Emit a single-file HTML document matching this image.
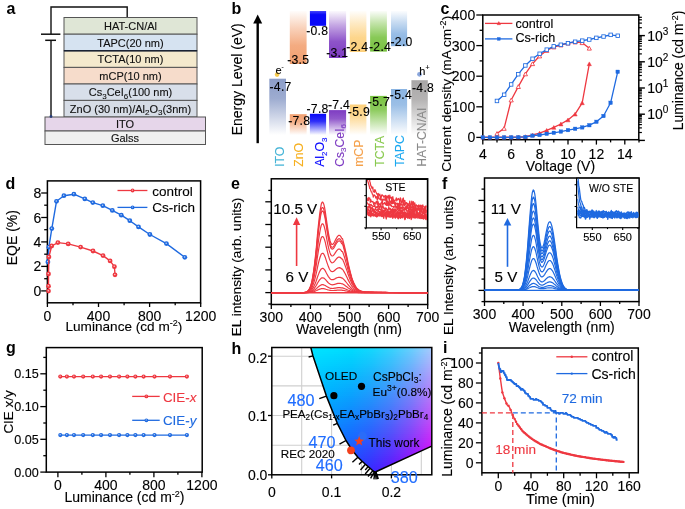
<!DOCTYPE html>
<html><head><meta charset="utf-8"><style>
html,body{margin:0;padding:0;background:#fff;}
svg{display:block;will-change:transform;}
text{font-family:"Liberation Sans", sans-serif;}
</style></head><body>
<svg width="685" height="509" viewBox="0 0 685 509">
<defs><linearGradient id="gl0" x1="0" y1="0" x2="0" y2="1"><stop offset="0" stop-color="#8c9dc8"/><stop offset="0.35" stop-color="#8c9dc8" stop-opacity="0.85"/><stop offset="1" stop-color="#8c9dc8" stop-opacity="0"/></linearGradient><linearGradient id="gu1" x1="0" y1="0" x2="0" y2="1"><stop offset="0" stop-color="#f2a070" stop-opacity="0.03"/><stop offset="0.3" stop-color="#f2a070" stop-opacity="0.45"/><stop offset="0.65" stop-color="#f2a070" stop-opacity="0.88"/><stop offset="1" stop-color="#f2a070"/></linearGradient><linearGradient id="gl1" x1="0" y1="0" x2="0" y2="1"><stop offset="0" stop-color="#f2a070"/><stop offset="0.35" stop-color="#f2a070" stop-opacity="0.85"/><stop offset="1" stop-color="#f2a070" stop-opacity="0"/></linearGradient><linearGradient id="gu2" x1="0" y1="0" x2="0" y2="1"><stop offset="0" stop-color="#0808f8" stop-opacity="0.75"/><stop offset="0.25" stop-color="#0808f8"/><stop offset="1" stop-color="#0808f8"/></linearGradient><linearGradient id="gl2" x1="0" y1="0" x2="0" y2="1"><stop offset="0" stop-color="#0808f8"/><stop offset="0.35" stop-color="#0808f8" stop-opacity="0.85"/><stop offset="1" stop-color="#0808f8" stop-opacity="0"/></linearGradient><linearGradient id="gu3" x1="0" y1="0" x2="0" y2="1"><stop offset="0" stop-color="#7e3cc2" stop-opacity="0.03"/><stop offset="0.3" stop-color="#7e3cc2" stop-opacity="0.45"/><stop offset="0.65" stop-color="#7e3cc2" stop-opacity="0.88"/><stop offset="1" stop-color="#7e3cc2"/></linearGradient><linearGradient id="gl3" x1="0" y1="0" x2="0" y2="1"><stop offset="0" stop-color="#7e3cc2"/><stop offset="0.35" stop-color="#7e3cc2" stop-opacity="0.85"/><stop offset="1" stop-color="#7e3cc2" stop-opacity="0"/></linearGradient><linearGradient id="gu4" x1="0" y1="0" x2="0" y2="1"><stop offset="0" stop-color="#fdd07c" stop-opacity="0.03"/><stop offset="0.3" stop-color="#fdd07c" stop-opacity="0.45"/><stop offset="0.65" stop-color="#fdd07c" stop-opacity="0.88"/><stop offset="1" stop-color="#fdd07c"/></linearGradient><linearGradient id="gl4" x1="0" y1="0" x2="0" y2="1"><stop offset="0" stop-color="#fdd07c"/><stop offset="0.35" stop-color="#fdd07c" stop-opacity="0.85"/><stop offset="1" stop-color="#fdd07c" stop-opacity="0"/></linearGradient><linearGradient id="gu5" x1="0" y1="0" x2="0" y2="1"><stop offset="0" stop-color="#78c240" stop-opacity="0.03"/><stop offset="0.3" stop-color="#78c240" stop-opacity="0.45"/><stop offset="0.65" stop-color="#78c240" stop-opacity="0.88"/><stop offset="1" stop-color="#78c240"/></linearGradient><linearGradient id="gl5" x1="0" y1="0" x2="0" y2="1"><stop offset="0" stop-color="#78c240"/><stop offset="0.35" stop-color="#78c240" stop-opacity="0.85"/><stop offset="1" stop-color="#78c240" stop-opacity="0"/></linearGradient><linearGradient id="gu6" x1="0" y1="0" x2="0" y2="1"><stop offset="0" stop-color="#8ab4e2" stop-opacity="0.03"/><stop offset="0.3" stop-color="#8ab4e2" stop-opacity="0.45"/><stop offset="0.65" stop-color="#8ab4e2" stop-opacity="0.88"/><stop offset="1" stop-color="#8ab4e2"/></linearGradient><linearGradient id="gl6" x1="0" y1="0" x2="0" y2="1"><stop offset="0" stop-color="#8ab4e2"/><stop offset="0.35" stop-color="#8ab4e2" stop-opacity="0.85"/><stop offset="1" stop-color="#8ab4e2" stop-opacity="0"/></linearGradient><linearGradient id="gl7" x1="0" y1="0" x2="0" y2="1"><stop offset="0" stop-color="#a8a6a6"/><stop offset="0.35" stop-color="#a8a6a6" stop-opacity="0.85"/><stop offset="1" stop-color="#a8a6a6" stop-opacity="0"/></linearGradient><linearGradient id="r0" gradientUnits="userSpaceOnUse" x1="271.8" y1="0" x2="431.8" y2="0"><stop offset="0.000" stop-color="#35eeff"/><stop offset="0.125" stop-color="#12e9ff"/><stop offset="0.250" stop-color="#00e5ff"/><stop offset="0.375" stop-color="#00e1ff"/><stop offset="0.500" stop-color="#00ddfe"/><stop offset="0.625" stop-color="#14d9fe"/><stop offset="0.750" stop-color="#37d5fd"/><stop offset="0.875" stop-color="#68d1fd"/><stop offset="1.000" stop-color="#a6cdfe"/></linearGradient><linearGradient id="r1" gradientUnits="userSpaceOnUse" x1="271.8" y1="0" x2="431.8" y2="0"><stop offset="0.000" stop-color="#35ecff"/><stop offset="0.125" stop-color="#13e8ff"/><stop offset="0.250" stop-color="#00e3ff"/><stop offset="0.375" stop-color="#00dfff"/><stop offset="0.500" stop-color="#00dbfe"/><stop offset="0.625" stop-color="#15d6fd"/><stop offset="0.750" stop-color="#38d2fd"/><stop offset="0.875" stop-color="#68cefd"/><stop offset="1.000" stop-color="#a7cafd"/></linearGradient><linearGradient id="r2" gradientUnits="userSpaceOnUse" x1="271.8" y1="0" x2="431.8" y2="0"><stop offset="0.000" stop-color="#35ebff"/><stop offset="0.125" stop-color="#13e6ff"/><stop offset="0.250" stop-color="#00e1ff"/><stop offset="0.375" stop-color="#00ddff"/><stop offset="0.500" stop-color="#00d8fe"/><stop offset="0.625" stop-color="#15d4fd"/><stop offset="0.750" stop-color="#38cffd"/><stop offset="0.875" stop-color="#69cbfd"/><stop offset="1.000" stop-color="#a8c6fd"/></linearGradient><linearGradient id="r3" gradientUnits="userSpaceOnUse" x1="271.8" y1="0" x2="431.8" y2="0"><stop offset="0.000" stop-color="#35e9ff"/><stop offset="0.125" stop-color="#13e4ff"/><stop offset="0.250" stop-color="#00dfff"/><stop offset="0.375" stop-color="#00dbff"/><stop offset="0.500" stop-color="#00d6fe"/><stop offset="0.625" stop-color="#16d1fd"/><stop offset="0.750" stop-color="#39ccfd"/><stop offset="0.875" stop-color="#6ac7fd"/><stop offset="1.000" stop-color="#a9c3fd"/></linearGradient><linearGradient id="r4" gradientUnits="userSpaceOnUse" x1="271.8" y1="0" x2="431.8" y2="0"><stop offset="0.000" stop-color="#35e8ff"/><stop offset="0.125" stop-color="#14e3ff"/><stop offset="0.250" stop-color="#00deff"/><stop offset="0.375" stop-color="#00d8ff"/><stop offset="0.500" stop-color="#01d3fe"/><stop offset="0.625" stop-color="#16cefd"/><stop offset="0.750" stop-color="#39c9fd"/><stop offset="0.875" stop-color="#6ac4fd"/><stop offset="1.000" stop-color="#a9bffd"/></linearGradient><linearGradient id="r5" gradientUnits="userSpaceOnUse" x1="271.8" y1="0" x2="431.8" y2="0"><stop offset="0.000" stop-color="#36e7ff"/><stop offset="0.125" stop-color="#14e1ff"/><stop offset="0.250" stop-color="#00dcff"/><stop offset="0.375" stop-color="#00d6ff"/><stop offset="0.500" stop-color="#01d1fe"/><stop offset="0.625" stop-color="#17ccfd"/><stop offset="0.750" stop-color="#3ac6fd"/><stop offset="0.875" stop-color="#6bc1fd"/><stop offset="1.000" stop-color="#aabcfd"/></linearGradient><linearGradient id="r6" gradientUnits="userSpaceOnUse" x1="271.8" y1="0" x2="431.8" y2="0"><stop offset="0.000" stop-color="#36e5ff"/><stop offset="0.125" stop-color="#14dfff"/><stop offset="0.250" stop-color="#00daff"/><stop offset="0.375" stop-color="#00d4ff"/><stop offset="0.500" stop-color="#02cefe"/><stop offset="0.625" stop-color="#17c9fd"/><stop offset="0.750" stop-color="#3bc3fd"/><stop offset="0.875" stop-color="#6cbefc"/><stop offset="1.000" stop-color="#abb9fc"/></linearGradient><linearGradient id="r7" gradientUnits="userSpaceOnUse" x1="271.8" y1="0" x2="431.8" y2="0"><stop offset="0.000" stop-color="#36e4ff"/><stop offset="0.125" stop-color="#14deff"/><stop offset="0.250" stop-color="#00d8ff"/><stop offset="0.375" stop-color="#00d2ff"/><stop offset="0.500" stop-color="#02ccfe"/><stop offset="0.625" stop-color="#18c6fd"/><stop offset="0.750" stop-color="#3bc0fd"/><stop offset="0.875" stop-color="#6cbbfc"/><stop offset="1.000" stop-color="#acb5fc"/></linearGradient><linearGradient id="r8" gradientUnits="userSpaceOnUse" x1="271.8" y1="0" x2="431.8" y2="0"><stop offset="0.000" stop-color="#36e2ff"/><stop offset="0.125" stop-color="#15dcff"/><stop offset="0.250" stop-color="#01d6ff"/><stop offset="0.375" stop-color="#00d0ff"/><stop offset="0.500" stop-color="#03cafe"/><stop offset="0.625" stop-color="#18c4fd"/><stop offset="0.750" stop-color="#3cbefc"/><stop offset="0.875" stop-color="#6db8fc"/><stop offset="1.000" stop-color="#acb2fc"/></linearGradient><linearGradient id="r9" gradientUnits="userSpaceOnUse" x1="271.8" y1="0" x2="431.8" y2="0"><stop offset="0.000" stop-color="#37e1ff"/><stop offset="0.125" stop-color="#15daff"/><stop offset="0.250" stop-color="#01d4ff"/><stop offset="0.375" stop-color="#00ceff"/><stop offset="0.500" stop-color="#03c7fe"/><stop offset="0.625" stop-color="#19c1fd"/><stop offset="0.750" stop-color="#3cbbfc"/><stop offset="0.875" stop-color="#6eb4fc"/><stop offset="1.000" stop-color="#adaefc"/></linearGradient><linearGradient id="r10" gradientUnits="userSpaceOnUse" x1="271.8" y1="0" x2="431.8" y2="0"><stop offset="0.000" stop-color="#37dfff"/><stop offset="0.125" stop-color="#15d9ff"/><stop offset="0.250" stop-color="#02d2ff"/><stop offset="0.375" stop-color="#00cbff"/><stop offset="0.500" stop-color="#04c5fe"/><stop offset="0.625" stop-color="#19befd"/><stop offset="0.750" stop-color="#3db8fc"/><stop offset="0.875" stop-color="#6fb1fc"/><stop offset="1.000" stop-color="#aeabfc"/></linearGradient><linearGradient id="r11" gradientUnits="userSpaceOnUse" x1="271.8" y1="0" x2="431.8" y2="0"><stop offset="0.000" stop-color="#37deff"/><stop offset="0.125" stop-color="#16d7ff"/><stop offset="0.250" stop-color="#02d0ff"/><stop offset="0.375" stop-color="#00c9ff"/><stop offset="0.500" stop-color="#04c2fe"/><stop offset="0.625" stop-color="#1abbfd"/><stop offset="0.750" stop-color="#3eb5fc"/><stop offset="0.875" stop-color="#6faefc"/><stop offset="1.000" stop-color="#afa7fc"/></linearGradient><linearGradient id="r12" gradientUnits="userSpaceOnUse" x1="271.8" y1="0" x2="431.8" y2="0"><stop offset="0.000" stop-color="#37ddff"/><stop offset="0.125" stop-color="#16d5ff"/><stop offset="0.250" stop-color="#02ceff"/><stop offset="0.375" stop-color="#00c7ff"/><stop offset="0.500" stop-color="#05c0fe"/><stop offset="0.625" stop-color="#1bb9fd"/><stop offset="0.750" stop-color="#3eb2fc"/><stop offset="0.875" stop-color="#70abfc"/><stop offset="1.000" stop-color="#afa4fb"/></linearGradient><linearGradient id="r13" gradientUnits="userSpaceOnUse" x1="271.8" y1="0" x2="431.8" y2="0"><stop offset="0.000" stop-color="#37dbff"/><stop offset="0.125" stop-color="#16d4ff"/><stop offset="0.250" stop-color="#03ccff"/><stop offset="0.375" stop-color="#00c5ff"/><stop offset="0.500" stop-color="#05bdfe"/><stop offset="0.625" stop-color="#1bb6fd"/><stop offset="0.750" stop-color="#3faffc"/><stop offset="0.875" stop-color="#71a7fb"/><stop offset="1.000" stop-color="#b0a0fb"/></linearGradient><linearGradient id="r14" gradientUnits="userSpaceOnUse" x1="271.8" y1="0" x2="431.8" y2="0"><stop offset="0.000" stop-color="#38daff"/><stop offset="0.125" stop-color="#16d2ff"/><stop offset="0.250" stop-color="#03caff"/><stop offset="0.375" stop-color="#00c2ff"/><stop offset="0.500" stop-color="#06bbfe"/><stop offset="0.625" stop-color="#1cb3fd"/><stop offset="0.750" stop-color="#40acfc"/><stop offset="0.875" stop-color="#71a4fb"/><stop offset="1.000" stop-color="#b19dfb"/></linearGradient><linearGradient id="r15" gradientUnits="userSpaceOnUse" x1="271.8" y1="0" x2="431.8" y2="0"><stop offset="0.000" stop-color="#38d8ff"/><stop offset="0.125" stop-color="#17d0ff"/><stop offset="0.250" stop-color="#03c8ff"/><stop offset="0.375" stop-color="#00c0ff"/><stop offset="0.500" stop-color="#06b8fe"/><stop offset="0.625" stop-color="#1cb0fd"/><stop offset="0.750" stop-color="#40a9fc"/><stop offset="0.875" stop-color="#72a1fb"/><stop offset="1.000" stop-color="#b299fb"/></linearGradient><linearGradient id="r16" gradientUnits="userSpaceOnUse" x1="271.8" y1="0" x2="431.8" y2="0"><stop offset="0.000" stop-color="#38d7ff"/><stop offset="0.125" stop-color="#17ceff"/><stop offset="0.250" stop-color="#04c6ff"/><stop offset="0.375" stop-color="#00beff"/><stop offset="0.500" stop-color="#07b6fe"/><stop offset="0.625" stop-color="#1daefd"/><stop offset="0.750" stop-color="#41a6fc"/><stop offset="0.875" stop-color="#739efb"/><stop offset="1.000" stop-color="#b296fb"/></linearGradient><linearGradient id="r17" gradientUnits="userSpaceOnUse" x1="271.8" y1="0" x2="431.8" y2="0"><stop offset="0.000" stop-color="#38d5ff"/><stop offset="0.125" stop-color="#17cdff"/><stop offset="0.250" stop-color="#04c4ff"/><stop offset="0.375" stop-color="#00bcff"/><stop offset="0.500" stop-color="#07b3fe"/><stop offset="0.625" stop-color="#1dabfc"/><stop offset="0.750" stop-color="#42a3fc"/><stop offset="0.875" stop-color="#739afb"/><stop offset="1.000" stop-color="#b392fb"/></linearGradient><linearGradient id="r18" gradientUnits="userSpaceOnUse" x1="271.8" y1="0" x2="431.8" y2="0"><stop offset="0.000" stop-color="#39d4ff"/><stop offset="0.125" stop-color="#18cbff"/><stop offset="0.250" stop-color="#04c2ff"/><stop offset="0.375" stop-color="#00b9ff"/><stop offset="0.500" stop-color="#08b1fe"/><stop offset="0.625" stop-color="#1ea8fc"/><stop offset="0.750" stop-color="#42a0fc"/><stop offset="0.875" stop-color="#7497fb"/><stop offset="1.000" stop-color="#b48ffa"/></linearGradient><linearGradient id="r19" gradientUnits="userSpaceOnUse" x1="271.8" y1="0" x2="431.8" y2="0"><stop offset="0.000" stop-color="#39d2ff"/><stop offset="0.125" stop-color="#18c9ff"/><stop offset="0.250" stop-color="#05c0ff"/><stop offset="0.375" stop-color="#00b7ff"/><stop offset="0.500" stop-color="#08aefe"/><stop offset="0.625" stop-color="#1fa5fc"/><stop offset="0.750" stop-color="#439dfc"/><stop offset="0.875" stop-color="#7594fb"/><stop offset="1.000" stop-color="#b58bfa"/></linearGradient><linearGradient id="r20" gradientUnits="userSpaceOnUse" x1="271.8" y1="0" x2="431.8" y2="0"><stop offset="0.000" stop-color="#39d1ff"/><stop offset="0.125" stop-color="#18c7ff"/><stop offset="0.250" stop-color="#05beff"/><stop offset="0.375" stop-color="#00b5ff"/><stop offset="0.500" stop-color="#09acfe"/><stop offset="0.625" stop-color="#1fa3fc"/><stop offset="0.750" stop-color="#439afb"/><stop offset="0.875" stop-color="#7691fb"/><stop offset="1.000" stop-color="#b688fa"/></linearGradient><linearGradient id="r21" gradientUnits="userSpaceOnUse" x1="271.8" y1="0" x2="431.8" y2="0"><stop offset="0.000" stop-color="#39cfff"/><stop offset="0.125" stop-color="#19c6ff"/><stop offset="0.250" stop-color="#06bcff"/><stop offset="0.375" stop-color="#00b3ff"/><stop offset="0.500" stop-color="#09a9fe"/><stop offset="0.625" stop-color="#20a0fc"/><stop offset="0.750" stop-color="#4497fb"/><stop offset="0.875" stop-color="#768dfb"/><stop offset="1.000" stop-color="#b684fa"/></linearGradient><linearGradient id="r22" gradientUnits="userSpaceOnUse" x1="271.8" y1="0" x2="431.8" y2="0"><stop offset="0.000" stop-color="#3aceff"/><stop offset="0.125" stop-color="#19c4ff"/><stop offset="0.250" stop-color="#06baff"/><stop offset="0.375" stop-color="#01b0ff"/><stop offset="0.500" stop-color="#0aa7fe"/><stop offset="0.625" stop-color="#209dfc"/><stop offset="0.750" stop-color="#4593fb"/><stop offset="0.875" stop-color="#778afb"/><stop offset="1.000" stop-color="#b781fa"/></linearGradient><linearGradient id="r23" gradientUnits="userSpaceOnUse" x1="271.8" y1="0" x2="431.8" y2="0"><stop offset="0.000" stop-color="#3accff"/><stop offset="0.125" stop-color="#19c2ff"/><stop offset="0.250" stop-color="#06b8ff"/><stop offset="0.375" stop-color="#01aeff"/><stop offset="0.500" stop-color="#0aa4fe"/><stop offset="0.625" stop-color="#219afc"/><stop offset="0.750" stop-color="#4590fb"/><stop offset="0.875" stop-color="#7887fa"/><stop offset="1.000" stop-color="#b87dfa"/></linearGradient><linearGradient id="r24" gradientUnits="userSpaceOnUse" x1="271.8" y1="0" x2="431.8" y2="0"><stop offset="0.000" stop-color="#3acaff"/><stop offset="0.125" stop-color="#1ac0ff"/><stop offset="0.250" stop-color="#07b6ff"/><stop offset="0.375" stop-color="#02acff"/><stop offset="0.500" stop-color="#0ba2fe"/><stop offset="0.625" stop-color="#2297fc"/><stop offset="0.750" stop-color="#468dfb"/><stop offset="0.875" stop-color="#7883fa"/><stop offset="1.000" stop-color="#b979fa"/></linearGradient><linearGradient id="r25" gradientUnits="userSpaceOnUse" x1="271.8" y1="0" x2="431.8" y2="0"><stop offset="0.000" stop-color="#3ac9ff"/><stop offset="0.125" stop-color="#1abeff"/><stop offset="0.250" stop-color="#07b4ff"/><stop offset="0.375" stop-color="#02a9ff"/><stop offset="0.500" stop-color="#0b9ffe"/><stop offset="0.625" stop-color="#2295fc"/><stop offset="0.750" stop-color="#478afb"/><stop offset="0.875" stop-color="#7980fa"/><stop offset="1.000" stop-color="#ba76fa"/></linearGradient><linearGradient id="r26" gradientUnits="userSpaceOnUse" x1="271.8" y1="0" x2="431.8" y2="0"><stop offset="0.000" stop-color="#3bc7ff"/><stop offset="0.125" stop-color="#1abdff"/><stop offset="0.250" stop-color="#08b2ff"/><stop offset="0.375" stop-color="#03a7ff"/><stop offset="0.500" stop-color="#0c9cfe"/><stop offset="0.625" stop-color="#2392fc"/><stop offset="0.750" stop-color="#4787fb"/><stop offset="0.875" stop-color="#7a7dfa"/><stop offset="1.000" stop-color="#ba72f9"/></linearGradient><linearGradient id="r27" gradientUnits="userSpaceOnUse" x1="271.8" y1="0" x2="431.8" y2="0"><stop offset="0.000" stop-color="#3bc6ff"/><stop offset="0.125" stop-color="#1bbbff"/><stop offset="0.250" stop-color="#08b0ff"/><stop offset="0.375" stop-color="#03a5ff"/><stop offset="0.500" stop-color="#0c9afe"/><stop offset="0.625" stop-color="#238ffc"/><stop offset="0.750" stop-color="#4884fb"/><stop offset="0.875" stop-color="#7b79fa"/><stop offset="1.000" stop-color="#bb6ff9"/></linearGradient><linearGradient id="r28" gradientUnits="userSpaceOnUse" x1="271.8" y1="0" x2="431.8" y2="0"><stop offset="0.000" stop-color="#3bc4ff"/><stop offset="0.125" stop-color="#1bb9ff"/><stop offset="0.250" stop-color="#08aeff"/><stop offset="0.375" stop-color="#04a2ff"/><stop offset="0.500" stop-color="#0d97fe"/><stop offset="0.625" stop-color="#248cfc"/><stop offset="0.750" stop-color="#4981fb"/><stop offset="0.875" stop-color="#7b76fa"/><stop offset="1.000" stop-color="#bc6bf9"/></linearGradient><linearGradient id="r29" gradientUnits="userSpaceOnUse" x1="271.8" y1="0" x2="431.8" y2="0"><stop offset="0.000" stop-color="#3cc3ff"/><stop offset="0.125" stop-color="#1bb7ff"/><stop offset="0.250" stop-color="#09abff"/><stop offset="0.375" stop-color="#04a0ff"/><stop offset="0.500" stop-color="#0d95fe"/><stop offset="0.625" stop-color="#2589fc"/><stop offset="0.750" stop-color="#497efb"/><stop offset="0.875" stop-color="#7c73fa"/><stop offset="1.000" stop-color="#bd67f9"/></linearGradient><linearGradient id="r30" gradientUnits="userSpaceOnUse" x1="271.8" y1="0" x2="431.8" y2="0"><stop offset="0.000" stop-color="#3cc1ff"/><stop offset="0.125" stop-color="#1cb5ff"/><stop offset="0.250" stop-color="#09a9ff"/><stop offset="0.375" stop-color="#059eff"/><stop offset="0.500" stop-color="#0e92fe"/><stop offset="0.625" stop-color="#2586fc"/><stop offset="0.750" stop-color="#4a7bfb"/><stop offset="0.875" stop-color="#7d6ffa"/><stop offset="1.000" stop-color="#be64f9"/></linearGradient><linearGradient id="r31" gradientUnits="userSpaceOnUse" x1="271.8" y1="0" x2="431.8" y2="0"><stop offset="0.000" stop-color="#3cbfff"/><stop offset="0.125" stop-color="#1cb3ff"/><stop offset="0.250" stop-color="#0aa7ff"/><stop offset="0.375" stop-color="#059bff"/><stop offset="0.500" stop-color="#0f8ffe"/><stop offset="0.625" stop-color="#2683fc"/><stop offset="0.750" stop-color="#4b78fb"/><stop offset="0.875" stop-color="#7e6cfa"/><stop offset="1.000" stop-color="#be60f9"/></linearGradient><linearGradient id="r32" gradientUnits="userSpaceOnUse" x1="271.8" y1="0" x2="431.8" y2="0"><stop offset="0.000" stop-color="#3cbeff"/><stop offset="0.125" stop-color="#1cb1ff"/><stop offset="0.250" stop-color="#0aa5ff"/><stop offset="0.375" stop-color="#0699ff"/><stop offset="0.500" stop-color="#0f8dfe"/><stop offset="0.625" stop-color="#2681fc"/><stop offset="0.750" stop-color="#4c75fb"/><stop offset="0.875" stop-color="#7e68fa"/><stop offset="1.000" stop-color="#bf5cf9"/></linearGradient><linearGradient id="r33" gradientUnits="userSpaceOnUse" x1="271.8" y1="0" x2="431.8" y2="0"><stop offset="0.000" stop-color="#3dbcff"/><stop offset="0.125" stop-color="#1db0ff"/><stop offset="0.250" stop-color="#0ba3ff"/><stop offset="0.375" stop-color="#0697ff"/><stop offset="0.500" stop-color="#108afe"/><stop offset="0.625" stop-color="#277efd"/><stop offset="0.750" stop-color="#4c71fb"/><stop offset="0.875" stop-color="#7f65fa"/><stop offset="1.000" stop-color="#c059f9"/></linearGradient><linearGradient id="r34" gradientUnits="userSpaceOnUse" x1="271.8" y1="0" x2="431.8" y2="0"><stop offset="0.000" stop-color="#3dbbff"/><stop offset="0.125" stop-color="#1daeff"/><stop offset="0.250" stop-color="#0ba1ff"/><stop offset="0.375" stop-color="#0794ff"/><stop offset="0.500" stop-color="#1087fe"/><stop offset="0.625" stop-color="#287bfd"/><stop offset="0.750" stop-color="#4d6efb"/><stop offset="0.875" stop-color="#8062fa"/><stop offset="1.000" stop-color="#c155f9"/></linearGradient><linearGradient id="r35" gradientUnits="userSpaceOnUse" x1="271.8" y1="0" x2="431.8" y2="0"><stop offset="0.000" stop-color="#3db9ff"/><stop offset="0.125" stop-color="#1dacff"/><stop offset="0.250" stop-color="#0b9fff"/><stop offset="0.375" stop-color="#0792ff"/><stop offset="0.500" stop-color="#1185fe"/><stop offset="0.625" stop-color="#2878fd"/><stop offset="0.750" stop-color="#4e6bfb"/><stop offset="0.875" stop-color="#815efa"/><stop offset="1.000" stop-color="#c252f9"/></linearGradient><linearGradient id="r36" gradientUnits="userSpaceOnUse" x1="271.8" y1="0" x2="431.8" y2="0"><stop offset="0.000" stop-color="#3eb7ff"/><stop offset="0.125" stop-color="#1eaaff"/><stop offset="0.250" stop-color="#0c9dff"/><stop offset="0.375" stop-color="#088fff"/><stop offset="0.500" stop-color="#1182fe"/><stop offset="0.625" stop-color="#2975fd"/><stop offset="0.750" stop-color="#4e68fb"/><stop offset="0.875" stop-color="#815bfa"/><stop offset="1.000" stop-color="#c34ef9"/></linearGradient><linearGradient id="r37" gradientUnits="userSpaceOnUse" x1="271.8" y1="0" x2="431.8" y2="0"><stop offset="0.000" stop-color="#3eb6ff"/><stop offset="0.125" stop-color="#1ea8ff"/><stop offset="0.250" stop-color="#0c9aff"/><stop offset="0.375" stop-color="#088dff"/><stop offset="0.500" stop-color="#1280ff"/><stop offset="0.625" stop-color="#2a72fd"/><stop offset="0.750" stop-color="#4f65fb"/><stop offset="0.875" stop-color="#8257fa"/><stop offset="1.000" stop-color="#c34af8"/></linearGradient><linearGradient id="r38" gradientUnits="userSpaceOnUse" x1="271.8" y1="0" x2="431.8" y2="0"><stop offset="0.000" stop-color="#3eb4ff"/><stop offset="0.125" stop-color="#1fa6ff"/><stop offset="0.250" stop-color="#0d98ff"/><stop offset="0.375" stop-color="#098bff"/><stop offset="0.500" stop-color="#137dff"/><stop offset="0.625" stop-color="#2a6ffd"/><stop offset="0.750" stop-color="#5062fb"/><stop offset="0.875" stop-color="#8354fa"/><stop offset="1.000" stop-color="#c447f8"/></linearGradient><linearGradient id="r39" gradientUnits="userSpaceOnUse" x1="271.8" y1="0" x2="431.8" y2="0"><stop offset="0.000" stop-color="#3fb2ff"/><stop offset="0.125" stop-color="#1fa4ff"/><stop offset="0.250" stop-color="#0d96ff"/><stop offset="0.375" stop-color="#0988ff"/><stop offset="0.500" stop-color="#137aff"/><stop offset="0.625" stop-color="#2b6cfd"/><stop offset="0.750" stop-color="#505efb"/><stop offset="0.875" stop-color="#8451fa"/><stop offset="1.000" stop-color="#c543f8"/></linearGradient><linearGradient id="r40" gradientUnits="userSpaceOnUse" x1="271.8" y1="0" x2="431.8" y2="0"><stop offset="0.000" stop-color="#3fb1ff"/><stop offset="0.125" stop-color="#1fa2ff"/><stop offset="0.250" stop-color="#0e94ff"/><stop offset="0.375" stop-color="#0a86ff"/><stop offset="0.500" stop-color="#1477ff"/><stop offset="0.625" stop-color="#2b69fd"/><stop offset="0.750" stop-color="#515bfb"/><stop offset="0.875" stop-color="#854dfa"/><stop offset="1.000" stop-color="#c63ff8"/></linearGradient><linearGradient id="r41" gradientUnits="userSpaceOnUse" x1="271.8" y1="0" x2="431.8" y2="0"><stop offset="0.000" stop-color="#3fafff"/><stop offset="0.125" stop-color="#20a0ff"/><stop offset="0.250" stop-color="#0e92ff"/><stop offset="0.375" stop-color="#0a83ff"/><stop offset="0.500" stop-color="#1475ff"/><stop offset="0.625" stop-color="#2c66fd"/><stop offset="0.750" stop-color="#5258fb"/><stop offset="0.875" stop-color="#854afa"/><stop offset="1.000" stop-color="#c73bf8"/></linearGradient><linearGradient id="r42" gradientUnits="userSpaceOnUse" x1="271.8" y1="0" x2="431.8" y2="0"><stop offset="0.000" stop-color="#3fadff"/><stop offset="0.125" stop-color="#209eff"/><stop offset="0.250" stop-color="#0f90ff"/><stop offset="0.375" stop-color="#0b81ff"/><stop offset="0.500" stop-color="#1572ff"/><stop offset="0.625" stop-color="#2d63fd"/><stop offset="0.750" stop-color="#5355fb"/><stop offset="0.875" stop-color="#8646fa"/><stop offset="1.000" stop-color="#c838f8"/></linearGradient><linearGradient id="r43" gradientUnits="userSpaceOnUse" x1="271.8" y1="0" x2="431.8" y2="0"><stop offset="0.000" stop-color="#40acff"/><stop offset="0.125" stop-color="#209cff"/><stop offset="0.250" stop-color="#0f8dff"/><stop offset="0.375" stop-color="#0b7eff"/><stop offset="0.500" stop-color="#156fff"/><stop offset="0.625" stop-color="#2d60fd"/><stop offset="0.750" stop-color="#5352fb"/><stop offset="0.875" stop-color="#8743fa"/><stop offset="1.000" stop-color="#c834f8"/></linearGradient><linearGradient id="r44" gradientUnits="userSpaceOnUse" x1="271.8" y1="0" x2="431.8" y2="0"><stop offset="0.000" stop-color="#40aaff"/><stop offset="0.125" stop-color="#219aff"/><stop offset="0.250" stop-color="#0f8bff"/><stop offset="0.375" stop-color="#0c7cff"/><stop offset="0.500" stop-color="#166dff"/><stop offset="0.625" stop-color="#2e5dfd"/><stop offset="0.750" stop-color="#544efb"/><stop offset="0.875" stop-color="#883ffa"/><stop offset="1.000" stop-color="#c930f8"/></linearGradient><linearGradient id="r45" gradientUnits="userSpaceOnUse" x1="271.8" y1="0" x2="431.8" y2="0"><stop offset="0.000" stop-color="#40a8ff"/><stop offset="0.125" stop-color="#2199ff"/><stop offset="0.250" stop-color="#1089ff"/><stop offset="0.375" stop-color="#0c79ff"/><stop offset="0.500" stop-color="#176aff"/><stop offset="0.625" stop-color="#2f5bfd"/><stop offset="0.750" stop-color="#554bfb"/><stop offset="0.875" stop-color="#893cfa"/><stop offset="1.000" stop-color="#ca2df8"/></linearGradient><linearGradient id="r46" gradientUnits="userSpaceOnUse" x1="271.8" y1="0" x2="431.8" y2="0"><stop offset="0.000" stop-color="#41a6ff"/><stop offset="0.125" stop-color="#2297ff"/><stop offset="0.250" stop-color="#1087ff"/><stop offset="0.375" stop-color="#0d77ff"/><stop offset="0.500" stop-color="#1767ff"/><stop offset="0.625" stop-color="#2f58fd"/><stop offset="0.750" stop-color="#5548fb"/><stop offset="0.875" stop-color="#8938fa"/><stop offset="1.000" stop-color="#cb29f8"/></linearGradient><linearGradient id="r47" gradientUnits="userSpaceOnUse" x1="271.8" y1="0" x2="431.8" y2="0"><stop offset="0.000" stop-color="#41a5ff"/><stop offset="0.125" stop-color="#2295ff"/><stop offset="0.250" stop-color="#1184ff"/><stop offset="0.375" stop-color="#0d74ff"/><stop offset="0.500" stop-color="#1864ff"/><stop offset="0.625" stop-color="#3055fd"/><stop offset="0.750" stop-color="#5645fb"/><stop offset="0.875" stop-color="#8a35fa"/><stop offset="1.000" stop-color="#cc25f8"/></linearGradient><linearGradient id="r48" gradientUnits="userSpaceOnUse" x1="271.8" y1="0" x2="431.8" y2="0"><stop offset="0.000" stop-color="#41a3ff"/><stop offset="0.125" stop-color="#2293ff"/><stop offset="0.250" stop-color="#1182ff"/><stop offset="0.375" stop-color="#0e72ff"/><stop offset="0.500" stop-color="#1862ff"/><stop offset="0.625" stop-color="#3152fd"/><stop offset="0.750" stop-color="#5741fb"/><stop offset="0.875" stop-color="#8b31fa"/><stop offset="1.000" stop-color="#cd21f8"/></linearGradient><linearGradient id="r49" gradientUnits="userSpaceOnUse" x1="271.8" y1="0" x2="431.8" y2="0"><stop offset="0.000" stop-color="#42a1ff"/><stop offset="0.125" stop-color="#2391ff"/><stop offset="0.250" stop-color="#1280ff"/><stop offset="0.375" stop-color="#0e6fff"/><stop offset="0.500" stop-color="#195fff"/><stop offset="0.625" stop-color="#314ffe"/><stop offset="0.750" stop-color="#583efb"/><stop offset="0.875" stop-color="#8c2efa"/><stop offset="1.000" stop-color="#ce1ef8"/></linearGradient><linearGradient id="r50" gradientUnits="userSpaceOnUse" x1="271.8" y1="0" x2="431.8" y2="0"><stop offset="0.000" stop-color="#429fff"/><stop offset="0.125" stop-color="#238fff"/><stop offset="0.250" stop-color="#127eff"/><stop offset="0.375" stop-color="#0f6dff"/><stop offset="0.500" stop-color="#1a5cff"/><stop offset="0.625" stop-color="#324cfe"/><stop offset="0.750" stop-color="#583bfc"/><stop offset="0.875" stop-color="#8d2afa"/><stop offset="1.000" stop-color="#cf1af8"/></linearGradient><linearGradient id="r51" gradientUnits="userSpaceOnUse" x1="271.8" y1="0" x2="431.8" y2="0"><stop offset="0.000" stop-color="#439eff"/><stop offset="0.125" stop-color="#248dff"/><stop offset="0.250" stop-color="#137bff"/><stop offset="0.375" stop-color="#106aff"/><stop offset="0.500" stop-color="#1a59ff"/><stop offset="0.625" stop-color="#3348fe"/><stop offset="0.750" stop-color="#5938fc"/><stop offset="0.875" stop-color="#8d27fa"/><stop offset="1.000" stop-color="#cf16f8"/></linearGradient><linearGradient id="r52" gradientUnits="userSpaceOnUse" x1="271.8" y1="0" x2="431.8" y2="0"><stop offset="0.000" stop-color="#439cff"/><stop offset="0.125" stop-color="#248bff"/><stop offset="0.250" stop-color="#1379ff"/><stop offset="0.375" stop-color="#1068ff"/><stop offset="0.500" stop-color="#1b57ff"/><stop offset="0.625" stop-color="#3345fe"/><stop offset="0.750" stop-color="#5a34fc"/><stop offset="0.875" stop-color="#8e23fa"/><stop offset="1.000" stop-color="#d012f8"/></linearGradient><linearGradient id="r53" gradientUnits="userSpaceOnUse" x1="271.8" y1="0" x2="431.8" y2="0"><stop offset="0.000" stop-color="#439aff"/><stop offset="0.125" stop-color="#2589ff"/><stop offset="0.250" stop-color="#1477ff"/><stop offset="0.375" stop-color="#1165ff"/><stop offset="0.500" stop-color="#1c54ff"/><stop offset="0.625" stop-color="#3442fe"/><stop offset="0.750" stop-color="#5b31fc"/><stop offset="0.875" stop-color="#8f20fa"/><stop offset="1.000" stop-color="#d10ef8"/></linearGradient><linearGradient id="r54" gradientUnits="userSpaceOnUse" x1="271.8" y1="0" x2="431.8" y2="0"><stop offset="0.000" stop-color="#4498ff"/><stop offset="0.125" stop-color="#2586ff"/><stop offset="0.250" stop-color="#1475ff"/><stop offset="0.375" stop-color="#1163ff"/><stop offset="0.500" stop-color="#1c51ff"/><stop offset="0.625" stop-color="#353ffe"/><stop offset="0.750" stop-color="#5b2efc"/><stop offset="0.875" stop-color="#901cfa"/><stop offset="1.000" stop-color="#d20bf8"/></linearGradient><linearGradient id="r55" gradientUnits="userSpaceOnUse" x1="271.8" y1="0" x2="431.8" y2="0"><stop offset="0.000" stop-color="#4497ff"/><stop offset="0.125" stop-color="#2584ff"/><stop offset="0.250" stop-color="#1572ff"/><stop offset="0.375" stop-color="#1260ff"/><stop offset="0.500" stop-color="#1d4eff"/><stop offset="0.625" stop-color="#363cfe"/><stop offset="0.750" stop-color="#5c2afc"/><stop offset="0.875" stop-color="#9119fa"/><stop offset="1.000" stop-color="#d307f8"/></linearGradient><linearGradient id="r56" gradientUnits="userSpaceOnUse" x1="271.8" y1="0" x2="431.8" y2="0"><stop offset="0.000" stop-color="#4495ff"/><stop offset="0.125" stop-color="#2682ff"/><stop offset="0.250" stop-color="#1570ff"/><stop offset="0.375" stop-color="#125eff"/><stop offset="0.500" stop-color="#1d4bff"/><stop offset="0.625" stop-color="#3639fe"/><stop offset="0.750" stop-color="#5d27fc"/><stop offset="0.875" stop-color="#9115fa"/><stop offset="1.000" stop-color="#d403f8"/></linearGradient><linearGradient id="r57" gradientUnits="userSpaceOnUse" x1="271.8" y1="0" x2="431.8" y2="0"><stop offset="0.000" stop-color="#4593ff"/><stop offset="0.125" stop-color="#2680ff"/><stop offset="0.250" stop-color="#166eff"/><stop offset="0.375" stop-color="#135bff"/><stop offset="0.500" stop-color="#1e49ff"/><stop offset="0.625" stop-color="#3736fe"/><stop offset="0.750" stop-color="#5e24fc"/><stop offset="0.875" stop-color="#9211fa"/><stop offset="1.000" stop-color="#d500f8"/></linearGradient><linearGradient id="r58" gradientUnits="userSpaceOnUse" x1="271.8" y1="0" x2="431.8" y2="0"><stop offset="0.000" stop-color="#4591ff"/><stop offset="0.125" stop-color="#277eff"/><stop offset="0.250" stop-color="#166bff"/><stop offset="0.375" stop-color="#1359ff"/><stop offset="0.500" stop-color="#1f46ff"/><stop offset="0.625" stop-color="#3833ff"/><stop offset="0.750" stop-color="#5e20fc"/><stop offset="0.875" stop-color="#930efa"/><stop offset="1.000" stop-color="#d600f8"/></linearGradient><linearGradient id="r59" gradientUnits="userSpaceOnUse" x1="271.8" y1="0" x2="431.8" y2="0"><stop offset="0.000" stop-color="#458fff"/><stop offset="0.125" stop-color="#277cff"/><stop offset="0.250" stop-color="#1769ff"/><stop offset="0.375" stop-color="#1456ff"/><stop offset="0.500" stop-color="#1f43ff"/><stop offset="0.625" stop-color="#3830ff"/><stop offset="0.750" stop-color="#5f1dfc"/><stop offset="0.875" stop-color="#940afa"/><stop offset="1.000" stop-color="#d700f8"/></linearGradient><linearGradient id="r60" gradientUnits="userSpaceOnUse" x1="271.8" y1="0" x2="431.8" y2="0"><stop offset="0.000" stop-color="#468eff"/><stop offset="0.125" stop-color="#287aff"/><stop offset="0.250" stop-color="#1767ff"/><stop offset="0.375" stop-color="#1553ff"/><stop offset="0.500" stop-color="#2040ff"/><stop offset="0.625" stop-color="#392dff"/><stop offset="0.750" stop-color="#601afc"/><stop offset="0.875" stop-color="#9507fa"/><stop offset="1.000" stop-color="#d700f8"/></linearGradient><linearGradient id="r61" gradientUnits="userSpaceOnUse" x1="271.8" y1="0" x2="431.8" y2="0"><stop offset="0.000" stop-color="#468cff"/><stop offset="0.125" stop-color="#2878ff"/><stop offset="0.250" stop-color="#1864ff"/><stop offset="0.375" stop-color="#1551ff"/><stop offset="0.500" stop-color="#213dff"/><stop offset="0.625" stop-color="#3a2aff"/><stop offset="0.750" stop-color="#6116fc"/><stop offset="0.875" stop-color="#9603fa"/><stop offset="1.000" stop-color="#d800f8"/></linearGradient><linearGradient id="r62" gradientUnits="userSpaceOnUse" x1="271.8" y1="0" x2="431.8" y2="0"><stop offset="0.000" stop-color="#478aff"/><stop offset="0.125" stop-color="#2876ff"/><stop offset="0.250" stop-color="#1862ff"/><stop offset="0.375" stop-color="#164eff"/><stop offset="0.500" stop-color="#213aff"/><stop offset="0.625" stop-color="#3a27ff"/><stop offset="0.750" stop-color="#6213fd"/><stop offset="0.875" stop-color="#9600fa"/><stop offset="1.000" stop-color="#d900f8"/></linearGradient><linearGradient id="r63" gradientUnits="userSpaceOnUse" x1="271.8" y1="0" x2="431.8" y2="0"><stop offset="0.000" stop-color="#4788ff"/><stop offset="0.125" stop-color="#2974ff"/><stop offset="0.250" stop-color="#1960ff"/><stop offset="0.375" stop-color="#164cff"/><stop offset="0.500" stop-color="#2238ff"/><stop offset="0.625" stop-color="#3b24ff"/><stop offset="0.750" stop-color="#6210fd"/><stop offset="0.875" stop-color="#9700fa"/><stop offset="1.000" stop-color="#da00f8"/></linearGradient><linearGradient id="r64" gradientUnits="userSpaceOnUse" x1="271.8" y1="0" x2="431.8" y2="0"><stop offset="0.000" stop-color="#4786ff"/><stop offset="0.125" stop-color="#2972ff"/><stop offset="0.250" stop-color="#195dff"/><stop offset="0.375" stop-color="#1749ff"/><stop offset="0.500" stop-color="#2335ff"/><stop offset="0.625" stop-color="#3c20ff"/><stop offset="0.750" stop-color="#630cfd"/><stop offset="0.875" stop-color="#9800fa"/><stop offset="1.000" stop-color="#db00f8"/></linearGradient></defs>
<rect width="685" height="509" fill="#fff"/>
<text x="6.5" y="14" font-size="16" text-anchor="start" fill="#000" font-weight="bold" >a</text>
<text x="231.5" y="14" font-size="16" text-anchor="start" fill="#000" font-weight="bold" >b</text>
<text x="440.5" y="14" font-size="16" text-anchor="start" fill="#000" font-weight="bold" >c</text>
<text x="5.5" y="189" font-size="16" text-anchor="start" fill="#000" font-weight="bold" >d</text>
<text x="231" y="189" font-size="16" text-anchor="start" fill="#000" font-weight="bold" >e</text>
<text x="442" y="189" font-size="16" text-anchor="start" fill="#000" font-weight="bold" >f</text>
<text x="6" y="353" font-size="16" text-anchor="start" fill="#000" font-weight="bold" >g</text>
<text x="231.5" y="353.5" font-size="16" text-anchor="start" fill="#000" font-weight="bold" >h</text>
<text x="443" y="353" font-size="16" text-anchor="start" fill="#000" font-weight="bold" >i</text>
<path d="M51,117 V40.3 M51,34.2 V7 H127.2 V17.5" fill="none" stroke="#111" stroke-width="1.4"/>
<line x1="41" y1="34.2" x2="60.4" y2="34.2" stroke="#111" stroke-width="1.5" />
<line x1="45.2" y1="40.3" x2="56" y2="40.3" stroke="#111" stroke-width="1.5" />
<rect x="64" y="17.5" width="133" height="16.7" fill="#dfe6d6" stroke="#555" stroke-width="1" />
<text x="130.5" y="29.9" font-size="11" text-anchor="middle" fill="#111" font-weight="normal" stroke="#111" stroke-width="0.12" >HAT-CN/Al</text>
<rect x="64" y="34.2" width="133" height="16.6" fill="#d6e3f1" stroke="#555" stroke-width="1" />
<text x="130.5" y="46.5" font-size="11" text-anchor="middle" fill="#111" font-weight="normal" stroke="#111" stroke-width="0.12" >TAPC(20 nm)</text>
<rect x="64" y="50.8" width="133" height="16.6" fill="#f4e9cd" stroke="#555" stroke-width="1" />
<text x="130.5" y="63.1" font-size="11" text-anchor="middle" fill="#111" font-weight="normal" stroke="#111" stroke-width="0.12" >TCTA(10 nm)</text>
<rect x="64" y="67.4" width="133" height="16.6" fill="#f6dccb" stroke="#555" stroke-width="1" />
<text x="130.5" y="79.7" font-size="11" text-anchor="middle" fill="#111" font-weight="normal" stroke="#111" stroke-width="0.12" >mCP(10 nm)</text>
<rect x="64" y="84" width="133" height="16.4" fill="#d8dfea" stroke="#555" stroke-width="1" />
<text x="130.5" y="96.2" font-size="11" text-anchor="middle" fill="#111" font-weight="normal" stroke="#111" stroke-width="0.12" >Cs<tspan dy="2.5" font-size="8">3</tspan><tspan dy="-2.5">CeI</tspan><tspan dy="2.5" font-size="8">6</tspan><tspan dy="-2.5">(100 nm)</tspan></text>
<rect x="64" y="100.4" width="133" height="16.6" fill="#d6dce6" stroke="#555" stroke-width="1" />
<text x="130.5" y="112.7" font-size="11" text-anchor="middle" fill="#111" font-weight="normal" stroke="#111" stroke-width="0.12" >ZnO (30 nm)/Al<tspan dy="2.5" font-size="8">2</tspan><tspan dy="-2.5">O</tspan><tspan dy="2.5" font-size="8">3</tspan><tspan dy="-2.5">(3nm)</tspan></text>
<line x1="64" y1="50.8" x2="197" y2="50.8" stroke="#1a2233" stroke-width="1.6" />
<rect x="45" y="117" width="160.5" height="14" fill="#e6d6ea" stroke="#555" stroke-width="1" />
<text x="125" y="128.2" font-size="11" text-anchor="middle" fill="#111" font-weight="normal" stroke="#111" stroke-width="0.12" >ITO</text>
<rect x="45" y="131" width="160.5" height="13.5" fill="#f0f0f0" stroke="#555" stroke-width="1" />
<text x="125" y="141.7" font-size="11" text-anchor="middle" fill="#111" font-weight="normal" stroke="#111" stroke-width="0.12" >Galss</text>
<circle cx="51" cy="116.5" r="1.4" fill="#2a3f7a"/>
<path d="M257.7,143.2 V22" stroke="#000" stroke-width="2.4"/>
<path d="M253.2,23.5 L262.2,23.5 L257.7,14.5 Z" fill="#000"/>
<text x="0" y="0" font-size="14" text-anchor="start" fill="#000" font-weight="normal" stroke="#000" stroke-width="0.12" transform="translate(241.6,135.3) rotate(-90)" >Energy Level (eV)</text>
<rect x="269.3" y="78.7" width="16.7" height="56.3" fill="url(#gl0)" stroke="none" stroke-width="1" />
<rect x="289.8" y="11" width="16.8" height="53" fill="url(#gu1)" stroke="none" stroke-width="1" />
<rect x="289.8" y="114.2" width="16.8" height="20.8" fill="url(#gl1)" stroke="none" stroke-width="1" />
<rect x="309.9" y="11" width="16.2" height="14.8" fill="url(#gu2)" stroke="none" stroke-width="1" />
<rect x="309.9" y="113.8" width="16.2" height="21.2" fill="url(#gl2)" stroke="none" stroke-width="1" />
<rect x="329" y="11" width="17.1" height="47" fill="url(#gu3)" stroke="none" stroke-width="1" />
<rect x="329" y="110.1" width="17.1" height="24.9" fill="url(#gl3)" stroke="none" stroke-width="1" />
<rect x="349.8" y="11" width="16.6" height="41" fill="url(#gu4)" stroke="none" stroke-width="1" />
<rect x="349.8" y="104.5" width="16.6" height="30.5" fill="url(#gl4)" stroke="none" stroke-width="1" />
<rect x="370.1" y="11" width="16.8" height="40.6" fill="url(#gu5)" stroke="none" stroke-width="1" />
<rect x="370.1" y="95.9" width="16.8" height="39.1" fill="url(#gl5)" stroke="none" stroke-width="1" />
<rect x="391" y="11" width="16.1" height="35.2" fill="url(#gu6)" stroke="none" stroke-width="1" />
<rect x="391" y="89" width="16.1" height="46" fill="url(#gl6)" stroke="none" stroke-width="1" />
<rect x="411.4" y="80.2" width="16.4" height="54.8" fill="url(#gl7)" stroke="none" stroke-width="1" />
<text x="287.2" y="64" font-size="12.2" text-anchor="start" fill="#000" font-weight="normal" stroke="#000" stroke-width="0.12" letter-spacing="0.3">-3.5</text>
<text x="306.2" y="35.2" font-size="12.2" text-anchor="start" fill="#000" font-weight="normal" stroke="#000" stroke-width="0.12" letter-spacing="0.3">-0.8</text>
<text x="326.2" y="57.4" font-size="12.2" text-anchor="start" fill="#000" font-weight="normal" stroke="#000" stroke-width="0.12" letter-spacing="0.3">-3.1</text>
<text x="346.2" y="51" font-size="12.2" text-anchor="start" fill="#000" font-weight="normal" stroke="#000" stroke-width="0.12" letter-spacing="0.3">-2.4</text>
<text x="369" y="51" font-size="12.2" text-anchor="start" fill="#000" font-weight="normal" stroke="#000" stroke-width="0.12" letter-spacing="0.3">-2.4</text>
<text x="390.5" y="45.5" font-size="12.2" text-anchor="start" fill="#000" font-weight="normal" stroke="#000" stroke-width="0.12" letter-spacing="0.3">-2.0</text>
<text x="269.5" y="91.3" font-size="12.2" text-anchor="start" fill="#000" font-weight="normal" stroke="#000" stroke-width="0.12" letter-spacing="0.3">-4.7</text>
<text x="288.2" y="125" font-size="12.2" text-anchor="start" fill="#000" font-weight="normal" stroke="#000" stroke-width="0.12" letter-spacing="0.3">-7.8</text>
<text x="306.5" y="113.3" font-size="12.2" text-anchor="start" fill="#000" font-weight="normal" stroke="#000" stroke-width="0.12" letter-spacing="0.3">-7.8</text>
<text x="328" y="108.6" font-size="12.2" text-anchor="start" fill="#000" font-weight="normal" stroke="#000" stroke-width="0.12" letter-spacing="0.3">-7.4</text>
<text x="347.8" y="115.7" font-size="12.2" text-anchor="start" fill="#000" font-weight="normal" stroke="#000" stroke-width="0.12" letter-spacing="0.3">-5.9</text>
<text x="367.8" y="105.8" font-size="12.2" text-anchor="start" fill="#000" font-weight="normal" stroke="#000" stroke-width="0.12" letter-spacing="0.3">-5.7</text>
<text x="389.8" y="99.3" font-size="12.2" text-anchor="start" fill="#000" font-weight="normal" stroke="#000" stroke-width="0.12" letter-spacing="0.3">-5.4</text>
<text x="412" y="92.2" font-size="12.2" text-anchor="start" fill="#000" font-weight="normal" stroke="#000" stroke-width="0.12" letter-spacing="0.3">-4.8</text>
<circle cx="277.1" cy="74.6" r="2.3" fill="#f8cc50"/>
<text x="275.4" y="74.1" font-size="11" text-anchor="start" fill="#000" font-weight="normal" stroke="#000" stroke-width="0.12" >e<tspan dy="-5" font-size="6.5">-</tspan></text>
<circle cx="419.5" cy="74.3" r="2.4" fill="#8aa6dc"/>
<text x="419.3" y="74.8" font-size="11" text-anchor="start" fill="#000" font-weight="normal" stroke="#000" stroke-width="0.12" >h<tspan dy="-5" font-size="7">+</tspan></text>
<text x="0" y="0" font-size="12.2" text-anchor="start" fill="#45b4d6" font-weight="normal" stroke="#45b4d6" stroke-width="0.12" transform="translate(283.9,166.8) rotate(-90)" >ITO</text>
<text x="0" y="0" font-size="12.2" text-anchor="start" fill="#f6b020" font-weight="normal" stroke="#f6b020" stroke-width="0.12" transform="translate(303.2,166.8) rotate(-90)" >ZnO</text>
<text x="0" y="0" font-size="12.2" text-anchor="start" fill="#0a0aff" font-weight="normal" stroke="#0a0aff" stroke-width="0.12" transform="translate(324.3,166.8) rotate(-90)" >Al<tspan dy="2.5" font-size="8">2</tspan><tspan dy="-2.5">O</tspan><tspan dy="2.5" font-size="8">3</tspan></text>
<text x="0" y="0" font-size="12.2" text-anchor="start" fill="#7e3cc2" font-weight="normal" stroke="#7e3cc2" stroke-width="0.12" transform="translate(343.7,166.8) rotate(-90)" >Cs<tspan dy="2.5" font-size="8">3</tspan><tspan dy="-2.5">CeI</tspan><tspan dy="2.5" font-size="8">6</tspan></text>
<text x="0" y="0" font-size="12.2" text-anchor="start" fill="#f5a04a" font-weight="normal" stroke="#f5a04a" stroke-width="0.12" transform="translate(363.2,166.8) rotate(-90)" >mCP</text>
<text x="0" y="0" font-size="12.2" text-anchor="start" fill="#88c94e" font-weight="normal" stroke="#88c94e" stroke-width="0.12" transform="translate(383.8,166.8) rotate(-90)" >TCTA</text>
<text x="0" y="0" font-size="12.2" text-anchor="start" fill="#1ba8f0" font-weight="normal" stroke="#1ba8f0" stroke-width="0.12" transform="translate(404.3,166.8) rotate(-90)" >TAPC</text>
<text x="0" y="0" font-size="12.2" text-anchor="start" fill="#8a8a8a" font-weight="normal" stroke="#8a8a8a" stroke-width="0.12" transform="translate(425.7,166.8) rotate(-90)" >HAT-CN/Al</text>
<rect x="482.8" y="15" width="156" height="124.7" fill="none" stroke="#000" stroke-width="1.5" />
<line x1="476.3" y1="137.4" x2="482.8" y2="137.4" stroke="#000" stroke-width="1.3" />
<text x="475.2" y="142.4" font-size="14" text-anchor="end" fill="#000" font-weight="normal" stroke="#000" stroke-width="0.12" >0</text>
<line x1="479.6" y1="122.1" x2="482.8" y2="122.1" stroke="#000" stroke-width="1.3" />
<line x1="476.3" y1="106.8" x2="482.8" y2="106.8" stroke="#000" stroke-width="1.3" />
<text x="475.2" y="111.8" font-size="14" text-anchor="end" fill="#000" font-weight="normal" stroke="#000" stroke-width="0.12" >100</text>
<line x1="479.6" y1="91.5" x2="482.8" y2="91.5" stroke="#000" stroke-width="1.3" />
<line x1="476.3" y1="76.2" x2="482.8" y2="76.2" stroke="#000" stroke-width="1.3" />
<text x="475.2" y="81.2" font-size="14" text-anchor="end" fill="#000" font-weight="normal" stroke="#000" stroke-width="0.12" >200</text>
<line x1="479.6" y1="60.9" x2="482.8" y2="60.9" stroke="#000" stroke-width="1.3" />
<line x1="476.3" y1="45.6" x2="482.8" y2="45.6" stroke="#000" stroke-width="1.3" />
<text x="475.2" y="50.6" font-size="14" text-anchor="end" fill="#000" font-weight="normal" stroke="#000" stroke-width="0.12" >300</text>
<line x1="479.6" y1="30.3" x2="482.8" y2="30.3" stroke="#000" stroke-width="1.3" />
<line x1="476.3" y1="15" x2="482.8" y2="15" stroke="#000" stroke-width="1.3" />
<text x="475.2" y="20" font-size="14" text-anchor="end" fill="#000" font-weight="normal" stroke="#000" stroke-width="0.12" >400</text>
<line x1="482.8" y1="139.7" x2="482.8" y2="144.6" stroke="#000" stroke-width="1.3" />
<text x="482.8" y="158.7" font-size="14" text-anchor="middle" fill="#000" font-weight="normal" stroke="#000" stroke-width="0.12" >4</text>
<line x1="497" y1="139.7" x2="497" y2="142.4" stroke="#000" stroke-width="1.3" />
<line x1="511.2" y1="139.7" x2="511.2" y2="144.6" stroke="#000" stroke-width="1.3" />
<text x="511.2" y="158.7" font-size="14" text-anchor="middle" fill="#000" font-weight="normal" stroke="#000" stroke-width="0.12" >6</text>
<line x1="525.4" y1="139.7" x2="525.4" y2="142.4" stroke="#000" stroke-width="1.3" />
<line x1="539.6" y1="139.7" x2="539.6" y2="144.6" stroke="#000" stroke-width="1.3" />
<text x="539.6" y="158.7" font-size="14" text-anchor="middle" fill="#000" font-weight="normal" stroke="#000" stroke-width="0.12" >8</text>
<line x1="553.8" y1="139.7" x2="553.8" y2="142.4" stroke="#000" stroke-width="1.3" />
<line x1="568" y1="139.7" x2="568" y2="144.6" stroke="#000" stroke-width="1.3" />
<text x="568" y="158.7" font-size="14" text-anchor="middle" fill="#000" font-weight="normal" stroke="#000" stroke-width="0.12" >10</text>
<line x1="582.2" y1="139.7" x2="582.2" y2="142.4" stroke="#000" stroke-width="1.3" />
<line x1="596.4" y1="139.7" x2="596.4" y2="144.6" stroke="#000" stroke-width="1.3" />
<text x="596.4" y="158.7" font-size="14" text-anchor="middle" fill="#000" font-weight="normal" stroke="#000" stroke-width="0.12" >12</text>
<line x1="610.6" y1="139.7" x2="610.6" y2="142.4" stroke="#000" stroke-width="1.3" />
<line x1="624.8" y1="139.7" x2="624.8" y2="144.6" stroke="#000" stroke-width="1.3" />
<text x="624.8" y="158.7" font-size="14" text-anchor="middle" fill="#000" font-weight="normal" stroke="#000" stroke-width="0.12" >14</text>
<line x1="639" y1="139.7" x2="639" y2="142.4" stroke="#000" stroke-width="1.3" />
<text x="560.5" y="170.6" font-size="14" text-anchor="middle" fill="#000" font-weight="normal" stroke="#000" stroke-width="0.12" >Voltage (V)</text>
<text x="0" y="0" font-size="13.7" text-anchor="start" fill="#000" font-weight="normal" stroke="#000" stroke-width="0.12" transform="translate(451.2,171.8) rotate(-90)" >Current density (mA cm<tspan dy="-5.5" font-size="9.5">-2</tspan><tspan dy="5.5">)</tspan></text>
<line x1="638.8" y1="140.4" x2="644.9" y2="140.4" stroke="#000" stroke-width="1.4" />
<line x1="638.8" y1="132.5" x2="641.9" y2="132.5" stroke="#000" stroke-width="1.2" />
<line x1="638.8" y1="127.9" x2="641.9" y2="127.9" stroke="#000" stroke-width="1.2" />
<line x1="638.8" y1="124.6" x2="641.9" y2="124.6" stroke="#000" stroke-width="1.2" />
<line x1="638.8" y1="122.1" x2="641.9" y2="122.1" stroke="#000" stroke-width="1.2" />
<line x1="638.8" y1="120" x2="641.9" y2="120" stroke="#000" stroke-width="1.2" />
<line x1="638.8" y1="118.3" x2="641.9" y2="118.3" stroke="#000" stroke-width="1.2" />
<line x1="638.8" y1="116.7" x2="641.9" y2="116.7" stroke="#000" stroke-width="1.2" />
<line x1="638.8" y1="115.4" x2="641.9" y2="115.4" stroke="#000" stroke-width="1.2" />
<line x1="638.8" y1="114.2" x2="644.9" y2="114.2" stroke="#000" stroke-width="1.4" />
<line x1="638.8" y1="106.3" x2="641.9" y2="106.3" stroke="#000" stroke-width="1.2" />
<line x1="638.8" y1="101.7" x2="641.9" y2="101.7" stroke="#000" stroke-width="1.2" />
<line x1="638.8" y1="98.4" x2="641.9" y2="98.4" stroke="#000" stroke-width="1.2" />
<line x1="638.8" y1="95.9" x2="641.9" y2="95.9" stroke="#000" stroke-width="1.2" />
<line x1="638.8" y1="93.8" x2="641.9" y2="93.8" stroke="#000" stroke-width="1.2" />
<line x1="638.8" y1="92.1" x2="641.9" y2="92.1" stroke="#000" stroke-width="1.2" />
<line x1="638.8" y1="90.5" x2="641.9" y2="90.5" stroke="#000" stroke-width="1.2" />
<line x1="638.8" y1="89.2" x2="641.9" y2="89.2" stroke="#000" stroke-width="1.2" />
<line x1="638.8" y1="88" x2="644.9" y2="88" stroke="#000" stroke-width="1.4" />
<line x1="638.8" y1="80.1" x2="641.9" y2="80.1" stroke="#000" stroke-width="1.2" />
<line x1="638.8" y1="75.5" x2="641.9" y2="75.5" stroke="#000" stroke-width="1.2" />
<line x1="638.8" y1="72.2" x2="641.9" y2="72.2" stroke="#000" stroke-width="1.2" />
<line x1="638.8" y1="69.7" x2="641.9" y2="69.7" stroke="#000" stroke-width="1.2" />
<line x1="638.8" y1="67.6" x2="641.9" y2="67.6" stroke="#000" stroke-width="1.2" />
<line x1="638.8" y1="65.9" x2="641.9" y2="65.9" stroke="#000" stroke-width="1.2" />
<line x1="638.8" y1="64.3" x2="641.9" y2="64.3" stroke="#000" stroke-width="1.2" />
<line x1="638.8" y1="63" x2="641.9" y2="63" stroke="#000" stroke-width="1.2" />
<line x1="638.8" y1="61.8" x2="644.9" y2="61.8" stroke="#000" stroke-width="1.4" />
<line x1="638.8" y1="53.9" x2="641.9" y2="53.9" stroke="#000" stroke-width="1.2" />
<line x1="638.8" y1="49.3" x2="641.9" y2="49.3" stroke="#000" stroke-width="1.2" />
<line x1="638.8" y1="46" x2="641.9" y2="46" stroke="#000" stroke-width="1.2" />
<line x1="638.8" y1="43.5" x2="641.9" y2="43.5" stroke="#000" stroke-width="1.2" />
<line x1="638.8" y1="41.4" x2="641.9" y2="41.4" stroke="#000" stroke-width="1.2" />
<line x1="638.8" y1="39.7" x2="641.9" y2="39.7" stroke="#000" stroke-width="1.2" />
<line x1="638.8" y1="38.1" x2="641.9" y2="38.1" stroke="#000" stroke-width="1.2" />
<line x1="638.8" y1="36.8" x2="641.9" y2="36.8" stroke="#000" stroke-width="1.2" />
<line x1="638.8" y1="35.6" x2="644.9" y2="35.6" stroke="#000" stroke-width="1.4" />
<line x1="638.8" y1="27.7" x2="641.9" y2="27.7" stroke="#000" stroke-width="1.2" />
<line x1="638.8" y1="23.1" x2="641.9" y2="23.1" stroke="#000" stroke-width="1.2" />
<line x1="638.8" y1="19.8" x2="641.9" y2="19.8" stroke="#000" stroke-width="1.2" />
<line x1="638.8" y1="17.3" x2="641.9" y2="17.3" stroke="#000" stroke-width="1.2" />
<text x="647.2" y="119.2" font-size="14" text-anchor="start" fill="#000" font-weight="normal" stroke="#000" stroke-width="0.12" >10<tspan dy="-6" font-size="10">0</tspan></text>
<text x="647.2" y="93" font-size="14" text-anchor="start" fill="#000" font-weight="normal" stroke="#000" stroke-width="0.12" >10<tspan dy="-6" font-size="10">1</tspan></text>
<text x="647.2" y="66.8" font-size="14" text-anchor="start" fill="#000" font-weight="normal" stroke="#000" stroke-width="0.12" >10<tspan dy="-6" font-size="10">2</tspan></text>
<text x="647.2" y="40.6" font-size="14" text-anchor="start" fill="#000" font-weight="normal" stroke="#000" stroke-width="0.12" >10<tspan dy="-6" font-size="10">3</tspan></text>
<text x="0" y="0" font-size="13.9" text-anchor="start" fill="#000" font-weight="normal" stroke="#000" stroke-width="0.12" transform="translate(682.6,130.2) rotate(-90)" >Luminance (cd m<tspan dy="-5" font-size="9.5">-2</tspan><tspan dy="5">)</tspan></text>
<polyline points="497,133.5 504.1,128.4 511.2,100 518.3,86.6 525.4,73.9 532.5,63.7 539.6,56 546.7,50.5 553.8,47 560.9,45 568,43.1 575.1,42 582.2,42.7 589.3,48.2" fill="none" stroke="#ee3841" stroke-width="1.3" stroke-linejoin="round" />
<path d="M494.9,135.4 L499.1,135.4 L497,131.6 Z" fill="#fff" stroke="#ee3841" stroke-width="0.85"/>
<path d="M502,130.3 L506.2,130.3 L504.1,126.5 Z" fill="#fff" stroke="#ee3841" stroke-width="0.85"/>
<path d="M509.1,101.9 L513.3,101.9 L511.2,98.1 Z" fill="#fff" stroke="#ee3841" stroke-width="0.85"/>
<path d="M516.2,88.5 L520.4,88.5 L518.3,84.7 Z" fill="#fff" stroke="#ee3841" stroke-width="0.85"/>
<path d="M523.3,75.8 L527.5,75.8 L525.4,72 Z" fill="#fff" stroke="#ee3841" stroke-width="0.85"/>
<path d="M530.4,65.6 L534.6,65.6 L532.5,61.8 Z" fill="#fff" stroke="#ee3841" stroke-width="0.85"/>
<path d="M537.5,57.9 L541.7,57.9 L539.6,54.1 Z" fill="#fff" stroke="#ee3841" stroke-width="0.85"/>
<path d="M544.6,52.4 L548.8,52.4 L546.7,48.6 Z" fill="#fff" stroke="#ee3841" stroke-width="0.85"/>
<path d="M551.7,48.9 L555.9,48.9 L553.8,45.1 Z" fill="#fff" stroke="#ee3841" stroke-width="0.85"/>
<path d="M558.8,46.9 L563,46.9 L560.9,43.1 Z" fill="#fff" stroke="#ee3841" stroke-width="0.85"/>
<path d="M565.9,45 L570.1,45 L568,41.2 Z" fill="#fff" stroke="#ee3841" stroke-width="0.85"/>
<path d="M573,43.9 L577.2,43.9 L575.1,40.1 Z" fill="#fff" stroke="#ee3841" stroke-width="0.85"/>
<path d="M580.1,44.6 L584.3,44.6 L582.2,40.8 Z" fill="#fff" stroke="#ee3841" stroke-width="0.85"/>
<path d="M587.2,50.1 L591.4,50.1 L589.3,46.3 Z" fill="#fff" stroke="#ee3841" stroke-width="0.85"/>
<polyline points="497,100.9 504.1,94.7 511.2,84.4 518.3,74.2 525.4,65.4 532.5,58.8 539.6,53.7 546.7,49.6 553.8,46.4 560.9,44.7 568,43.2 575.1,41.7 582.2,40.6 589.3,39.5 596.4,37.9 603.5,36.5 610.6,34.9 617.7,35.8" fill="none" stroke="#1f6ae0" stroke-width="1.3" stroke-linejoin="round" />
<rect x="495.2" y="99.2" width="3.5" height="3.5" fill="#fff" stroke="#1f6ae0" stroke-width="0.85"/>
<rect x="502.4" y="93" width="3.5" height="3.5" fill="#fff" stroke="#1f6ae0" stroke-width="0.85"/>
<rect x="509.4" y="82.7" width="3.5" height="3.5" fill="#fff" stroke="#1f6ae0" stroke-width="0.85"/>
<rect x="516.5" y="72.5" width="3.5" height="3.5" fill="#fff" stroke="#1f6ae0" stroke-width="0.85"/>
<rect x="523.6" y="63.7" width="3.5" height="3.5" fill="#fff" stroke="#1f6ae0" stroke-width="0.85"/>
<rect x="530.8" y="57" width="3.5" height="3.5" fill="#fff" stroke="#1f6ae0" stroke-width="0.85"/>
<rect x="537.9" y="52" width="3.5" height="3.5" fill="#fff" stroke="#1f6ae0" stroke-width="0.85"/>
<rect x="545" y="47.9" width="3.5" height="3.5" fill="#fff" stroke="#1f6ae0" stroke-width="0.85"/>
<rect x="552" y="44.6" width="3.5" height="3.5" fill="#fff" stroke="#1f6ae0" stroke-width="0.85"/>
<rect x="559.1" y="43" width="3.5" height="3.5" fill="#fff" stroke="#1f6ae0" stroke-width="0.85"/>
<rect x="566.2" y="41.5" width="3.5" height="3.5" fill="#fff" stroke="#1f6ae0" stroke-width="0.85"/>
<rect x="573.4" y="40" width="3.5" height="3.5" fill="#fff" stroke="#1f6ae0" stroke-width="0.85"/>
<rect x="580.5" y="38.9" width="3.5" height="3.5" fill="#fff" stroke="#1f6ae0" stroke-width="0.85"/>
<rect x="587.5" y="37.8" width="3.5" height="3.5" fill="#fff" stroke="#1f6ae0" stroke-width="0.85"/>
<rect x="594.6" y="36.1" width="3.5" height="3.5" fill="#fff" stroke="#1f6ae0" stroke-width="0.85"/>
<rect x="601.8" y="34.8" width="3.5" height="3.5" fill="#fff" stroke="#1f6ae0" stroke-width="0.85"/>
<rect x="608.9" y="33.1" width="3.5" height="3.5" fill="#fff" stroke="#1f6ae0" stroke-width="0.85"/>
<rect x="616" y="34" width="3.5" height="3.5" fill="#fff" stroke="#1f6ae0" stroke-width="0.85"/>
<polyline points="482.8,137.2 489.9,137.2 497,137.2 504.1,137.1 511.2,137.1 518.3,137 525.4,136.6 532.5,135 539.6,133.1 546.7,130.3 553.8,127.4 560.9,124 568,119.9 575.1,114.1 582.2,102.8 589.3,63.8" fill="none" stroke="#ee3841" stroke-width="1.3" stroke-linejoin="round" />
<path d="M480.7,139.1 L484.9,139.1 L482.8,135.3 Z" fill="#ee3841" stroke="#ee3841" stroke-width="0.5"/>
<path d="M487.8,139.1 L492,139.1 L489.9,135.3 Z" fill="#ee3841" stroke="#ee3841" stroke-width="0.5"/>
<path d="M494.9,139.1 L499.1,139.1 L497,135.3 Z" fill="#ee3841" stroke="#ee3841" stroke-width="0.5"/>
<path d="M502,139 L506.2,139 L504.1,135.2 Z" fill="#ee3841" stroke="#ee3841" stroke-width="0.5"/>
<path d="M509.1,139 L513.3,139 L511.2,135.2 Z" fill="#ee3841" stroke="#ee3841" stroke-width="0.5"/>
<path d="M516.2,138.9 L520.4,138.9 L518.3,135.1 Z" fill="#ee3841" stroke="#ee3841" stroke-width="0.5"/>
<path d="M523.3,138.5 L527.5,138.5 L525.4,134.7 Z" fill="#ee3841" stroke="#ee3841" stroke-width="0.5"/>
<path d="M530.4,136.9 L534.6,136.9 L532.5,133.1 Z" fill="#ee3841" stroke="#ee3841" stroke-width="0.5"/>
<path d="M537.5,135 L541.7,135 L539.6,131.2 Z" fill="#ee3841" stroke="#ee3841" stroke-width="0.5"/>
<path d="M544.6,132.2 L548.8,132.2 L546.7,128.4 Z" fill="#ee3841" stroke="#ee3841" stroke-width="0.5"/>
<path d="M551.7,129.3 L555.9,129.3 L553.8,125.5 Z" fill="#ee3841" stroke="#ee3841" stroke-width="0.5"/>
<path d="M558.8,125.9 L563,125.9 L560.9,122.1 Z" fill="#ee3841" stroke="#ee3841" stroke-width="0.5"/>
<path d="M565.9,121.8 L570.1,121.8 L568,118 Z" fill="#ee3841" stroke="#ee3841" stroke-width="0.5"/>
<path d="M573,116 L577.2,116 L575.1,112.2 Z" fill="#ee3841" stroke="#ee3841" stroke-width="0.5"/>
<path d="M580.1,104.7 L584.3,104.7 L582.2,100.9 Z" fill="#ee3841" stroke="#ee3841" stroke-width="0.5"/>
<path d="M587.2,65.7 L591.4,65.7 L589.3,61.9 Z" fill="#ee3841" stroke="#ee3841" stroke-width="0.5"/>
<polyline points="482.8,137.4 489.9,137.4 497,137.4 504.1,137.4 511.2,137.3 518.3,137.2 525.4,137 532.5,135.7 539.6,135 546.7,133.8 553.8,132.8 560.9,131.6 568,130.1 575.1,128.8 582.2,127.4 589.3,125.2 596.4,121.8 603.5,116 610.6,102.8 617.7,71.8" fill="none" stroke="#1f6ae0" stroke-width="1.3" stroke-linejoin="round" />
<rect x="481" y="135.6" width="3.6" height="3.6" fill="#1f6ae0" stroke="#1f6ae0" stroke-width="0.3"/>
<rect x="488.1" y="135.6" width="3.6" height="3.6" fill="#1f6ae0" stroke="#1f6ae0" stroke-width="0.3"/>
<rect x="495.2" y="135.6" width="3.6" height="3.6" fill="#1f6ae0" stroke="#1f6ae0" stroke-width="0.3"/>
<rect x="502.3" y="135.6" width="3.6" height="3.6" fill="#1f6ae0" stroke="#1f6ae0" stroke-width="0.3"/>
<rect x="509.4" y="135.5" width="3.6" height="3.6" fill="#1f6ae0" stroke="#1f6ae0" stroke-width="0.3"/>
<rect x="516.5" y="135.4" width="3.6" height="3.6" fill="#1f6ae0" stroke="#1f6ae0" stroke-width="0.3"/>
<rect x="523.6" y="135.2" width="3.6" height="3.6" fill="#1f6ae0" stroke="#1f6ae0" stroke-width="0.3"/>
<rect x="530.7" y="133.9" width="3.6" height="3.6" fill="#1f6ae0" stroke="#1f6ae0" stroke-width="0.3"/>
<rect x="537.8" y="133.2" width="3.6" height="3.6" fill="#1f6ae0" stroke="#1f6ae0" stroke-width="0.3"/>
<rect x="544.9" y="132" width="3.6" height="3.6" fill="#1f6ae0" stroke="#1f6ae0" stroke-width="0.3"/>
<rect x="552" y="131" width="3.6" height="3.6" fill="#1f6ae0" stroke="#1f6ae0" stroke-width="0.3"/>
<rect x="559.1" y="129.8" width="3.6" height="3.6" fill="#1f6ae0" stroke="#1f6ae0" stroke-width="0.3"/>
<rect x="566.2" y="128.3" width="3.6" height="3.6" fill="#1f6ae0" stroke="#1f6ae0" stroke-width="0.3"/>
<rect x="573.3" y="127" width="3.6" height="3.6" fill="#1f6ae0" stroke="#1f6ae0" stroke-width="0.3"/>
<rect x="580.4" y="125.6" width="3.6" height="3.6" fill="#1f6ae0" stroke="#1f6ae0" stroke-width="0.3"/>
<rect x="587.5" y="123.4" width="3.6" height="3.6" fill="#1f6ae0" stroke="#1f6ae0" stroke-width="0.3"/>
<rect x="594.6" y="120" width="3.6" height="3.6" fill="#1f6ae0" stroke="#1f6ae0" stroke-width="0.3"/>
<rect x="601.7" y="114.2" width="3.6" height="3.6" fill="#1f6ae0" stroke="#1f6ae0" stroke-width="0.3"/>
<rect x="608.8" y="101" width="3.6" height="3.6" fill="#1f6ae0" stroke="#1f6ae0" stroke-width="0.3"/>
<rect x="615.9" y="70" width="3.6" height="3.6" fill="#1f6ae0" stroke="#1f6ae0" stroke-width="0.3"/>
<line x1="485" y1="23.4" x2="512.4" y2="23.4" stroke="#ee3841" stroke-width="1.3" />
<path d="M497,24.7 L500.6,24.7 L498.8,21.5 Z" fill="#ee3841" stroke="#ee3841" stroke-width="0.4"/>
<line x1="485" y1="38.9" x2="512.4" y2="38.9" stroke="#1f6ae0" stroke-width="1.3" />
<rect x="497.3" y="37.4" width="3" height="3" fill="#1f6ae0" stroke="#1f6ae0" stroke-width="0.3"/>
<text x="515.4" y="27.6" font-size="12.6" text-anchor="start" fill="#000" font-weight="normal" stroke="#000" stroke-width="0.12" >control</text>
<text x="515.4" y="42.4" font-size="12.6" text-anchor="start" fill="#000" font-weight="normal" stroke="#000" stroke-width="0.12" >Cs-rich</text>
<rect x="47.4" y="180.9" width="153.2" height="121.9" fill="none" stroke="#000" stroke-width="1.5" />
<line x1="41.2" y1="290.9" x2="47.4" y2="290.9" stroke="#000" stroke-width="1.3" />
<text x="41.2" y="295.9" font-size="14" text-anchor="end" fill="#000" font-weight="normal" stroke="#000" stroke-width="0.12" >0</text>
<line x1="44.2" y1="278.7" x2="47.4" y2="278.7" stroke="#000" stroke-width="1.3" />
<line x1="41.2" y1="266.4" x2="47.4" y2="266.4" stroke="#000" stroke-width="1.3" />
<text x="41.2" y="271.4" font-size="14" text-anchor="end" fill="#000" font-weight="normal" stroke="#000" stroke-width="0.12" >2</text>
<line x1="44.2" y1="254.2" x2="47.4" y2="254.2" stroke="#000" stroke-width="1.3" />
<line x1="41.2" y1="241.9" x2="47.4" y2="241.9" stroke="#000" stroke-width="1.3" />
<text x="41.2" y="246.9" font-size="14" text-anchor="end" fill="#000" font-weight="normal" stroke="#000" stroke-width="0.12" >4</text>
<line x1="44.2" y1="229.7" x2="47.4" y2="229.7" stroke="#000" stroke-width="1.3" />
<line x1="41.2" y1="217.5" x2="47.4" y2="217.5" stroke="#000" stroke-width="1.3" />
<text x="41.2" y="222.5" font-size="14" text-anchor="end" fill="#000" font-weight="normal" stroke="#000" stroke-width="0.12" >6</text>
<line x1="44.2" y1="205.2" x2="47.4" y2="205.2" stroke="#000" stroke-width="1.3" />
<line x1="41.2" y1="193" x2="47.4" y2="193" stroke="#000" stroke-width="1.3" />
<text x="41.2" y="198" font-size="14" text-anchor="end" fill="#000" font-weight="normal" stroke="#000" stroke-width="0.12" >8</text>
<line x1="47.4" y1="302.8" x2="47.4" y2="307" stroke="#000" stroke-width="1.3" />
<text x="47.4" y="321" font-size="14" text-anchor="middle" fill="#000" font-weight="normal" stroke="#000" stroke-width="0.12" >0</text>
<line x1="73" y1="302.8" x2="73" y2="305.3" stroke="#000" stroke-width="1.3" />
<line x1="98.5" y1="302.8" x2="98.5" y2="307" stroke="#000" stroke-width="1.3" />
<text x="98.5" y="321" font-size="14" text-anchor="middle" fill="#000" font-weight="normal" stroke="#000" stroke-width="0.12" >400</text>
<line x1="124.1" y1="302.8" x2="124.1" y2="305.3" stroke="#000" stroke-width="1.3" />
<line x1="149.6" y1="302.8" x2="149.6" y2="307" stroke="#000" stroke-width="1.3" />
<text x="149.6" y="321" font-size="14" text-anchor="middle" fill="#000" font-weight="normal" stroke="#000" stroke-width="0.12" >800</text>
<line x1="175.2" y1="302.8" x2="175.2" y2="305.3" stroke="#000" stroke-width="1.3" />
<line x1="200.7" y1="302.8" x2="200.7" y2="307" stroke="#000" stroke-width="1.3" />
<text x="200.7" y="321" font-size="14" text-anchor="middle" fill="#000" font-weight="normal" stroke="#000" stroke-width="0.12" >1200</text>
<text x="123.9" y="331.4" font-size="13.6" text-anchor="middle" fill="#000" font-weight="normal" stroke="#000" stroke-width="0.12" >Luminance (cd m<tspan dy="-5" font-size="9">-2</tspan><tspan dy="5">)</tspan></text>
<text x="0" y="0" font-size="14" text-anchor="middle" fill="#000" font-weight="normal" stroke="#000" stroke-width="0.12" transform="translate(17.3,237.7) rotate(-90)" >EQE (%)</text>
<polyline points="47.9,262 48.9,247.2 51.8,228.6 56.5,201.3 63.9,195.7 73.9,194.2 84.8,198.9 92.8,202.6 102.8,205.7 112.3,210.4 121.3,215.2 129.8,220.7 138.5,226.9 149.9,234.5 166.4,243.6 184.8,257.3" fill="none" stroke="#1f6ae0" stroke-width="1.4" stroke-linejoin="round" />
<circle cx="47.9" cy="262" r="2.4" fill="#1f6ae0"/><circle cx="47.7" cy="261.6" r="0.77" fill="#fff" fill-opacity="0.7"/>
<circle cx="48.9" cy="247.2" r="2.4" fill="#1f6ae0"/><circle cx="48.7" cy="246.8" r="0.77" fill="#fff" fill-opacity="0.7"/>
<circle cx="51.8" cy="228.6" r="2.4" fill="#1f6ae0"/><circle cx="51.6" cy="228.2" r="0.77" fill="#fff" fill-opacity="0.7"/>
<circle cx="56.5" cy="201.3" r="2.4" fill="#1f6ae0"/><circle cx="56.3" cy="200.9" r="0.77" fill="#fff" fill-opacity="0.7"/>
<circle cx="63.9" cy="195.7" r="2.4" fill="#1f6ae0"/><circle cx="63.7" cy="195.3" r="0.77" fill="#fff" fill-opacity="0.7"/>
<circle cx="73.9" cy="194.2" r="2.4" fill="#1f6ae0"/><circle cx="73.7" cy="193.8" r="0.77" fill="#fff" fill-opacity="0.7"/>
<circle cx="84.8" cy="198.9" r="2.4" fill="#1f6ae0"/><circle cx="84.6" cy="198.5" r="0.77" fill="#fff" fill-opacity="0.7"/>
<circle cx="92.8" cy="202.6" r="2.4" fill="#1f6ae0"/><circle cx="92.6" cy="202.2" r="0.77" fill="#fff" fill-opacity="0.7"/>
<circle cx="102.8" cy="205.7" r="2.4" fill="#1f6ae0"/><circle cx="102.6" cy="205.3" r="0.77" fill="#fff" fill-opacity="0.7"/>
<circle cx="112.3" cy="210.4" r="2.4" fill="#1f6ae0"/><circle cx="112.1" cy="210" r="0.77" fill="#fff" fill-opacity="0.7"/>
<circle cx="121.3" cy="215.2" r="2.4" fill="#1f6ae0"/><circle cx="121.1" cy="214.8" r="0.77" fill="#fff" fill-opacity="0.7"/>
<circle cx="129.8" cy="220.7" r="2.4" fill="#1f6ae0"/><circle cx="129.6" cy="220.3" r="0.77" fill="#fff" fill-opacity="0.7"/>
<circle cx="138.5" cy="226.9" r="2.4" fill="#1f6ae0"/><circle cx="138.3" cy="226.5" r="0.77" fill="#fff" fill-opacity="0.7"/>
<circle cx="149.9" cy="234.5" r="2.4" fill="#1f6ae0"/><circle cx="149.7" cy="234.1" r="0.77" fill="#fff" fill-opacity="0.7"/>
<circle cx="166.4" cy="243.6" r="2.4" fill="#1f6ae0"/><circle cx="166.2" cy="243.2" r="0.77" fill="#fff" fill-opacity="0.7"/>
<circle cx="184.8" cy="257.3" r="2.4" fill="#1f6ae0"/><circle cx="184.6" cy="256.9" r="0.77" fill="#fff" fill-opacity="0.7"/>
<polyline points="48.5,291.1 48.5,286.2 48.5,273.9 48.9,256.9 51.7,246 57.9,242.6 68.2,243.9 80.6,247.1 93,251 103,255.6 110.1,260.9 114.4,266.7 115,274.8" fill="none" stroke="#ee3841" stroke-width="1.4" stroke-linejoin="round" />
<circle cx="48.5" cy="291.1" r="2.4" fill="#ee3841"/><circle cx="48.3" cy="290.7" r="0.77" fill="#fff" fill-opacity="0.7"/>
<circle cx="48.5" cy="286.2" r="2.4" fill="#ee3841"/><circle cx="48.3" cy="285.8" r="0.77" fill="#fff" fill-opacity="0.7"/>
<circle cx="48.5" cy="273.9" r="2.4" fill="#ee3841"/><circle cx="48.3" cy="273.5" r="0.77" fill="#fff" fill-opacity="0.7"/>
<circle cx="48.9" cy="256.9" r="2.4" fill="#ee3841"/><circle cx="48.7" cy="256.5" r="0.77" fill="#fff" fill-opacity="0.7"/>
<circle cx="51.7" cy="246" r="2.4" fill="#ee3841"/><circle cx="51.5" cy="245.6" r="0.77" fill="#fff" fill-opacity="0.7"/>
<circle cx="57.9" cy="242.6" r="2.4" fill="#ee3841"/><circle cx="57.7" cy="242.2" r="0.77" fill="#fff" fill-opacity="0.7"/>
<circle cx="68.2" cy="243.9" r="2.4" fill="#ee3841"/><circle cx="68" cy="243.5" r="0.77" fill="#fff" fill-opacity="0.7"/>
<circle cx="80.6" cy="247.1" r="2.4" fill="#ee3841"/><circle cx="80.4" cy="246.7" r="0.77" fill="#fff" fill-opacity="0.7"/>
<circle cx="93" cy="251" r="2.4" fill="#ee3841"/><circle cx="92.8" cy="250.6" r="0.77" fill="#fff" fill-opacity="0.7"/>
<circle cx="103" cy="255.6" r="2.4" fill="#ee3841"/><circle cx="102.8" cy="255.2" r="0.77" fill="#fff" fill-opacity="0.7"/>
<circle cx="110.1" cy="260.9" r="2.4" fill="#ee3841"/><circle cx="109.9" cy="260.5" r="0.77" fill="#fff" fill-opacity="0.7"/>
<circle cx="114.4" cy="266.7" r="2.4" fill="#ee3841"/><circle cx="114.2" cy="266.3" r="0.77" fill="#fff" fill-opacity="0.7"/>
<circle cx="115" cy="274.8" r="2.4" fill="#ee3841"/><circle cx="114.8" cy="274.4" r="0.77" fill="#fff" fill-opacity="0.7"/>
<line x1="117.5" y1="190.5" x2="147.4" y2="190.5" stroke="#ee3841" stroke-width="1.3" />
<circle cx="132.6" cy="190.5" r="1.9" fill="#ee3841"/><circle cx="132.4" cy="190.1" r="0.61" fill="#fff" fill-opacity="0.7"/>
<line x1="117.5" y1="207.4" x2="147.4" y2="207.4" stroke="#1f6ae0" stroke-width="1.3" />
<circle cx="132.6" cy="207.4" r="1.9" fill="#1f6ae0"/><circle cx="132.4" cy="207" r="0.61" fill="#fff" fill-opacity="0.7"/>
<text x="152.3" y="195.6" font-size="13.5" text-anchor="start" fill="#000" font-weight="normal" stroke="#000" stroke-width="0.12" >control</text>
<text x="152.3" y="212.2" font-size="13.5" text-anchor="start" fill="#000" font-weight="normal" stroke="#000" stroke-width="0.12" >Cs-rich</text>
<rect x="271.3" y="178.8" width="156.4" height="125.7" fill="none" stroke="#000" stroke-width="1.5" />
<line x1="268.3" y1="304" x2="271.3" y2="304" stroke="#000" stroke-width="1.3" />
<line x1="265.3" y1="292.6" x2="271.3" y2="292.6" stroke="#000" stroke-width="1.3" />
<line x1="268.3" y1="281.3" x2="271.3" y2="281.3" stroke="#000" stroke-width="1.3" />
<line x1="265.3" y1="269.9" x2="271.3" y2="269.9" stroke="#000" stroke-width="1.3" />
<line x1="268.3" y1="258.6" x2="271.3" y2="258.6" stroke="#000" stroke-width="1.3" />
<line x1="265.3" y1="247.2" x2="271.3" y2="247.2" stroke="#000" stroke-width="1.3" />
<line x1="268.3" y1="235.8" x2="271.3" y2="235.8" stroke="#000" stroke-width="1.3" />
<line x1="265.3" y1="224.5" x2="271.3" y2="224.5" stroke="#000" stroke-width="1.3" />
<line x1="268.3" y1="213.1" x2="271.3" y2="213.1" stroke="#000" stroke-width="1.3" />
<line x1="265.3" y1="201.8" x2="271.3" y2="201.8" stroke="#000" stroke-width="1.3" />
<line x1="268.3" y1="190.4" x2="271.3" y2="190.4" stroke="#000" stroke-width="1.3" />
<line x1="271.3" y1="304.5" x2="271.3" y2="309" stroke="#000" stroke-width="1.3" />
<text x="271.3" y="321.7" font-size="14" text-anchor="middle" fill="#000" font-weight="normal" stroke="#000" stroke-width="0.12" >300</text>
<line x1="290.9" y1="304.5" x2="290.9" y2="307" stroke="#000" stroke-width="1.3" />
<line x1="310.4" y1="304.5" x2="310.4" y2="309" stroke="#000" stroke-width="1.3" />
<text x="310.4" y="321.7" font-size="14" text-anchor="middle" fill="#000" font-weight="normal" stroke="#000" stroke-width="0.12" >400</text>
<line x1="330" y1="304.5" x2="330" y2="307" stroke="#000" stroke-width="1.3" />
<line x1="349.5" y1="304.5" x2="349.5" y2="309" stroke="#000" stroke-width="1.3" />
<text x="349.5" y="321.7" font-size="14" text-anchor="middle" fill="#000" font-weight="normal" stroke="#000" stroke-width="0.12" >500</text>
<line x1="369.1" y1="304.5" x2="369.1" y2="307" stroke="#000" stroke-width="1.3" />
<line x1="388.6" y1="304.5" x2="388.6" y2="309" stroke="#000" stroke-width="1.3" />
<text x="388.6" y="321.7" font-size="14" text-anchor="middle" fill="#000" font-weight="normal" stroke="#000" stroke-width="0.12" >600</text>
<line x1="408.1" y1="304.5" x2="408.1" y2="307" stroke="#000" stroke-width="1.3" />
<line x1="427.7" y1="304.5" x2="427.7" y2="309" stroke="#000" stroke-width="1.3" />
<text x="427.7" y="321.7" font-size="14" text-anchor="middle" fill="#000" font-weight="normal" stroke="#000" stroke-width="0.12" >700</text>
<text x="349" y="333.8" font-size="14" text-anchor="middle" fill="#000" font-weight="normal" stroke="#000" stroke-width="0.12" >Wavelength (nm)</text>
<text x="0" y="0" font-size="13.6" text-anchor="start" fill="#000" font-weight="normal" stroke="#000" stroke-width="0.12" transform="translate(241.4,336.2) rotate(-90)" >EL intensity (arb. units)</text>
<polyline points="271.3,292.7 272.1,292.7 272.9,292.7 273.6,292.7 274.4,292.7 275.2,292.7 276,292.7 276.8,292.7 277.6,292.7 278.3,292.7 279.1,292.7 279.9,292.7 280.7,292.7 281.5,292.7 282.2,292.7 283,292.7 283.8,292.7 284.6,292.7 285.4,292.7 286.2,292.7 286.9,292.7 287.7,292.7 288.5,292.7 289.3,292.7 290.1,292.7 290.9,292.7 291.6,292.7 292.4,292.7 293.2,292.7 294,292.7 294.8,292.7 295.5,292.7 296.3,292.7 297.1,292.7 297.9,292.7 298.7,292.7 299.5,292.7 300.2,292.7 301,292.7 301.8,292.7 302.6,292.6 303.4,292.6 304.1,292.5 304.9,292.4 305.7,292.2 306.5,291.9 307.3,291.5 308.1,290.8 308.8,289.9 309.6,288.5 310.4,286.6 311.2,284.1 312,280.9 312.7,276.9 313.5,271.9 314.3,266 315.1,259.2 315.9,251.7 316.7,243.7 317.4,235.4 318.2,227.3 319,219.7 319.8,213.1 320.6,207.8 321.3,204.1 322.1,202.2 322.9,202.2 323.7,203.9 324.5,207.2 325.3,211.6 326,216.8 326.8,222.3 327.6,227.8 328.4,232.8 329.2,237.1 330,240.5 330.7,242.8 331.5,244.1 332.3,244.5 333.1,244.1 333.9,243.1 334.6,241.7 335.4,240.1 336.2,238.6 337,237.2 337.8,236.1 338.6,235.4 339.3,235.3 340.1,235.7 340.9,236.7 341.7,238.3 342.5,238.6 343.2,241.3 344,244.3 344.8,247.6 345.6,251.1 346.4,254.7 347.2,258.4 347.9,262.1 348.7,265.6 349.5,269 350.3,272.2 351.1,275.1 351.8,277.7 352.6,280 353.4,282.1 354.2,283.9 355,285.4 355.8,286.7 356.5,287.8 357.3,288.7 358.1,289.5 358.9,290 359.7,290.5 360.4,290.9 361.2,291.2 362,291.4 362.8,291.6 363.6,291.7 364.4,291.8 365.1,291.9 365.9,292 366.7,292 367.5,292.1 368.3,292.1 369.1,292.1 369.8,292.1 370.6,292.2 371.4,292.2 372.2,292.2 373,292.2 373.7,292.2 374.5,292.3 375.3,292.3 376.1,292.3 376.9,292.3 377.7,292.3 378.4,292.3 379.2,292.3 380,292.3 380.8,292.4 381.6,292.4 382.3,292.4 383.1,292.4 383.9,292.4 384.7,292.4 385.5,292.4 386.3,292.4 387,292.4 387.8,292.4 388.6,292.5 389.4,292.5 390.2,292.5 390.9,292.5 391.7,292.5 392.5,292.5 393.3,292.5 394.1,292.5 394.9,292.5 395.6,292.5 396.4,292.5 397.2,292.5 398,292.5 398.8,292.5 399.5,292.5 400.3,292.6 401.1,292.6 401.9,292.6 402.7,292.6 403.5,292.6 404.2,292.6 405,292.6 405.8,292.6 406.6,292.6 407.4,292.6 408.1,292.6 408.9,292.6 409.7,292.6 410.5,292.6 411.3,292.6 412.1,292.6 412.8,292.6 413.6,292.6 414.4,292.6 415.2,292.6 416,292.6 416.8,292.6 417.5,292.6 418.3,292.6 419.1,292.6 419.9,292.6 420.7,292.6 421.4,292.6 422.2,292.6 423,292.6 423.8,292.6 424.6,292.6 425.4,292.6 426.1,292.7 426.9,292.7 427.7,292.7" fill="none" stroke="#ee3841" stroke-width="1.2" stroke-linejoin="round" />
<polyline points="271.3,292.7 272.1,292.7 272.9,292.7 273.6,292.7 274.4,292.7 275.2,292.7 276,292.7 276.8,292.7 277.6,292.7 278.3,292.7 279.1,292.7 279.9,292.7 280.7,292.7 281.5,292.7 282.2,292.7 283,292.7 283.8,292.7 284.6,292.7 285.4,292.7 286.2,292.7 286.9,292.7 287.7,292.7 288.5,292.7 289.3,292.7 290.1,292.7 290.9,292.7 291.6,292.7 292.4,292.7 293.2,292.7 294,292.7 294.8,292.7 295.5,292.7 296.3,292.7 297.1,292.7 297.9,292.7 298.7,292.7 299.5,292.7 300.2,292.7 301,292.7 301.8,292.7 302.6,292.6 303.4,292.6 304.1,292.5 304.9,292.4 305.7,292.3 306.5,292 307.3,291.6 308.1,290.9 308.8,290 309.6,288.7 310.4,287 311.2,284.6 312,281.6 312.7,277.8 313.5,273.1 314.3,267.6 315.1,261.2 315.9,254.1 316.7,246.6 317.4,238.8 318.2,231.1 319,224 319.8,217.8 320.6,212.8 321.3,209.3 322.1,207.5 322.9,207.5 323.7,209.1 324.5,212.2 325.3,216.3 326,221.2 326.8,226.5 327.6,231.6 328.4,236.3 329.2,240.4 330,243.5 330.7,245.7 331.5,247 332.3,247.3 333.1,247 333.9,246 334.6,244.7 335.4,243.2 336.2,241.7 337,240.4 337.8,239.4 338.6,238.8 339.3,238.7 340.1,239.1 340.9,240 341.7,241.5 342.5,241.8 343.2,244.3 344,247.1 344.8,250.2 345.6,253.5 346.4,257 347.2,260.4 347.9,263.9 348.7,267.2 349.5,270.4 350.3,273.4 351.1,276.1 351.8,278.6 352.6,280.8 353.4,282.7 354.2,284.4 355,285.9 355.8,287.1 356.5,288.1 357.3,289 358.1,289.6 358.9,290.2 359.7,290.6 360.4,291 361.2,291.3 362,291.5 362.8,291.6 363.6,291.8 364.4,291.9 365.1,291.9 365.9,292 366.7,292.1 367.5,292.1 368.3,292.1 369.1,292.2 369.8,292.2 370.6,292.2 371.4,292.2 372.2,292.2 373,292.2 373.7,292.3 374.5,292.3 375.3,292.3 376.1,292.3 376.9,292.3 377.7,292.3 378.4,292.3 379.2,292.4 380,292.4 380.8,292.4 381.6,292.4 382.3,292.4 383.1,292.4 383.9,292.4 384.7,292.4 385.5,292.4 386.3,292.4 387,292.5 387.8,292.5 388.6,292.5 389.4,292.5 390.2,292.5 390.9,292.5 391.7,292.5 392.5,292.5 393.3,292.5 394.1,292.5 394.9,292.5 395.6,292.5 396.4,292.5 397.2,292.5 398,292.5 398.8,292.6 399.5,292.6 400.3,292.6 401.1,292.6 401.9,292.6 402.7,292.6 403.5,292.6 404.2,292.6 405,292.6 405.8,292.6 406.6,292.6 407.4,292.6 408.1,292.6 408.9,292.6 409.7,292.6 410.5,292.6 411.3,292.6 412.1,292.6 412.8,292.6 413.6,292.6 414.4,292.6 415.2,292.6 416,292.6 416.8,292.6 417.5,292.6 418.3,292.6 419.1,292.6 419.9,292.6 420.7,292.6 421.4,292.6 422.2,292.6 423,292.6 423.8,292.6 424.6,292.7 425.4,292.7 426.1,292.7 426.9,292.7 427.7,292.7" fill="none" stroke="#ee3841" stroke-width="1.2" stroke-linejoin="round" />
<polyline points="271.3,292.7 272.1,292.7 272.9,292.7 273.6,292.7 274.4,292.7 275.2,292.7 276,292.7 276.8,292.7 277.6,292.7 278.3,292.7 279.1,292.7 279.9,292.7 280.7,292.7 281.5,292.7 282.2,292.7 283,292.7 283.8,292.7 284.6,292.7 285.4,292.7 286.2,292.7 286.9,292.7 287.7,292.7 288.5,292.7 289.3,292.7 290.1,292.7 290.9,292.7 291.6,292.7 292.4,292.7 293.2,292.7 294,292.7 294.8,292.7 295.5,292.7 296.3,292.7 297.1,292.7 297.9,292.7 298.7,292.7 299.5,292.7 300.2,292.7 301,292.7 301.8,292.7 302.6,292.7 303.4,292.6 304.1,292.6 304.9,292.4 305.7,292.3 306.5,292 307.3,291.6 308.1,291 308.8,290.1 309.6,288.9 310.4,287.2 311.2,285 312,282.1 312.7,278.4 313.5,273.9 314.3,268.6 315.1,262.5 315.9,255.7 316.7,248.5 317.4,241 318.2,233.7 319,226.8 319.8,220.8 320.6,216 321.3,212.7 322.1,211 322.9,211 323.7,212.5 324.5,215.5 325.3,219.5 326,224.2 326.8,229.2 327.6,234.1 328.4,238.6 329.2,242.5 330,245.5 330.7,247.7 331.5,248.8 332.3,249.2 333.1,248.8 333.9,247.9 334.6,246.7 335.4,245.2 336.2,243.8 337,242.5 337.8,241.6 338.6,241 339.3,240.9 340.1,241.3 340.9,242.2 341.7,243.6 342.5,243.9 343.2,246.2 344,249 344.8,251.9 345.6,255.1 346.4,258.4 347.2,261.8 347.9,265.1 348.7,268.3 349.5,271.3 350.3,274.2 351.1,276.8 351.8,279.1 352.6,281.3 353.4,283.1 354.2,284.8 355,286.1 355.8,287.3 356.5,288.3 357.3,289.1 358.1,289.8 358.9,290.3 359.7,290.7 360.4,291.1 361.2,291.3 362,291.5 362.8,291.7 363.6,291.8 364.4,291.9 365.1,292 365.9,292 366.7,292.1 367.5,292.1 368.3,292.1 369.1,292.2 369.8,292.2 370.6,292.2 371.4,292.2 372.2,292.3 373,292.3 373.7,292.3 374.5,292.3 375.3,292.3 376.1,292.3 376.9,292.3 377.7,292.3 378.4,292.4 379.2,292.4 380,292.4 380.8,292.4 381.6,292.4 382.3,292.4 383.1,292.4 383.9,292.4 384.7,292.4 385.5,292.4 386.3,292.5 387,292.5 387.8,292.5 388.6,292.5 389.4,292.5 390.2,292.5 390.9,292.5 391.7,292.5 392.5,292.5 393.3,292.5 394.1,292.5 394.9,292.5 395.6,292.5 396.4,292.5 397.2,292.5 398,292.6 398.8,292.6 399.5,292.6 400.3,292.6 401.1,292.6 401.9,292.6 402.7,292.6 403.5,292.6 404.2,292.6 405,292.6 405.8,292.6 406.6,292.6 407.4,292.6 408.1,292.6 408.9,292.6 409.7,292.6 410.5,292.6 411.3,292.6 412.1,292.6 412.8,292.6 413.6,292.6 414.4,292.6 415.2,292.6 416,292.6 416.8,292.6 417.5,292.6 418.3,292.6 419.1,292.6 419.9,292.6 420.7,292.6 421.4,292.6 422.2,292.6 423,292.6 423.8,292.7 424.6,292.7 425.4,292.7 426.1,292.7 426.9,292.7 427.7,292.7" fill="none" stroke="#ee3841" stroke-width="1.2" stroke-linejoin="round" />
<polyline points="271.3,292.7 272.1,292.7 272.9,292.7 273.6,292.7 274.4,292.7 275.2,292.7 276,292.7 276.8,292.7 277.6,292.7 278.3,292.7 279.1,292.7 279.9,292.7 280.7,292.7 281.5,292.7 282.2,292.7 283,292.7 283.8,292.7 284.6,292.7 285.4,292.7 286.2,292.7 286.9,292.7 287.7,292.7 288.5,292.7 289.3,292.7 290.1,292.7 290.9,292.7 291.6,292.7 292.4,292.7 293.2,292.7 294,292.7 294.8,292.7 295.5,292.7 296.3,292.7 297.1,292.7 297.9,292.7 298.7,292.7 299.5,292.7 300.2,292.7 301,292.7 301.8,292.7 302.6,292.7 303.4,292.6 304.1,292.6 304.9,292.5 305.7,292.3 306.5,292.1 307.3,291.8 308.1,291.3 308.8,290.5 309.6,289.5 310.4,288.1 311.2,286.2 312,283.7 312.7,280.6 313.5,276.8 314.3,272.4 315.1,267.2 315.9,261.5 316.7,255.4 317.4,249.1 318.2,242.9 319,237.1 319.8,232.1 320.6,228 321.3,225.2 322.1,223.8 322.9,223.8 323.7,225.1 324.5,227.5 325.3,230.9 326,234.9 326.8,239.1 327.6,243.3 328.4,247.1 329.2,250.4 330,252.9 330.7,254.7 331.5,255.7 332.3,256 333.1,255.7 333.9,254.9 334.6,253.9 335.4,252.7 336.2,251.4 337,250.4 337.8,249.6 338.6,249.1 339.3,249 340.1,249.3 340.9,250.1 341.7,251.3 342.5,251.5 343.2,253.5 344,255.8 344.8,258.3 345.6,261 346.4,263.8 347.2,266.6 347.9,269.4 348.7,272.1 349.5,274.6 350.3,277.1 351.1,279.3 351.8,281.3 352.6,283.1 353.4,284.6 354.2,286 355,287.2 355.8,288.2 356.5,289 357.3,289.7 358.1,290.2 358.9,290.7 359.7,291 360.4,291.3 361.2,291.5 362,291.7 362.8,291.8 363.6,291.9 364.4,292 365.1,292.1 365.9,292.1 366.7,292.2 367.5,292.2 368.3,292.2 369.1,292.3 369.8,292.3 370.6,292.3 371.4,292.3 372.2,292.3 373,292.3 373.7,292.3 374.5,292.4 375.3,292.4 376.1,292.4 376.9,292.4 377.7,292.4 378.4,292.4 379.2,292.4 380,292.4 380.8,292.4 381.6,292.4 382.3,292.5 383.1,292.5 383.9,292.5 384.7,292.5 385.5,292.5 386.3,292.5 387,292.5 387.8,292.5 388.6,292.5 389.4,292.5 390.2,292.5 390.9,292.5 391.7,292.5 392.5,292.5 393.3,292.5 394.1,292.6 394.9,292.6 395.6,292.6 396.4,292.6 397.2,292.6 398,292.6 398.8,292.6 399.5,292.6 400.3,292.6 401.1,292.6 401.9,292.6 402.7,292.6 403.5,292.6 404.2,292.6 405,292.6 405.8,292.6 406.6,292.6 407.4,292.6 408.1,292.6 408.9,292.6 409.7,292.6 410.5,292.6 411.3,292.6 412.1,292.6 412.8,292.6 413.6,292.6 414.4,292.6 415.2,292.6 416,292.6 416.8,292.6 417.5,292.6 418.3,292.6 419.1,292.6 419.9,292.7 420.7,292.7 421.4,292.7 422.2,292.7 423,292.7 423.8,292.7 424.6,292.7 425.4,292.7 426.1,292.7 426.9,292.7 427.7,292.7" fill="none" stroke="#ee3841" stroke-width="1.2" stroke-linejoin="round" />
<polyline points="271.3,292.7 272.1,292.7 272.9,292.7 273.6,292.7 274.4,292.7 275.2,292.7 276,292.7 276.8,292.7 277.6,292.7 278.3,292.7 279.1,292.7 279.9,292.7 280.7,292.7 281.5,292.7 282.2,292.7 283,292.7 283.8,292.7 284.6,292.7 285.4,292.7 286.2,292.7 286.9,292.7 287.7,292.7 288.5,292.7 289.3,292.7 290.1,292.7 290.9,292.7 291.6,292.7 292.4,292.7 293.2,292.7 294,292.7 294.8,292.7 295.5,292.7 296.3,292.7 297.1,292.7 297.9,292.7 298.7,292.7 299.5,292.7 300.2,292.7 301,292.7 301.8,292.7 302.6,292.7 303.4,292.6 304.1,292.6 304.9,292.5 305.7,292.4 306.5,292.2 307.3,291.9 308.1,291.5 308.8,290.9 309.6,290.1 310.4,288.9 311.2,287.4 312,285.4 312.7,282.9 313.5,279.8 314.3,276.1 315.1,271.9 315.9,267.3 316.7,262.3 317.4,257.2 318.2,252.1 319,247.4 319.8,243.3 320.6,240 321.3,237.7 322.1,236.6 322.9,236.5 323.7,237.6 324.5,239.6 325.3,242.4 326,245.6 326.8,249 327.6,252.4 328.4,255.5 329.2,258.2 330,260.3 330.7,261.7 331.5,262.6 332.3,262.8 333.1,262.5 333.9,261.9 334.6,261.1 335.4,260.1 336.2,259.1 337,258.2 337.8,257.5 338.6,257.1 339.3,257.1 340.1,257.3 340.9,258 341.7,258.9 342.5,259.1 343.2,260.8 344,262.6 344.8,264.7 345.6,266.9 346.4,269.1 347.2,271.4 347.9,273.7 348.7,275.9 349.5,278 350.3,279.9 351.1,281.8 351.8,283.4 352.6,284.8 353.4,286.1 354.2,287.2 355,288.2 355.8,289 356.5,289.7 357.3,290.2 358.1,290.7 358.9,291 359.7,291.3 360.4,291.6 361.2,291.8 362,291.9 362.8,292 363.6,292.1 364.4,292.1 365.1,292.2 365.9,292.2 366.7,292.3 367.5,292.3 368.3,292.3 369.1,292.3 369.8,292.4 370.6,292.4 371.4,292.4 372.2,292.4 373,292.4 373.7,292.4 374.5,292.4 375.3,292.4 376.1,292.4 376.9,292.4 377.7,292.5 378.4,292.5 379.2,292.5 380,292.5 380.8,292.5 381.6,292.5 382.3,292.5 383.1,292.5 383.9,292.5 384.7,292.5 385.5,292.5 386.3,292.5 387,292.5 387.8,292.5 388.6,292.5 389.4,292.6 390.2,292.6 390.9,292.6 391.7,292.6 392.5,292.6 393.3,292.6 394.1,292.6 394.9,292.6 395.6,292.6 396.4,292.6 397.2,292.6 398,292.6 398.8,292.6 399.5,292.6 400.3,292.6 401.1,292.6 401.9,292.6 402.7,292.6 403.5,292.6 404.2,292.6 405,292.6 405.8,292.6 406.6,292.6 407.4,292.6 408.1,292.6 408.9,292.6 409.7,292.6 410.5,292.6 411.3,292.6 412.1,292.6 412.8,292.6 413.6,292.6 414.4,292.6 415.2,292.7 416,292.7 416.8,292.7 417.5,292.7 418.3,292.7 419.1,292.7 419.9,292.7 420.7,292.7 421.4,292.7 422.2,292.7 423,292.7 423.8,292.7 424.6,292.7 425.4,292.7 426.1,292.7 426.9,292.7 427.7,292.7" fill="none" stroke="#ee3841" stroke-width="1.2" stroke-linejoin="round" />
<polyline points="271.3,292.7 272.1,292.7 272.9,292.7 273.6,292.7 274.4,292.7 275.2,292.7 276,292.7 276.8,292.7 277.6,292.7 278.3,292.7 279.1,292.7 279.9,292.7 280.7,292.7 281.5,292.7 282.2,292.7 283,292.7 283.8,292.7 284.6,292.7 285.4,292.7 286.2,292.7 286.9,292.7 287.7,292.7 288.5,292.7 289.3,292.7 290.1,292.7 290.9,292.7 291.6,292.7 292.4,292.7 293.2,292.7 294,292.7 294.8,292.7 295.5,292.7 296.3,292.7 297.1,292.7 297.9,292.7 298.7,292.7 299.5,292.7 300.2,292.7 301,292.7 301.8,292.7 302.6,292.7 303.4,292.7 304.1,292.6 304.9,292.6 305.7,292.5 306.5,292.4 307.3,292.2 308.1,291.9 308.8,291.5 309.6,290.9 310.4,290.1 311.2,289 312,287.6 312.7,285.8 313.5,283.6 314.3,281.1 315.1,278.1 315.9,274.9 316.7,271.4 317.4,267.8 318.2,264.2 319,260.9 319.8,258 320.6,255.7 321.3,254.1 322.1,253.3 322.9,253.3 323.7,254 324.5,255.5 325.3,257.4 326,259.6 326.8,262.1 327.6,264.4 328.4,266.6 329.2,268.5 330,270 330.7,271 331.5,271.5 332.3,271.7 333.1,271.5 333.9,271.1 334.6,270.5 335.4,269.8 336.2,269.1 337,268.5 337.8,268 338.6,267.8 339.3,267.7 340.1,267.9 340.9,268.3 341.7,269 342.5,269.2 343.2,270.3 344,271.6 344.8,273 345.6,274.6 346.4,276.2 347.2,277.8 347.9,279.4 348.7,280.9 349.5,282.4 350.3,283.8 351.1,285 351.8,286.2 352.6,287.2 353.4,288.1 354.2,288.9 355,289.5 355.8,290.1 356.5,290.6 357.3,291 358.1,291.3 358.9,291.5 359.7,291.7 360.4,291.9 361.2,292 362,292.1 362.8,292.2 363.6,292.3 364.4,292.3 365.1,292.3 365.9,292.4 366.7,292.4 367.5,292.4 368.3,292.4 369.1,292.4 369.8,292.5 370.6,292.5 371.4,292.5 372.2,292.5 373,292.5 373.7,292.5 374.5,292.5 375.3,292.5 376.1,292.5 376.9,292.5 377.7,292.5 378.4,292.5 379.2,292.5 380,292.5 380.8,292.6 381.6,292.6 382.3,292.6 383.1,292.6 383.9,292.6 384.7,292.6 385.5,292.6 386.3,292.6 387,292.6 387.8,292.6 388.6,292.6 389.4,292.6 390.2,292.6 390.9,292.6 391.7,292.6 392.5,292.6 393.3,292.6 394.1,292.6 394.9,292.6 395.6,292.6 396.4,292.6 397.2,292.6 398,292.6 398.8,292.6 399.5,292.6 400.3,292.6 401.1,292.6 401.9,292.6 402.7,292.6 403.5,292.6 404.2,292.6 405,292.6 405.8,292.6 406.6,292.7 407.4,292.7 408.1,292.7 408.9,292.7 409.7,292.7 410.5,292.7 411.3,292.7 412.1,292.7 412.8,292.7 413.6,292.7 414.4,292.7 415.2,292.7 416,292.7 416.8,292.7 417.5,292.7 418.3,292.7 419.1,292.7 419.9,292.7 420.7,292.7 421.4,292.7 422.2,292.7 423,292.7 423.8,292.7 424.6,292.7 425.4,292.7 426.1,292.7 426.9,292.7 427.7,292.7" fill="none" stroke="#ee3841" stroke-width="1.2" stroke-linejoin="round" />
<polyline points="271.3,292.7 272.1,292.7 272.9,292.7 273.6,292.7 274.4,292.7 275.2,292.7 276,292.7 276.8,292.7 277.6,292.7 278.3,292.7 279.1,292.7 279.9,292.7 280.7,292.7 281.5,292.7 282.2,292.7 283,292.7 283.8,292.7 284.6,292.7 285.4,292.7 286.2,292.7 286.9,292.7 287.7,292.7 288.5,292.7 289.3,292.7 290.1,292.7 290.9,292.7 291.6,292.7 292.4,292.7 293.2,292.7 294,292.7 294.8,292.7 295.5,292.7 296.3,292.7 297.1,292.7 297.9,292.7 298.7,292.7 299.5,292.7 300.2,292.7 301,292.7 301.8,292.7 302.6,292.7 303.4,292.7 304.1,292.7 304.9,292.6 305.7,292.6 306.5,292.5 307.3,292.4 308.1,292.2 308.8,291.9 309.6,291.6 310.4,291.1 311.2,290.4 312,289.5 312.7,288.4 313.5,287.1 314.3,285.5 315.1,283.7 315.9,281.7 316.7,279.5 317.4,277.3 318.2,275.1 319,273.1 319.8,271.3 320.6,269.9 321.3,268.9 322.1,268.4 322.9,268.4 323.7,268.8 324.5,269.7 325.3,270.9 326,272.3 326.8,273.8 327.6,275.2 328.4,276.6 329.2,277.7 330,278.7 330.7,279.3 331.5,279.6 332.3,279.7 333.1,279.6 333.9,279.4 334.6,279 335.4,278.6 336.2,278.1 337,277.8 337.8,277.5 338.6,277.3 339.3,277.3 340.1,277.4 340.9,277.6 341.7,278.1 342.5,278.2 343.2,278.9 344,279.7 344.8,280.6 345.6,281.5 346.4,282.5 347.2,283.5 347.9,284.5 348.7,285.4 349.5,286.3 350.3,287.2 351.1,288 351.8,288.7 352.6,289.3 353.4,289.9 354.2,290.3 355,290.7 355.8,291.1 356.5,291.4 357.3,291.6 358.1,291.8 358.9,292 359.7,292.1 360.4,292.2 361.2,292.3 362,292.3 362.8,292.4 363.6,292.4 364.4,292.5 365.1,292.5 365.9,292.5 366.7,292.5 367.5,292.5 368.3,292.5 369.1,292.5 369.8,292.5 370.6,292.6 371.4,292.6 372.2,292.6 373,292.6 373.7,292.6 374.5,292.6 375.3,292.6 376.1,292.6 376.9,292.6 377.7,292.6 378.4,292.6 379.2,292.6 380,292.6 380.8,292.6 381.6,292.6 382.3,292.6 383.1,292.6 383.9,292.6 384.7,292.6 385.5,292.6 386.3,292.6 387,292.6 387.8,292.6 388.6,292.6 389.4,292.6 390.2,292.6 390.9,292.6 391.7,292.6 392.5,292.6 393.3,292.6 394.1,292.6 394.9,292.6 395.6,292.7 396.4,292.7 397.2,292.7 398,292.7 398.8,292.7 399.5,292.7 400.3,292.7 401.1,292.7 401.9,292.7 402.7,292.7 403.5,292.7 404.2,292.7 405,292.7 405.8,292.7 406.6,292.7 407.4,292.7 408.1,292.7 408.9,292.7 409.7,292.7 410.5,292.7 411.3,292.7 412.1,292.7 412.8,292.7 413.6,292.7 414.4,292.7 415.2,292.7 416,292.7 416.8,292.7 417.5,292.7 418.3,292.7 419.1,292.7 419.9,292.7 420.7,292.7 421.4,292.7 422.2,292.7 423,292.7 423.8,292.7 424.6,292.7 425.4,292.7 426.1,292.7 426.9,292.7 427.7,292.7" fill="none" stroke="#ee3841" stroke-width="1.2" stroke-linejoin="round" />
<polyline points="271.3,292.7 272.1,292.7 272.9,292.7 273.6,292.7 274.4,292.7 275.2,292.7 276,292.7 276.8,292.7 277.6,292.7 278.3,292.7 279.1,292.7 279.9,292.7 280.7,292.7 281.5,292.7 282.2,292.7 283,292.7 283.8,292.7 284.6,292.7 285.4,292.7 286.2,292.7 286.9,292.7 287.7,292.7 288.5,292.7 289.3,292.7 290.1,292.7 290.9,292.7 291.6,292.7 292.4,292.7 293.2,292.7 294,292.7 294.8,292.7 295.5,292.7 296.3,292.7 297.1,292.7 297.9,292.7 298.7,292.7 299.5,292.7 300.2,292.7 301,292.7 301.8,292.7 302.6,292.7 303.4,292.7 304.1,292.7 304.9,292.7 305.7,292.6 306.5,292.6 307.3,292.5 308.1,292.4 308.8,292.2 309.6,292 310.4,291.7 311.2,291.3 312,290.8 312.7,290.1 313.5,289.3 314.3,288.3 315.1,287.2 315.9,286 316.7,284.6 317.4,283.3 318.2,282 319,280.7 319.8,279.6 320.6,278.8 321.3,278.1 322.1,277.8 322.9,277.8 323.7,278.1 324.5,278.6 325.3,279.4 326,280.2 326.8,281.1 327.6,282 328.4,282.9 329.2,283.6 330,284.1 330.7,284.5 331.5,284.7 332.3,284.8 333.1,284.7 333.9,284.6 334.6,284.3 335.4,284.1 336.2,283.8 337,283.6 337.8,283.4 338.6,283.3 339.3,283.3 340.1,283.3 340.9,283.5 341.7,283.8 342.5,283.8 343.2,284.2 344,284.7 344.8,285.3 345.6,285.9 346.4,286.5 347.2,287.1 347.9,287.7 348.7,288.3 349.5,288.8 350.3,289.3 351.1,289.8 351.8,290.2 352.6,290.6 353.4,291 354.2,291.3 355,291.5 355.8,291.7 356.5,291.9 357.3,292 358.1,292.2 358.9,292.3 359.7,292.3 360.4,292.4 361.2,292.4 362,292.5 362.8,292.5 363.6,292.5 364.4,292.6 365.1,292.6 365.9,292.6 366.7,292.6 367.5,292.6 368.3,292.6 369.1,292.6 369.8,292.6 370.6,292.6 371.4,292.6 372.2,292.6 373,292.6 373.7,292.6 374.5,292.6 375.3,292.6 376.1,292.6 376.9,292.6 377.7,292.6 378.4,292.6 379.2,292.6 380,292.6 380.8,292.6 381.6,292.6 382.3,292.6 383.1,292.6 383.9,292.7 384.7,292.7 385.5,292.7 386.3,292.7 387,292.7 387.8,292.7 388.6,292.7 389.4,292.7 390.2,292.7 390.9,292.7 391.7,292.7 392.5,292.7 393.3,292.7 394.1,292.7 394.9,292.7 395.6,292.7 396.4,292.7 397.2,292.7 398,292.7 398.8,292.7 399.5,292.7 400.3,292.7 401.1,292.7 401.9,292.7 402.7,292.7 403.5,292.7 404.2,292.7 405,292.7 405.8,292.7 406.6,292.7 407.4,292.7 408.1,292.7 408.9,292.7 409.7,292.7 410.5,292.7 411.3,292.7 412.1,292.7 412.8,292.7 413.6,292.7 414.4,292.7 415.2,292.7 416,292.7 416.8,292.7 417.5,292.7 418.3,292.7 419.1,292.7 419.9,292.7 420.7,292.7 421.4,292.7 422.2,292.7 423,292.7 423.8,292.7 424.6,292.7 425.4,292.7 426.1,292.7 426.9,292.7 427.7,292.7" fill="none" stroke="#ee3841" stroke-width="1.2" stroke-linejoin="round" />
<polyline points="271.3,292.7 272.1,292.7 272.9,292.7 273.6,292.7 274.4,292.7 275.2,292.7 276,292.7 276.8,292.7 277.6,292.7 278.3,292.7 279.1,292.7 279.9,292.7 280.7,292.7 281.5,292.7 282.2,292.7 283,292.7 283.8,292.7 284.6,292.7 285.4,292.7 286.2,292.7 286.9,292.7 287.7,292.7 288.5,292.7 289.3,292.7 290.1,292.7 290.9,292.7 291.6,292.7 292.4,292.7 293.2,292.7 294,292.7 294.8,292.7 295.5,292.7 296.3,292.7 297.1,292.7 297.9,292.7 298.7,292.7 299.5,292.7 300.2,292.7 301,292.7 301.8,292.7 302.6,292.7 303.4,292.7 304.1,292.7 304.9,292.7 305.7,292.7 306.5,292.6 307.3,292.6 308.1,292.5 308.8,292.4 309.6,292.3 310.4,292.2 311.2,291.9 312,291.7 312.7,291.3 313.5,290.9 314.3,290.3 315.1,289.7 315.9,289.1 316.7,288.4 317.4,287.6 318.2,286.9 319,286.3 319.8,285.7 320.6,285.2 321.3,284.9 322.1,284.7 322.9,284.7 323.7,284.9 324.5,285.2 325.3,285.5 326,286 326.8,286.5 327.6,287 328.4,287.4 329.2,287.8 330,288.1 330.7,288.3 331.5,288.4 332.3,288.5 333.1,288.4 333.9,288.3 334.6,288.2 335.4,288.1 336.2,287.9 337,287.8 337.8,287.7 338.6,287.6 339.3,287.6 340.1,287.7 340.9,287.8 341.7,287.9 342.5,287.9 343.2,288.2 344,288.4 344.8,288.7 345.6,289 346.4,289.4 347.2,289.7 347.9,290 348.7,290.3 349.5,290.6 350.3,290.9 351.1,291.1 351.8,291.4 352.6,291.6 353.4,291.8 354.2,291.9 355,292.1 355.8,292.2 356.5,292.3 357.3,292.3 358.1,292.4 358.9,292.5 359.7,292.5 360.4,292.5 361.2,292.6 362,292.6 362.8,292.6 363.6,292.6 364.4,292.6 365.1,292.6 365.9,292.6 366.7,292.6 367.5,292.6 368.3,292.6 369.1,292.6 369.8,292.7 370.6,292.7 371.4,292.7 372.2,292.7 373,292.7 373.7,292.7 374.5,292.7 375.3,292.7 376.1,292.7 376.9,292.7 377.7,292.7 378.4,292.7 379.2,292.7 380,292.7 380.8,292.7 381.6,292.7 382.3,292.7 383.1,292.7 383.9,292.7 384.7,292.7 385.5,292.7 386.3,292.7 387,292.7 387.8,292.7 388.6,292.7 389.4,292.7 390.2,292.7 390.9,292.7 391.7,292.7 392.5,292.7 393.3,292.7 394.1,292.7 394.9,292.7 395.6,292.7 396.4,292.7 397.2,292.7 398,292.7 398.8,292.7 399.5,292.7 400.3,292.7 401.1,292.7 401.9,292.7 402.7,292.7 403.5,292.7 404.2,292.7 405,292.7 405.8,292.7 406.6,292.7 407.4,292.7 408.1,292.7 408.9,292.7 409.7,292.7 410.5,292.7 411.3,292.7 412.1,292.7 412.8,292.7 413.6,292.7 414.4,292.7 415.2,292.7 416,292.7 416.8,292.7 417.5,292.7 418.3,292.7 419.1,292.7 419.9,292.7 420.7,292.7 421.4,292.7 422.2,292.7 423,292.7 423.8,292.7 424.6,292.7 425.4,292.7 426.1,292.7 426.9,292.7 427.7,292.7" fill="none" stroke="#ee3841" stroke-width="1.2" stroke-linejoin="round" />
<polyline points="271.3,292.7 272.1,292.7 272.9,292.7 273.6,292.7 274.4,292.7 275.2,292.7 276,292.7 276.8,292.7 277.6,292.7 278.3,292.7 279.1,292.7 279.9,292.7 280.7,292.7 281.5,292.7 282.2,292.7 283,292.7 283.8,292.7 284.6,292.7 285.4,292.7 286.2,292.7 286.9,292.7 287.7,292.7 288.5,292.7 289.3,292.7 290.1,292.7 290.9,292.7 291.6,292.7 292.4,292.7 293.2,292.7 294,292.7 294.8,292.7 295.5,292.7 296.3,292.7 297.1,292.7 297.9,292.7 298.7,292.7 299.5,292.7 300.2,292.7 301,292.7 301.8,292.7 302.6,292.7 303.4,292.7 304.1,292.7 304.9,292.7 305.7,292.7 306.5,292.7 307.3,292.6 308.1,292.6 308.8,292.6 309.6,292.5 310.4,292.4 311.2,292.3 312,292.2 312.7,292 313.5,291.8 314.3,291.5 315.1,291.2 315.9,290.8 316.7,290.5 317.4,290.1 318.2,289.7 319,289.4 319.8,289.1 320.6,288.9 321.3,288.7 322.1,288.6 322.9,288.6 323.7,288.7 324.5,288.8 325.3,289 326,289.3 326.8,289.5 327.6,289.8 328.4,290 329.2,290.2 330,290.3 330.7,290.4 331.5,290.5 332.3,290.5 333.1,290.5 333.9,290.5 334.6,290.4 335.4,290.3 336.2,290.3 337,290.2 337.8,290.1 338.6,290.1 339.3,290.1 340.1,290.1 340.9,290.2 341.7,290.2 342.5,290.3 343.2,290.4 344,290.5 344.8,290.7 345.6,290.8 346.4,291 347.2,291.2 347.9,291.3 348.7,291.5 349.5,291.6 350.3,291.8 351.1,291.9 351.8,292 352.6,292.1 353.4,292.2 354.2,292.3 355,292.4 355.8,292.4 356.5,292.5 357.3,292.5 358.1,292.6 358.9,292.6 359.7,292.6 360.4,292.6 361.2,292.6 362,292.6 362.8,292.6 363.6,292.7 364.4,292.7 365.1,292.7 365.9,292.7 366.7,292.7 367.5,292.7 368.3,292.7 369.1,292.7 369.8,292.7 370.6,292.7 371.4,292.7 372.2,292.7 373,292.7 373.7,292.7 374.5,292.7 375.3,292.7 376.1,292.7 376.9,292.7 377.7,292.7 378.4,292.7 379.2,292.7 380,292.7 380.8,292.7 381.6,292.7 382.3,292.7 383.1,292.7 383.9,292.7 384.7,292.7 385.5,292.7 386.3,292.7 387,292.7 387.8,292.7 388.6,292.7 389.4,292.7 390.2,292.7 390.9,292.7 391.7,292.7 392.5,292.7 393.3,292.7 394.1,292.7 394.9,292.7 395.6,292.7 396.4,292.7 397.2,292.7 398,292.7 398.8,292.7 399.5,292.7 400.3,292.7 401.1,292.7 401.9,292.7 402.7,292.7 403.5,292.7 404.2,292.7 405,292.7 405.8,292.7 406.6,292.7 407.4,292.7 408.1,292.7 408.9,292.7 409.7,292.7 410.5,292.7 411.3,292.7 412.1,292.7 412.8,292.7 413.6,292.7 414.4,292.7 415.2,292.7 416,292.7 416.8,292.7 417.5,292.7 418.3,292.7 419.1,292.7 419.9,292.7 420.7,292.7 421.4,292.7 422.2,292.7 423,292.7 423.8,292.7 424.6,292.7 425.4,292.7 426.1,292.7 426.9,292.7 427.7,292.7" fill="none" stroke="#ee3841" stroke-width="1.2" stroke-linejoin="round" />
<line x1="271.3" y1="292.8" x2="427.7" y2="292.8" stroke="#ee3841" stroke-width="1.4" />
<line x1="296.6" y1="224.5" x2="296.6" y2="266" stroke="#ee3841" stroke-width="1.6" />
<path d="M292.9,225 L300.3,225 L296.6,217.3 Z" fill="#ee3841"/>
<text x="273.3" y="214.3" font-size="15.2" text-anchor="start" fill="#000" font-weight="normal" stroke="#000" stroke-width="0.12" >10.5 V</text>
<text x="285.6" y="282.3" font-size="15.2" text-anchor="start" fill="#000" font-weight="normal" stroke="#000" stroke-width="0.12" >6 V</text>
<rect x="366.3" y="179.4" width="61.1" height="48.5" fill="#fff" stroke="#000" stroke-width="1.2" />
<line x1="364.3" y1="184.6" x2="366.3" y2="184.6" stroke="#000" stroke-width="1.1" />
<line x1="364.3" y1="195.6" x2="366.3" y2="195.6" stroke="#000" stroke-width="1.1" />
<line x1="364.3" y1="206.3" x2="366.3" y2="206.3" stroke="#000" stroke-width="1.1" />
<line x1="364.3" y1="217.3" x2="366.3" y2="217.3" stroke="#000" stroke-width="1.1" />
<line x1="364.3" y1="227.9" x2="366.3" y2="227.9" stroke="#000" stroke-width="1.1" />
<line x1="365.7" y1="227.9" x2="365.7" y2="229.3" stroke="#000" stroke-width="1.1" />
<line x1="381.1" y1="227.9" x2="381.1" y2="230.3" stroke="#000" stroke-width="1.1" />
<line x1="396.6" y1="227.9" x2="396.6" y2="229.3" stroke="#000" stroke-width="1.1" />
<line x1="412" y1="227.9" x2="412" y2="230.3" stroke="#000" stroke-width="1.1" />
<line x1="427.5" y1="227.9" x2="427.5" y2="229.3" stroke="#000" stroke-width="1.1" />
<text x="381.3" y="240.3" font-size="11" text-anchor="middle" fill="#000" font-weight="normal" stroke="#000" stroke-width="0.12" >550</text>
<text x="412.2" y="240.3" font-size="11" text-anchor="middle" fill="#000" font-weight="normal" stroke="#000" stroke-width="0.12" >650</text>
<text x="395.4" y="190.5" font-size="10.5" text-anchor="middle" fill="#000" font-weight="normal" stroke="#000" stroke-width="0.12" >STE</text>
<clipPath id="cpe"><rect x="367" y="180" width="59.8" height="47.3"/></clipPath>
<g clip-path="url(#cpe)">
<polyline points="366.8,151.4 367.3,159.7 367.8,164.5 368.3,169.3 368.8,172.5 369.3,176.9 369.8,181.6 370.3,182.9 370.8,185.8 371.3,186.3 371.8,187.9 372.3,188.7 372.8,187 373.3,191.5 373.8,191.7 374.3,192.3 374.8,189.7 375.3,190.1 375.8,191.7 376.3,192.7 376.8,194.1 377.3,193.9 377.8,194.9 378.3,193.5 378.8,195.1 379.3,195.4 379.8,194.1 380.3,197.7 380.8,196.2 381.3,197.3 381.8,194.8 382.3,194.8 382.8,195.5 383.3,196 383.8,197.2 384.3,196.8 384.8,196 385.3,195.4 385.8,196.1 386.3,198.8 386.8,196 387.3,197.7 387.8,198.1 388.3,195.4 388.8,197.8 389.3,199.7 389.8,195.1 390.3,197.7 390.8,198.1 391.3,197.2 391.8,199.3 392.3,198.6 392.8,196.7 393.3,200.1 393.8,200 394.3,200.6 394.8,201.4 395.3,200 395.8,199.8 396.3,197.9 396.8,200.8 397.3,199.1 397.8,199.5 398.3,198.5 398.8,199 399.3,199.8 399.8,202.6 400.3,197.9 400.8,198.9 401.3,201.5 401.8,203.3 402.3,202.2 402.8,198.8 403.3,198 403.8,202.3 404.3,200.9 404.8,200.4 405.3,203.6 405.8,203.9 406.3,202.7 406.8,202.9 407.3,203.4 407.8,205.2 408.3,203.9 408.8,203.9 409.3,204.1 409.8,201.1 410.3,205.4 410.8,205.1 411.3,204.6 411.8,201.1 412.3,203.2 412.8,205.4 413.3,201.7 413.8,204.2 414.3,206.1 414.8,202.9 415.3,207.2 415.8,205.8 416.3,204.9 416.8,205.8 417.3,206.4 417.8,205.7 418.3,207.4 418.8,204.9 419.3,205.4 419.8,207.6 420.3,206.3 420.8,205.1 421.3,207.9 421.8,208.8 422.3,206.1 422.8,204.9 423.3,206.9 423.8,207 424.3,206.9 424.8,209.5 425.3,206.1 425.8,209.5 426.3,206 426.8,206.9" fill="none" stroke="#ee3841" stroke-width="1.25" stroke-linejoin="round" />
<polyline points="366.8,175.2 367.3,178.9 367.8,181.2 368.3,182.8 368.8,184.5 369.3,186.3 369.8,188.5 370.3,188.8 370.8,190.6 371.3,192 371.8,192.2 372.3,194.1 372.8,194.5 373.3,197.1 373.8,195.4 374.3,194.9 374.8,195.4 375.3,196.3 375.8,198 376.3,196.6 376.8,197.9 377.3,200.2 377.8,194.3 378.3,196.6 378.8,198.7 379.3,199.1 379.8,199.1 380.3,198.3 380.8,200 381.3,199.7 381.8,198.7 382.3,203 382.8,200.2 383.3,199.1 383.8,199.9 384.3,199.9 384.8,200.2 385.3,196.7 385.8,199.9 386.3,202.1 386.8,199.2 387.3,200.9 387.8,202.4 388.3,202.4 388.8,203.4 389.3,199.1 389.8,201.1 390.3,201.2 390.8,202.7 391.3,203.4 391.8,198.3 392.3,203.7 392.8,200.3 393.3,203.3 393.8,200.4 394.3,202.9 394.8,204.4 395.3,202.6 395.8,203.2 396.3,204.2 396.8,203.4 397.3,203.2 397.8,205.5 398.3,205 398.8,203.3 399.3,207.6 399.8,202.3 400.3,205.3 400.8,203.8 401.3,204.4 401.8,205.3 402.3,204.8 402.8,205.5 403.3,202.6 403.8,202.7 404.3,205.8 404.8,203.7 405.3,203.7 405.8,203.2 406.3,207.1 406.8,206.5 407.3,207.7 407.8,204.4 408.3,205.9 408.8,204.4 409.3,207.1 409.8,208.4 410.3,205.1 410.8,208.6 411.3,207.9 411.8,206.4 412.3,204 412.8,208.8 413.3,206.9 413.8,206.3 414.3,207.8 414.8,207.9 415.3,209.5 415.8,206.2 416.3,209.3 416.8,209.9 417.3,209.9 417.8,207.8 418.3,207.1 418.8,209.7 419.3,208.5 419.8,208.7 420.3,210.6 420.8,208.4 421.3,205.7 421.8,208.4 422.3,206.5 422.8,210.3 423.3,209.7 423.8,208.6 424.3,209.5 424.8,210.8 425.3,209.9 425.8,211.7 426.3,209.9 426.8,211.5" fill="none" stroke="#ee3841" stroke-width="1.25" stroke-linejoin="round" />
<polyline points="366.8,199.6 367.3,200.5 367.8,198.1 368.3,200.6 368.8,197.5 369.3,198.9 369.8,198.1 370.3,202.4 370.8,199.6 371.3,201.5 371.8,201.5 372.3,201.9 372.8,201.3 373.3,202.6 373.8,204.8 374.3,202.6 374.8,203.4 375.3,204.1 375.8,202.6 376.3,201.4 376.8,202.4 377.3,204.6 377.8,201.2 378.3,202.6 378.8,204.8 379.3,204.7 379.8,203.7 380.3,204.8 380.8,204.1 381.3,202.4 381.8,202 382.3,203.3 382.8,205.4 383.3,203.5 383.8,203.2 384.3,203.4 384.8,202.5 385.3,204.5 385.8,203.1 386.3,205.3 386.8,201.7 387.3,205.4 387.8,204.2 388.3,202.5 388.8,206.1 389.3,204.9 389.8,202.4 390.3,204.3 390.8,205.9 391.3,205 391.8,206.7 392.3,206.7 392.8,206.7 393.3,206.3 393.8,207.7 394.3,206.9 394.8,206.7 395.3,203.5 395.8,207.5 396.3,208.1 396.8,206.1 397.3,205.9 397.8,209.2 398.3,204.4 398.8,207.4 399.3,210.1 399.8,205.7 400.3,207.9 400.8,209.6 401.3,207 401.8,208 402.3,208.5 402.8,206.2 403.3,207.4 403.8,208 404.3,208.8 404.8,207.7 405.3,207.6 405.8,206.6 406.3,207.5 406.8,209.2 407.3,208.3 407.8,207.1 408.3,207.2 408.8,211.9 409.3,210 409.8,209.4 410.3,205.2 410.8,209.5 411.3,209.4 411.8,211.1 412.3,209.5 412.8,208.9 413.3,209.8 413.8,206.6 414.3,210.6 414.8,209.8 415.3,208.5 415.8,211.3 416.3,212 416.8,207.8 417.3,208.9 417.8,210.2 418.3,210.2 418.8,209.5 419.3,208.8 419.8,212.9 420.3,211.6 420.8,208.7 421.3,208.6 421.8,212.7 422.3,211.9 422.8,213 423.3,211.8 423.8,209.6 424.3,211.2 424.8,208.1 425.3,210 425.8,211 426.3,211.9 426.8,210.3" fill="none" stroke="#ee3841" stroke-width="1.25" stroke-linejoin="round" />
<polyline points="366.8,201.7 367.3,203.1 367.8,203.6 368.3,204.4 368.8,204.3 369.3,204 369.8,205.8 370.3,205.1 370.8,204.3 371.3,204.7 371.8,205.7 372.3,205.8 372.8,206.3 373.3,206.2 373.8,206.5 374.3,206.3 374.8,205 375.3,207.2 375.8,208.1 376.3,207.4 376.8,206.7 377.3,207.6 377.8,205.9 378.3,204.8 378.8,207.3 379.3,206.1 379.8,208.3 380.3,206.1 380.8,204.2 381.3,206.3 381.8,209.6 382.3,207.2 382.8,206.1 383.3,206.9 383.8,208.6 384.3,208.6 384.8,208.2 385.3,210 385.8,209 386.3,208.2 386.8,209 387.3,210.4 387.8,209.6 388.3,209.7 388.8,207.1 389.3,208.4 389.8,209.6 390.3,208.3 390.8,210.1 391.3,209.6 391.8,210 392.3,208.7 392.8,212.2 393.3,210.6 393.8,208.8 394.3,209.3 394.8,212.5 395.3,208.9 395.8,210.5 396.3,210.7 396.8,209.5 397.3,208.1 397.8,209.8 398.3,210.1 398.8,211.1 399.3,210.8 399.8,209.9 400.3,211 400.8,210.6 401.3,210.3 401.8,210.1 402.3,209.8 402.8,211.1 403.3,208.9 403.8,209.5 404.3,210.4 404.8,208.6 405.3,209.9 405.8,208 406.3,209.8 406.8,211.4 407.3,211.4 407.8,210.7 408.3,210.6 408.8,209.1 409.3,213.3 409.8,211.7 410.3,212.5 410.8,210 411.3,211 411.8,209 412.3,212.3 412.8,212.6 413.3,209.1 413.8,211.5 414.3,212.4 414.8,209.4 415.3,209.4 415.8,210.4 416.3,211 416.8,210.1 417.3,212 417.8,212.3 418.3,212.9 418.8,213 419.3,214.1 419.8,213.7 420.3,210.6 420.8,211.7 421.3,211.1 421.8,211.1 422.3,212.4 422.8,212.6 423.3,213.3 423.8,210.7 424.3,211.2 424.8,212.8 425.3,212.6 425.8,212.6 426.3,212.9 426.8,212.1" fill="none" stroke="#ee3841" stroke-width="1.25" stroke-linejoin="round" />
<polyline points="366.8,206.9 367.3,207 367.8,206.9 368.3,206.5 368.8,207.5 369.3,204.7 369.8,207 370.3,208.5 370.8,206.8 371.3,209 371.8,209.1 372.3,207.4 372.8,208.9 373.3,208.9 373.8,209.9 374.3,210.2 374.8,209.5 375.3,208.6 375.8,209.5 376.3,209.7 376.8,210.7 377.3,210.2 377.8,209.1 378.3,208.4 378.8,209.6 379.3,209.2 379.8,208.8 380.3,210.1 380.8,209.7 381.3,210.4 381.8,211 382.3,209.9 382.8,213.2 383.3,210.1 383.8,211.9 384.3,210.7 384.8,212 385.3,207.8 385.8,209.8 386.3,211.1 386.8,211.6 387.3,213.7 387.8,211.3 388.3,212.5 388.8,211.9 389.3,212.2 389.8,211.7 390.3,211 390.8,211.8 391.3,209.9 391.8,212.7 392.3,210.1 392.8,211.7 393.3,214 393.8,211.2 394.3,211.5 394.8,212.9 395.3,211.6 395.8,210.7 396.3,212 396.8,212.4 397.3,212.6 397.8,210.9 398.3,214 398.8,213.9 399.3,212 399.8,212.3 400.3,211.5 400.8,213.8 401.3,211.3 401.8,213 402.3,211.7 402.8,211.4 403.3,213.2 403.8,214 404.3,212.4 404.8,211.6 405.3,213.5 405.8,212.5 406.3,213 406.8,214.5 407.3,214 407.8,212.1 408.3,215.5 408.8,212.8 409.3,213.8 409.8,212.1 410.3,212.9 410.8,210.9 411.3,215.2 411.8,214.7 412.3,211.7 412.8,211.4 413.3,211.3 413.8,214.7 414.3,212.8 414.8,213.3 415.3,213 415.8,213.3 416.3,212.2 416.8,213.6 417.3,211.9 417.8,213.5 418.3,214 418.8,214.3 419.3,213.5 419.8,212.7 420.3,214 420.8,213.3 421.3,215.8 421.8,214.9 422.3,213.9 422.8,213.5 423.3,213.3 423.8,213 424.3,213.8 424.8,214.6 425.3,214.9 425.8,215 426.3,216.9 426.8,213.6" fill="none" stroke="#ee3841" stroke-width="1.25" stroke-linejoin="round" />
<polyline points="366.8,209.1 367.3,212.8 367.8,207.5 368.3,209.4 368.8,210.4 369.3,210.6 369.8,211.1 370.3,210.5 370.8,211.3 371.3,211.1 371.8,212 372.3,208.9 372.8,210.2 373.3,211.4 373.8,210.2 374.3,210.3 374.8,212.3 375.3,210.9 375.8,212.5 376.3,212.7 376.8,212.2 377.3,212.5 377.8,211.8 378.3,210.3 378.8,212 379.3,212.6 379.8,211.5 380.3,212 380.8,213.1 381.3,211.2 381.8,213 382.3,214.5 382.8,211.7 383.3,212.6 383.8,212.3 384.3,214.3 384.8,212.9 385.3,213.6 385.8,211.8 386.3,212.6 386.8,212.7 387.3,210.6 387.8,214.5 388.3,213.9 388.8,210.7 389.3,213.8 389.8,212.8 390.3,213.5 390.8,213.4 391.3,211.2 391.8,212.8 392.3,214.9 392.8,212.5 393.3,212 393.8,211.6 394.3,211.8 394.8,213.7 395.3,215.4 395.8,213.9 396.3,213.7 396.8,216.2 397.3,212.9 397.8,212.8 398.3,214.2 398.8,214.3 399.3,212.5 399.8,212.3 400.3,214.1 400.8,214.1 401.3,212.3 401.8,213.6 402.3,213.3 402.8,214.5 403.3,213.9 403.8,213.9 404.3,213.7 404.8,215.4 405.3,215.8 405.8,213.8 406.3,215.3 406.8,213.4 407.3,214.4 407.8,215.3 408.3,216.2 408.8,214 409.3,214.4 409.8,214.8 410.3,212.8 410.8,214.6 411.3,213.8 411.8,215.1 412.3,213.4 412.8,212.4 413.3,214.8 413.8,215.2 414.3,214.2 414.8,216 415.3,214.6 415.8,214.3 416.3,215.6 416.8,213.2 417.3,214.3 417.8,215.1 418.3,216.2 418.8,215 419.3,215.7 419.8,214.5 420.3,215.7 420.8,217.4 421.3,214.6 421.8,218.3 422.3,214.8 422.8,215.6 423.3,215.8 423.8,216.9 424.3,214.2 424.8,213.2 425.3,216.5 425.8,216.8 426.3,216.6 426.8,219" fill="none" stroke="#ee3841" stroke-width="1.25" stroke-linejoin="round" />
<polyline points="366.8,211.1 367.3,211.5 367.8,212.6 368.3,212.2 368.8,213.9 369.3,210.7 369.8,211.9 370.3,208.5 370.8,213.5 371.3,212.3 371.8,213.9 372.3,215.4 372.8,213 373.3,212.8 373.8,212.6 374.3,212.2 374.8,212.5 375.3,214 375.8,213.4 376.3,213.5 376.8,213.2 377.3,214.5 377.8,214.1 378.3,213.4 378.8,214.4 379.3,213.5 379.8,212.4 380.3,215.4 380.8,214.3 381.3,212.7 381.8,215.1 382.3,214.3 382.8,212.1 383.3,215.8 383.8,214.3 384.3,215 384.8,214.3 385.3,213.9 385.8,212.3 386.3,215.2 386.8,214.2 387.3,213.9 387.8,214.6 388.3,214.3 388.8,215.1 389.3,213.9 389.8,214.3 390.3,212 390.8,213.9 391.3,215.2 391.8,216 392.3,214.1 392.8,214.4 393.3,216.4 393.8,214.2 394.3,215.5 394.8,216.6 395.3,214.8 395.8,216.1 396.3,214 396.8,215 397.3,214.8 397.8,215 398.3,216.2 398.8,217.7 399.3,214.2 399.8,214.4 400.3,215.6 400.8,213.9 401.3,215.7 401.8,215.8 402.3,214.9 402.8,215.8 403.3,213.5 403.8,216.1 404.3,213.5 404.8,214.5 405.3,214.7 405.8,214.9 406.3,216.4 406.8,215.6 407.3,215 407.8,216.1 408.3,217.4 408.8,215.6 409.3,216 409.8,217.1 410.3,216 410.8,214.3 411.3,218.6 411.8,218.3 412.3,213.6 412.8,215.8 413.3,216.4 413.8,217 414.3,216.7 414.8,215.7 415.3,214.8 415.8,216.2 416.3,217.3 416.8,214.9 417.3,215 417.8,216.1 418.3,214 418.8,215.9 419.3,215.8 419.8,216.8 420.3,215.5 420.8,215.4 421.3,216 421.8,216.4 422.3,215.7 422.8,216.5 423.3,217.4 423.8,217.9 424.3,218.5 424.8,215.7 425.3,216.2 425.8,213.9 426.3,218.9 426.8,215.9" fill="none" stroke="#ee3841" stroke-width="1.25" stroke-linejoin="round" />
<polyline points="366.8,213.3 367.3,214.1 367.8,212.1 368.3,214.3 368.8,213.9 369.3,211.9 369.8,214.5 370.3,215.6 370.8,212.1 371.3,215.3 371.8,214.6 372.3,215 372.8,215 373.3,216 373.8,214.3 374.3,215.6 374.8,214.2 375.3,215.5 375.8,213.8 376.3,214.6 376.8,216.8 377.3,215.3 377.8,214.7 378.3,213.6 378.8,214 379.3,215.2 379.8,216 380.3,215.5 380.8,215.6 381.3,215 381.8,216.6 382.3,214.7 382.8,214.5 383.3,216.2 383.8,215.3 384.3,214.9 384.8,214.6 385.3,215 385.8,216 386.3,215.7 386.8,214 387.3,215.8 387.8,215.6 388.3,214.3 388.8,216.3 389.3,215.1 389.8,215.1 390.3,216.4 390.8,217 391.3,214.8 391.8,216.1 392.3,214.6 392.8,218.3 393.3,215.1 393.8,217.1 394.3,215 394.8,216.7 395.3,218.3 395.8,212.9 396.3,215.3 396.8,216.4 397.3,215.8 397.8,215.1 398.3,218.4 398.8,216 399.3,214.1 399.8,217 400.3,214.1 400.8,217.4 401.3,215.4 401.8,216.3 402.3,217.6 402.8,216.3 403.3,214.6 403.8,214.3 404.3,217.6 404.8,217.1 405.3,215.3 405.8,217.3 406.3,216.9 406.8,217.1 407.3,213.8 407.8,216 408.3,217.4 408.8,217.3 409.3,217.5 409.8,213.7 410.3,216.7 410.8,217.1 411.3,219.5 411.8,215.5 412.3,216.2 412.8,216.7 413.3,217.7 413.8,216.2 414.3,218 414.8,215.8 415.3,217.1 415.8,216.2 416.3,217 416.8,216.1 417.3,215 417.8,218.1 418.3,217.3 418.8,216.3 419.3,217.2 419.8,218.1 420.3,215.9 420.8,216.9 421.3,217.7 421.8,217.7 422.3,216.7 422.8,214.7 423.3,218.6 423.8,217.6 424.3,217.2 424.8,216.9 425.3,217.6 425.8,216.8 426.3,216.1 426.8,216.5" fill="none" stroke="#ee3841" stroke-width="1.25" stroke-linejoin="round" />
<polyline points="366.8,213.7 367.3,213.9 367.8,213.5 368.3,215.5 368.8,213.5 369.3,215.8 369.8,214 370.3,215.6 370.8,216.8 371.3,215.6 371.8,214.6 372.3,215.5 372.8,215.7 373.3,213.7 373.8,214.9 374.3,215.8 374.8,215.1 375.3,215.8 375.8,216.5 376.3,216.6 376.8,216.7 377.3,216.4 377.8,215.5 378.3,215.8 378.8,215.6 379.3,215.5 379.8,215.7 380.3,214.1 380.8,215.6 381.3,215.9 381.8,214.9 382.3,216 382.8,216.6 383.3,215.9 383.8,218.3 384.3,213.3 384.8,215.9 385.3,214.2 385.8,217.2 386.3,219 386.8,213.5 387.3,216.3 387.8,216.8 388.3,215.9 388.8,216.9 389.3,213.9 389.8,217.2 390.3,216.7 390.8,216.4 391.3,215.7 391.8,217.1 392.3,215.9 392.8,216.7 393.3,215.9 393.8,214 394.3,216.5 394.8,216.7 395.3,217.3 395.8,215.6 396.3,216.5 396.8,217.3 397.3,216.8 397.8,218 398.3,218.8 398.8,215.7 399.3,214.6 399.8,217.6 400.3,218.4 400.8,217.7 401.3,217.7 401.8,216.1 402.3,216 402.8,217.8 403.3,215.9 403.8,214.9 404.3,215.8 404.8,219.6 405.3,219 405.8,216.2 406.3,216.2 406.8,217.2 407.3,216.2 407.8,218.4 408.3,217 408.8,215.9 409.3,218.5 409.8,216.5 410.3,217.4 410.8,217.1 411.3,216.8 411.8,217.5 412.3,216.5 412.8,215.2 413.3,214.9 413.8,215.9 414.3,216.5 414.8,217.3 415.3,217.4 415.8,218 416.3,217.5 416.8,216.5 417.3,216.6 417.8,215.1 418.3,217.3 418.8,218 419.3,218.1 419.8,217.4 420.3,217.3 420.8,218.6 421.3,217.6 421.8,218.4 422.3,218.2 422.8,217.9 423.3,219.1 423.8,217.1 424.3,217.3 424.8,216.8 425.3,216.9 425.8,219.4 426.3,219.7 426.8,217.8" fill="none" stroke="#ee3841" stroke-width="1.25" stroke-linejoin="round" />
</g>
<rect x="484.5" y="178" width="154.5" height="123.6" fill="none" stroke="#000" stroke-width="1.5" />
<line x1="481.5" y1="301.6" x2="484.5" y2="301.6" stroke="#000" stroke-width="1.3" />
<line x1="478.5" y1="290.4" x2="484.5" y2="290.4" stroke="#000" stroke-width="1.3" />
<line x1="481.5" y1="279.1" x2="484.5" y2="279.1" stroke="#000" stroke-width="1.3" />
<line x1="478.5" y1="267.9" x2="484.5" y2="267.9" stroke="#000" stroke-width="1.3" />
<line x1="481.5" y1="256.6" x2="484.5" y2="256.6" stroke="#000" stroke-width="1.3" />
<line x1="478.5" y1="245.4" x2="484.5" y2="245.4" stroke="#000" stroke-width="1.3" />
<line x1="481.5" y1="234.1" x2="484.5" y2="234.1" stroke="#000" stroke-width="1.3" />
<line x1="478.5" y1="222.9" x2="484.5" y2="222.9" stroke="#000" stroke-width="1.3" />
<line x1="481.5" y1="211.6" x2="484.5" y2="211.6" stroke="#000" stroke-width="1.3" />
<line x1="478.5" y1="200.4" x2="484.5" y2="200.4" stroke="#000" stroke-width="1.3" />
<line x1="481.5" y1="189.1" x2="484.5" y2="189.1" stroke="#000" stroke-width="1.3" />
<line x1="484.5" y1="301.6" x2="484.5" y2="306" stroke="#000" stroke-width="1.3" />
<text x="484.5" y="319.3" font-size="14" text-anchor="middle" fill="#000" font-weight="normal" stroke="#000" stroke-width="0.12" >300</text>
<line x1="503.8" y1="301.6" x2="503.8" y2="304" stroke="#000" stroke-width="1.3" />
<line x1="523.1" y1="301.6" x2="523.1" y2="306" stroke="#000" stroke-width="1.3" />
<text x="523.1" y="319.3" font-size="14" text-anchor="middle" fill="#000" font-weight="normal" stroke="#000" stroke-width="0.12" >400</text>
<line x1="542.4" y1="301.6" x2="542.4" y2="304" stroke="#000" stroke-width="1.3" />
<line x1="561.8" y1="301.6" x2="561.8" y2="306" stroke="#000" stroke-width="1.3" />
<text x="561.8" y="319.3" font-size="14" text-anchor="middle" fill="#000" font-weight="normal" stroke="#000" stroke-width="0.12" >500</text>
<line x1="581.1" y1="301.6" x2="581.1" y2="304" stroke="#000" stroke-width="1.3" />
<line x1="600.4" y1="301.6" x2="600.4" y2="306" stroke="#000" stroke-width="1.3" />
<text x="600.4" y="319.3" font-size="14" text-anchor="middle" fill="#000" font-weight="normal" stroke="#000" stroke-width="0.12" >600</text>
<line x1="619.7" y1="301.6" x2="619.7" y2="304" stroke="#000" stroke-width="1.3" />
<line x1="639" y1="301.6" x2="639" y2="306" stroke="#000" stroke-width="1.3" />
<text x="639" y="319.3" font-size="14" text-anchor="middle" fill="#000" font-weight="normal" stroke="#000" stroke-width="0.12" >700</text>
<text x="561.7" y="332.2" font-size="14" text-anchor="middle" fill="#000" font-weight="normal" stroke="#000" stroke-width="0.12" >Wavelength (nm)</text>
<text x="0" y="0" font-size="13.6" text-anchor="start" fill="#000" font-weight="normal" stroke="#000" stroke-width="0.12" transform="translate(453.2,335) rotate(-90)" >EL Intensity (arb. units)</text>
<polyline points="484.5,290.3 485.3,290.3 486,290.3 486.8,290.3 487.6,290.3 488.4,290.3 489.1,290.3 489.9,290.3 490.7,290.3 491.5,290.3 492.2,290.3 493,290.3 493.8,290.3 494.5,290.3 495.3,290.3 496.1,290.3 496.9,290.3 497.6,290.3 498.4,290.3 499.2,290.3 499.9,290.3 500.7,290.3 501.5,290.3 502.3,290.3 503,290.3 503.8,290.3 504.6,290.3 505.4,290.3 506.1,290.3 506.9,290.3 507.7,290.3 508.4,290.3 509.2,290.3 510,290.3 510.8,290.3 511.5,290.3 512.3,290.3 513.1,290.3 513.9,290.3 514.6,290.3 515.4,290.3 516.2,290.2 516.9,290.2 517.7,290.1 518.5,289.9 519.3,289.6 520,289.1 520.8,288.4 521.6,287.2 522.4,285.5 523.1,283 523.9,279.6 524.7,275.1 525.4,269.4 526.2,262.3 527,253.9 527.8,244.4 528.5,234.2 529.3,223.7 530.1,213.6 530.9,204.5 531.6,197.2 532.4,192.2 533.2,189.9 533.9,190.5 534.7,193.7 535.5,199.2 536.3,206.5 537,214.6 537.8,223 538.6,230.9 539.3,237.6 540.1,242.8 540.9,246.3 541.7,247.9 542.4,247.7 543.2,246.1 544,243.3 544.8,239.7 545.5,235.7 546.3,231.7 547.1,228.1 547.8,225 548.6,222.9 549.4,221.8 550.2,221.9 550.9,223.1 551.7,225.5 552.5,228.9 553.3,233.1 554,237.9 554.8,243.2 555.6,248.8 556.3,254.3 557.1,259.6 557.9,264.6 558.7,269.2 559.4,273.2 560.2,276.7 561,279.7 561.8,282.2 562.5,284.2 563.3,285.8 564.1,287 564.8,288 565.6,288.7 566.4,289.2 567.2,289.5 567.9,289.8 568.7,290 569.5,290.1 570.2,290.2 571,290.2 571.8,290.2 572.6,290.3 573.3,290.3 574.1,290.3 574.9,290.3 575.7,290.3 576.4,290.3 577.2,290.3 578,290.3 578.7,290.3 579.5,290.3 580.3,290.3 581.1,290.3 581.8,290.3 582.6,290.3 583.4,290.3 584.2,290.3 584.9,290.3 585.7,290.3 586.5,290.3 587.2,290.3 588,290.3 588.8,290.3 589.6,290.3 590.3,290.3 591.1,290.3 591.9,290.3 592.6,290.3 593.4,290.3 594.2,290.3 595,290.3 595.7,290.3 596.5,290.3 597.3,290.3 598.1,290.3 598.8,290.3 599.6,290.3 600.4,290.3 601.1,290.3 601.9,290.3 602.7,290.3 603.5,290.3 604.2,290.3 605,290.3 605.8,290.3 606.6,290.3 607.3,290.3 608.1,290.3 608.9,290.3 609.6,290.3 610.4,290.3 611.2,290.3 612,290.3 612.7,290.3 613.5,290.3 614.3,290.3 615.1,290.3 615.8,290.3 616.6,290.3 617.4,290.3 618.1,290.3 618.9,290.3 619.7,290.3 620.5,290.3 621.2,290.3 622,290.3 622.8,290.3 623.5,290.3 624.3,290.3 625.1,290.3 625.9,290.3 626.6,290.3 627.4,290.3 628.2,290.3 629,290.3 629.7,290.3 630.5,290.3 631.3,290.3 632,290.3 632.8,290.3 633.6,290.3 634.4,290.3 635.1,290.3 635.9,290.3 636.7,290.3 637.5,290.3 638.2,290.3 639,290.3" fill="none" stroke="#1f6ae0" stroke-width="1.2" stroke-linejoin="round" />
<polyline points="484.5,290.3 485.3,290.3 486,290.3 486.8,290.3 487.6,290.3 488.4,290.3 489.1,290.3 489.9,290.3 490.7,290.3 491.5,290.3 492.2,290.3 493,290.3 493.8,290.3 494.5,290.3 495.3,290.3 496.1,290.3 496.9,290.3 497.6,290.3 498.4,290.3 499.2,290.3 499.9,290.3 500.7,290.3 501.5,290.3 502.3,290.3 503,290.3 503.8,290.3 504.6,290.3 505.4,290.3 506.1,290.3 506.9,290.3 507.7,290.3 508.4,290.3 509.2,290.3 510,290.3 510.8,290.3 511.5,290.3 512.3,290.3 513.1,290.3 513.9,290.3 514.6,290.3 515.4,290.3 516.2,290.2 516.9,290.2 517.7,290.1 518.5,289.9 519.3,289.7 520,289.2 520.8,288.5 521.6,287.4 522.4,285.8 523.1,283.5 523.9,280.4 524.7,276.2 525.4,270.9 526.2,264.3 527,256.5 527.8,247.7 528.5,238.1 529.3,228.4 530.1,219 530.9,210.6 531.6,203.8 532.4,199.2 533.2,197 533.9,197.5 534.7,200.5 535.5,205.7 536.3,212.4 537,220 537.8,227.8 538.6,235.1 539.3,241.4 540.1,246.2 540.9,249.4 541.7,250.9 542.4,250.7 543.2,249.2 544,246.6 544.8,243.3 545.5,239.6 546.3,235.9 547.1,232.5 547.8,229.7 548.6,227.7 549.4,226.7 550.2,226.7 550.9,227.9 551.7,230.1 552.5,233.2 553.3,237.1 554,241.6 554.8,246.6 555.6,251.7 556.3,256.8 557.1,261.8 557.9,266.4 558.7,270.7 559.4,274.4 560.2,277.7 561,280.5 561.8,282.8 562.5,284.6 563.3,286.1 564.1,287.3 564.8,288.1 565.6,288.8 566.4,289.3 567.2,289.6 567.9,289.8 568.7,290 569.5,290.1 570.2,290.2 571,290.2 571.8,290.3 572.6,290.3 573.3,290.3 574.1,290.3 574.9,290.3 575.7,290.3 576.4,290.3 577.2,290.3 578,290.3 578.7,290.3 579.5,290.3 580.3,290.3 581.1,290.3 581.8,290.3 582.6,290.3 583.4,290.3 584.2,290.3 584.9,290.3 585.7,290.3 586.5,290.3 587.2,290.3 588,290.3 588.8,290.3 589.6,290.3 590.3,290.3 591.1,290.3 591.9,290.3 592.6,290.3 593.4,290.3 594.2,290.3 595,290.3 595.7,290.3 596.5,290.3 597.3,290.3 598.1,290.3 598.8,290.3 599.6,290.3 600.4,290.3 601.1,290.3 601.9,290.3 602.7,290.3 603.5,290.3 604.2,290.3 605,290.3 605.8,290.3 606.6,290.3 607.3,290.3 608.1,290.3 608.9,290.3 609.6,290.3 610.4,290.3 611.2,290.3 612,290.3 612.7,290.3 613.5,290.3 614.3,290.3 615.1,290.3 615.8,290.3 616.6,290.3 617.4,290.3 618.1,290.3 618.9,290.3 619.7,290.3 620.5,290.3 621.2,290.3 622,290.3 622.8,290.3 623.5,290.3 624.3,290.3 625.1,290.3 625.9,290.3 626.6,290.3 627.4,290.3 628.2,290.3 629,290.3 629.7,290.3 630.5,290.3 631.3,290.3 632,290.3 632.8,290.3 633.6,290.3 634.4,290.3 635.1,290.3 635.9,290.3 636.7,290.3 637.5,290.3 638.2,290.3 639,290.3" fill="none" stroke="#1f6ae0" stroke-width="1.2" stroke-linejoin="round" />
<polyline points="484.5,290.3 485.3,290.3 486,290.3 486.8,290.3 487.6,290.3 488.4,290.3 489.1,290.3 489.9,290.3 490.7,290.3 491.5,290.3 492.2,290.3 493,290.3 493.8,290.3 494.5,290.3 495.3,290.3 496.1,290.3 496.9,290.3 497.6,290.3 498.4,290.3 499.2,290.3 499.9,290.3 500.7,290.3 501.5,290.3 502.3,290.3 503,290.3 503.8,290.3 504.6,290.3 505.4,290.3 506.1,290.3 506.9,290.3 507.7,290.3 508.4,290.3 509.2,290.3 510,290.3 510.8,290.3 511.5,290.3 512.3,290.3 513.1,290.3 513.9,290.3 514.6,290.3 515.4,290.3 516.2,290.2 516.9,290.2 517.7,290.1 518.5,290 519.3,289.7 520,289.3 520.8,288.6 521.6,287.6 522.4,286.1 523.1,284 523.9,281.1 524.7,277.2 525.4,272.2 526.2,266.1 527,258.8 527.8,250.6 528.5,241.8 529.3,232.7 530.1,224 530.9,216.1 531.6,209.8 532.4,205.5 533.2,203.5 533.9,204 534.7,206.8 535.5,211.6 536.3,217.8 537,224.9 537.8,232.1 538.6,238.9 539.3,244.8 540.1,249.3 540.9,252.2 541.7,253.6 542.4,253.5 543.2,252.1 544,249.7 544.8,246.6 545.5,243.1 546.3,239.7 547.1,236.5 547.8,233.9 548.6,232 549.4,231.1 550.2,231.1 550.9,232.2 551.7,234.3 552.5,237.2 553.3,240.8 554,245 554.8,249.6 555.6,254.4 556.3,259.1 557.1,263.7 557.9,268.1 558.7,272 559.4,275.5 560.2,278.6 561,281.2 561.8,283.3 562.5,285 563.3,286.4 564.1,287.5 564.8,288.3 565.6,288.9 566.4,289.3 567.2,289.6 567.9,289.9 568.7,290 569.5,290.1 570.2,290.2 571,290.2 571.8,290.3 572.6,290.3 573.3,290.3 574.1,290.3 574.9,290.3 575.7,290.3 576.4,290.3 577.2,290.3 578,290.3 578.7,290.3 579.5,290.3 580.3,290.3 581.1,290.3 581.8,290.3 582.6,290.3 583.4,290.3 584.2,290.3 584.9,290.3 585.7,290.3 586.5,290.3 587.2,290.3 588,290.3 588.8,290.3 589.6,290.3 590.3,290.3 591.1,290.3 591.9,290.3 592.6,290.3 593.4,290.3 594.2,290.3 595,290.3 595.7,290.3 596.5,290.3 597.3,290.3 598.1,290.3 598.8,290.3 599.6,290.3 600.4,290.3 601.1,290.3 601.9,290.3 602.7,290.3 603.5,290.3 604.2,290.3 605,290.3 605.8,290.3 606.6,290.3 607.3,290.3 608.1,290.3 608.9,290.3 609.6,290.3 610.4,290.3 611.2,290.3 612,290.3 612.7,290.3 613.5,290.3 614.3,290.3 615.1,290.3 615.8,290.3 616.6,290.3 617.4,290.3 618.1,290.3 618.9,290.3 619.7,290.3 620.5,290.3 621.2,290.3 622,290.3 622.8,290.3 623.5,290.3 624.3,290.3 625.1,290.3 625.9,290.3 626.6,290.3 627.4,290.3 628.2,290.3 629,290.3 629.7,290.3 630.5,290.3 631.3,290.3 632,290.3 632.8,290.3 633.6,290.3 634.4,290.3 635.1,290.3 635.9,290.3 636.7,290.3 637.5,290.3 638.2,290.3 639,290.3" fill="none" stroke="#1f6ae0" stroke-width="1.2" stroke-linejoin="round" />
<polyline points="484.5,290.3 485.3,290.3 486,290.3 486.8,290.3 487.6,290.3 488.4,290.3 489.1,290.3 489.9,290.3 490.7,290.3 491.5,290.3 492.2,290.3 493,290.3 493.8,290.3 494.5,290.3 495.3,290.3 496.1,290.3 496.9,290.3 497.6,290.3 498.4,290.3 499.2,290.3 499.9,290.3 500.7,290.3 501.5,290.3 502.3,290.3 503,290.3 503.8,290.3 504.6,290.3 505.4,290.3 506.1,290.3 506.9,290.3 507.7,290.3 508.4,290.3 509.2,290.3 510,290.3 510.8,290.3 511.5,290.3 512.3,290.3 513.1,290.3 513.9,290.3 514.6,290.3 515.4,290.3 516.2,290.3 516.9,290.2 517.7,290.1 518.5,290 519.3,289.8 520,289.4 520.8,288.8 521.6,287.9 522.4,286.5 523.1,284.6 523.9,281.9 524.7,278.3 525.4,273.8 526.2,268.2 527,261.6 527.8,254.1 528.5,246 529.3,237.7 530.1,229.7 530.9,222.5 531.6,216.8 532.4,212.8 533.2,211 533.9,211.4 534.7,214 535.5,218.3 536.3,224.1 537,230.5 537.8,237.2 538.6,243.4 539.3,248.7 540.1,252.8 540.9,255.5 541.7,256.8 542.4,256.7 543.2,255.4 544,253.2 544.8,250.3 545.5,247.2 546.3,244 547.1,241.1 547.8,238.7 548.6,237 549.4,236.2 550.2,236.2 550.9,237.2 551.7,239.1 552.5,241.8 553.3,245.1 554,248.9 554.8,253.1 555.6,257.5 556.3,261.8 557.1,266 557.9,270 558.7,273.6 559.4,276.8 560.2,279.6 561,281.9 561.8,283.9 562.5,285.5 563.3,286.7 564.1,287.7 564.8,288.5 565.6,289 566.4,289.4 567.2,289.7 567.9,289.9 568.7,290 569.5,290.1 570.2,290.2 571,290.2 571.8,290.3 572.6,290.3 573.3,290.3 574.1,290.3 574.9,290.3 575.7,290.3 576.4,290.3 577.2,290.3 578,290.3 578.7,290.3 579.5,290.3 580.3,290.3 581.1,290.3 581.8,290.3 582.6,290.3 583.4,290.3 584.2,290.3 584.9,290.3 585.7,290.3 586.5,290.3 587.2,290.3 588,290.3 588.8,290.3 589.6,290.3 590.3,290.3 591.1,290.3 591.9,290.3 592.6,290.3 593.4,290.3 594.2,290.3 595,290.3 595.7,290.3 596.5,290.3 597.3,290.3 598.1,290.3 598.8,290.3 599.6,290.3 600.4,290.3 601.1,290.3 601.9,290.3 602.7,290.3 603.5,290.3 604.2,290.3 605,290.3 605.8,290.3 606.6,290.3 607.3,290.3 608.1,290.3 608.9,290.3 609.6,290.3 610.4,290.3 611.2,290.3 612,290.3 612.7,290.3 613.5,290.3 614.3,290.3 615.1,290.3 615.8,290.3 616.6,290.3 617.4,290.3 618.1,290.3 618.9,290.3 619.7,290.3 620.5,290.3 621.2,290.3 622,290.3 622.8,290.3 623.5,290.3 624.3,290.3 625.1,290.3 625.9,290.3 626.6,290.3 627.4,290.3 628.2,290.3 629,290.3 629.7,290.3 630.5,290.3 631.3,290.3 632,290.3 632.8,290.3 633.6,290.3 634.4,290.3 635.1,290.3 635.9,290.3 636.7,290.3 637.5,290.3 638.2,290.3 639,290.3" fill="none" stroke="#1f6ae0" stroke-width="1.2" stroke-linejoin="round" />
<polyline points="484.5,290.3 485.3,290.3 486,290.3 486.8,290.3 487.6,290.3 488.4,290.3 489.1,290.3 489.9,290.3 490.7,290.3 491.5,290.3 492.2,290.3 493,290.3 493.8,290.3 494.5,290.3 495.3,290.3 496.1,290.3 496.9,290.3 497.6,290.3 498.4,290.3 499.2,290.3 499.9,290.3 500.7,290.3 501.5,290.3 502.3,290.3 503,290.3 503.8,290.3 504.6,290.3 505.4,290.3 506.1,290.3 506.9,290.3 507.7,290.3 508.4,290.3 509.2,290.3 510,290.3 510.8,290.3 511.5,290.3 512.3,290.3 513.1,290.3 513.9,290.3 514.6,290.3 515.4,290.3 516.2,290.3 516.9,290.2 517.7,290.1 518.5,290 519.3,289.8 520,289.5 520.8,288.9 521.6,288.1 522.4,286.8 523.1,285.1 523.9,282.6 524.7,279.4 525.4,275.2 526.2,270.1 527,264 527.8,257.2 528.5,249.8 529.3,242.2 530.1,235 530.9,228.4 531.6,223.2 532.4,219.6 533.2,217.9 533.9,218.3 534.7,220.6 535.5,224.6 536.3,229.8 537,235.7 537.8,241.8 538.6,247.5 539.3,252.3 540.1,256.1 540.9,258.5 541.7,259.7 542.4,259.6 543.2,258.4 544,256.4 544.8,253.8 545.5,250.9 546.3,248 547.1,245.4 547.8,243.2 548.6,241.7 549.4,240.9 550.2,240.9 550.9,241.8 551.7,243.5 552.5,246 553.3,249 554,252.5 554.8,256.4 555.6,260.3 556.3,264.3 557.1,268.1 557.9,271.8 558.7,275 559.4,278 560.2,280.5 561,282.7 561.8,284.5 562.5,285.9 563.3,287.1 564.1,287.9 564.8,288.6 565.6,289.1 566.4,289.5 567.2,289.8 567.9,289.9 568.7,290.1 569.5,290.1 570.2,290.2 571,290.2 571.8,290.3 572.6,290.3 573.3,290.3 574.1,290.3 574.9,290.3 575.7,290.3 576.4,290.3 577.2,290.3 578,290.3 578.7,290.3 579.5,290.3 580.3,290.3 581.1,290.3 581.8,290.3 582.6,290.3 583.4,290.3 584.2,290.3 584.9,290.3 585.7,290.3 586.5,290.3 587.2,290.3 588,290.3 588.8,290.3 589.6,290.3 590.3,290.3 591.1,290.3 591.9,290.3 592.6,290.3 593.4,290.3 594.2,290.3 595,290.3 595.7,290.3 596.5,290.3 597.3,290.3 598.1,290.3 598.8,290.3 599.6,290.3 600.4,290.3 601.1,290.3 601.9,290.3 602.7,290.3 603.5,290.3 604.2,290.3 605,290.3 605.8,290.3 606.6,290.3 607.3,290.3 608.1,290.3 608.9,290.3 609.6,290.3 610.4,290.3 611.2,290.3 612,290.3 612.7,290.3 613.5,290.3 614.3,290.3 615.1,290.3 615.8,290.3 616.6,290.3 617.4,290.3 618.1,290.3 618.9,290.3 619.7,290.3 620.5,290.3 621.2,290.3 622,290.3 622.8,290.3 623.5,290.3 624.3,290.3 625.1,290.3 625.9,290.3 626.6,290.3 627.4,290.3 628.2,290.3 629,290.3 629.7,290.3 630.5,290.3 631.3,290.3 632,290.3 632.8,290.3 633.6,290.3 634.4,290.3 635.1,290.3 635.9,290.3 636.7,290.3 637.5,290.3 638.2,290.3 639,290.3" fill="none" stroke="#1f6ae0" stroke-width="1.2" stroke-linejoin="round" />
<polyline points="484.5,290.3 485.3,290.3 486,290.3 486.8,290.3 487.6,290.3 488.4,290.3 489.1,290.3 489.9,290.3 490.7,290.3 491.5,290.3 492.2,290.3 493,290.3 493.8,290.3 494.5,290.3 495.3,290.3 496.1,290.3 496.9,290.3 497.6,290.3 498.4,290.3 499.2,290.3 499.9,290.3 500.7,290.3 501.5,290.3 502.3,290.3 503,290.3 503.8,290.3 504.6,290.3 505.4,290.3 506.1,290.3 506.9,290.3 507.7,290.3 508.4,290.3 509.2,290.3 510,290.3 510.8,290.3 511.5,290.3 512.3,290.3 513.1,290.3 513.9,290.3 514.6,290.3 515.4,290.3 516.2,290.3 516.9,290.2 517.7,290.2 518.5,290 519.3,289.8 520,289.5 520.8,289 521.6,288.3 522.4,287.1 523.1,285.5 523.9,283.3 524.7,280.3 525.4,276.5 526.2,271.8 527,266.3 527.8,260 528.5,253.2 529.3,246.3 530.1,239.6 530.9,233.6 531.6,228.8 532.4,225.5 533.2,224 533.9,224.3 534.7,226.5 535.5,230.1 536.3,234.9 537,240.3 537.8,245.9 538.6,251.1 539.3,255.5 540.1,258.9 540.9,261.2 541.7,262.3 542.4,262.2 543.2,261.1 544,259.2 544.8,256.9 545.5,254.2 546.3,251.6 547.1,249.2 547.8,247.2 548.6,245.8 549.4,245.1 550.2,245.1 550.9,245.9 551.7,247.5 552.5,249.7 553.3,252.5 554,255.7 554.8,259.2 555.6,262.8 556.3,266.5 557.1,270 557.9,273.3 558.7,276.3 559.4,279 560.2,281.3 561,283.3 561.8,285 562.5,286.3 563.3,287.3 564.1,288.1 564.8,288.8 565.6,289.2 566.4,289.6 567.2,289.8 567.9,290 568.7,290.1 569.5,290.2 570.2,290.2 571,290.2 571.8,290.3 572.6,290.3 573.3,290.3 574.1,290.3 574.9,290.3 575.7,290.3 576.4,290.3 577.2,290.3 578,290.3 578.7,290.3 579.5,290.3 580.3,290.3 581.1,290.3 581.8,290.3 582.6,290.3 583.4,290.3 584.2,290.3 584.9,290.3 585.7,290.3 586.5,290.3 587.2,290.3 588,290.3 588.8,290.3 589.6,290.3 590.3,290.3 591.1,290.3 591.9,290.3 592.6,290.3 593.4,290.3 594.2,290.3 595,290.3 595.7,290.3 596.5,290.3 597.3,290.3 598.1,290.3 598.8,290.3 599.6,290.3 600.4,290.3 601.1,290.3 601.9,290.3 602.7,290.3 603.5,290.3 604.2,290.3 605,290.3 605.8,290.3 606.6,290.3 607.3,290.3 608.1,290.3 608.9,290.3 609.6,290.3 610.4,290.3 611.2,290.3 612,290.3 612.7,290.3 613.5,290.3 614.3,290.3 615.1,290.3 615.8,290.3 616.6,290.3 617.4,290.3 618.1,290.3 618.9,290.3 619.7,290.3 620.5,290.3 621.2,290.3 622,290.3 622.8,290.3 623.5,290.3 624.3,290.3 625.1,290.3 625.9,290.3 626.6,290.3 627.4,290.3 628.2,290.3 629,290.3 629.7,290.3 630.5,290.3 631.3,290.3 632,290.3 632.8,290.3 633.6,290.3 634.4,290.3 635.1,290.3 635.9,290.3 636.7,290.3 637.5,290.3 638.2,290.3 639,290.3" fill="none" stroke="#1f6ae0" stroke-width="1.2" stroke-linejoin="round" />
<polyline points="484.5,290.3 485.3,290.3 486,290.3 486.8,290.3 487.6,290.3 488.4,290.3 489.1,290.3 489.9,290.3 490.7,290.3 491.5,290.3 492.2,290.3 493,290.3 493.8,290.3 494.5,290.3 495.3,290.3 496.1,290.3 496.9,290.3 497.6,290.3 498.4,290.3 499.2,290.3 499.9,290.3 500.7,290.3 501.5,290.3 502.3,290.3 503,290.3 503.8,290.3 504.6,290.3 505.4,290.3 506.1,290.3 506.9,290.3 507.7,290.3 508.4,290.3 509.2,290.3 510,290.3 510.8,290.3 511.5,290.3 512.3,290.3 513.1,290.3 513.9,290.3 514.6,290.3 515.4,290.3 516.2,290.3 516.9,290.2 517.7,290.2 518.5,290.1 519.3,289.9 520,289.7 520.8,289.2 521.6,288.6 522.4,287.7 523.1,286.3 523.9,284.5 524.7,282 525.4,278.8 526.2,274.9 527,270.3 527.8,265.1 528.5,259.5 529.3,253.8 530.1,248.2 530.9,243.3 531.6,239.3 532.4,236.5 533.2,235.3 533.9,235.6 534.7,237.3 535.5,240.4 536.3,244.3 537,248.8 537.8,253.4 538.6,257.7 539.3,261.4 540.1,264.3 540.9,266.2 541.7,267 542.4,267 543.2,266.1 544,264.5 544.8,262.6 545.5,260.4 546.3,258.2 547.1,256.2 547.8,254.5 548.6,253.3 549.4,252.8 550.2,252.8 550.9,253.5 551.7,254.8 552.5,256.6 553.3,258.9 554,261.6 554.8,264.5 555.6,267.5 556.3,270.5 557.1,273.5 557.9,276.2 558.7,278.7 559.4,280.9 560.2,282.9 561,284.5 561.8,285.9 562.5,287 563.3,287.8 564.1,288.5 564.8,289 565.6,289.4 566.4,289.7 567.2,289.9 567.9,290 568.7,290.1 569.5,290.2 570.2,290.2 571,290.3 571.8,290.3 572.6,290.3 573.3,290.3 574.1,290.3 574.9,290.3 575.7,290.3 576.4,290.3 577.2,290.3 578,290.3 578.7,290.3 579.5,290.3 580.3,290.3 581.1,290.3 581.8,290.3 582.6,290.3 583.4,290.3 584.2,290.3 584.9,290.3 585.7,290.3 586.5,290.3 587.2,290.3 588,290.3 588.8,290.3 589.6,290.3 590.3,290.3 591.1,290.3 591.9,290.3 592.6,290.3 593.4,290.3 594.2,290.3 595,290.3 595.7,290.3 596.5,290.3 597.3,290.3 598.1,290.3 598.8,290.3 599.6,290.3 600.4,290.3 601.1,290.3 601.9,290.3 602.7,290.3 603.5,290.3 604.2,290.3 605,290.3 605.8,290.3 606.6,290.3 607.3,290.3 608.1,290.3 608.9,290.3 609.6,290.3 610.4,290.3 611.2,290.3 612,290.3 612.7,290.3 613.5,290.3 614.3,290.3 615.1,290.3 615.8,290.3 616.6,290.3 617.4,290.3 618.1,290.3 618.9,290.3 619.7,290.3 620.5,290.3 621.2,290.3 622,290.3 622.8,290.3 623.5,290.3 624.3,290.3 625.1,290.3 625.9,290.3 626.6,290.3 627.4,290.3 628.2,290.3 629,290.3 629.7,290.3 630.5,290.3 631.3,290.3 632,290.3 632.8,290.3 633.6,290.3 634.4,290.3 635.1,290.3 635.9,290.3 636.7,290.3 637.5,290.3 638.2,290.3 639,290.3" fill="none" stroke="#1f6ae0" stroke-width="1.2" stroke-linejoin="round" />
<polyline points="484.5,290.3 485.3,290.3 486,290.3 486.8,290.3 487.6,290.3 488.4,290.3 489.1,290.3 489.9,290.3 490.7,290.3 491.5,290.3 492.2,290.3 493,290.3 493.8,290.3 494.5,290.3 495.3,290.3 496.1,290.3 496.9,290.3 497.6,290.3 498.4,290.3 499.2,290.3 499.9,290.3 500.7,290.3 501.5,290.3 502.3,290.3 503,290.3 503.8,290.3 504.6,290.3 505.4,290.3 506.1,290.3 506.9,290.3 507.7,290.3 508.4,290.3 509.2,290.3 510,290.3 510.8,290.3 511.5,290.3 512.3,290.3 513.1,290.3 513.9,290.3 514.6,290.3 515.4,290.3 516.2,290.3 516.9,290.3 517.7,290.2 518.5,290.1 519.3,290 520,289.8 520.8,289.5 521.6,289 522.4,288.2 523.1,287.1 523.9,285.7 524.7,283.7 525.4,281.2 526.2,278.1 527,274.5 527.8,270.4 528.5,265.9 529.3,261.3 530.1,256.9 530.9,253 531.6,249.8 532.4,247.7 533.2,246.7 533.9,246.9 534.7,248.3 535.5,250.7 536.3,253.8 537,257.4 537.8,261.1 538.6,264.5 539.3,267.4 540.1,269.7 540.9,271.2 541.7,271.8 542.4,271.8 543.2,271.1 544,269.9 544.8,268.3 545.5,266.6 546.3,264.8 547.1,263.2 547.8,261.9 548.6,261 549.4,260.5 550.2,260.5 550.9,261.1 551.7,262.1 552.5,263.6 553.3,265.4 554,267.5 554.8,269.8 555.6,272.2 556.3,274.6 557.1,276.9 557.9,279.1 558.7,281.1 559.4,282.9 560.2,284.4 561,285.7 561.8,286.8 562.5,287.7 563.3,288.3 564.1,288.9 564.8,289.3 565.6,289.6 566.4,289.8 567.2,290 567.9,290.1 568.7,290.2 569.5,290.2 570.2,290.2 571,290.3 571.8,290.3 572.6,290.3 573.3,290.3 574.1,290.3 574.9,290.3 575.7,290.3 576.4,290.3 577.2,290.3 578,290.3 578.7,290.3 579.5,290.3 580.3,290.3 581.1,290.3 581.8,290.3 582.6,290.3 583.4,290.3 584.2,290.3 584.9,290.3 585.7,290.3 586.5,290.3 587.2,290.3 588,290.3 588.8,290.3 589.6,290.3 590.3,290.3 591.1,290.3 591.9,290.3 592.6,290.3 593.4,290.3 594.2,290.3 595,290.3 595.7,290.3 596.5,290.3 597.3,290.3 598.1,290.3 598.8,290.3 599.6,290.3 600.4,290.3 601.1,290.3 601.9,290.3 602.7,290.3 603.5,290.3 604.2,290.3 605,290.3 605.8,290.3 606.6,290.3 607.3,290.3 608.1,290.3 608.9,290.3 609.6,290.3 610.4,290.3 611.2,290.3 612,290.3 612.7,290.3 613.5,290.3 614.3,290.3 615.1,290.3 615.8,290.3 616.6,290.3 617.4,290.3 618.1,290.3 618.9,290.3 619.7,290.3 620.5,290.3 621.2,290.3 622,290.3 622.8,290.3 623.5,290.3 624.3,290.3 625.1,290.3 625.9,290.3 626.6,290.3 627.4,290.3 628.2,290.3 629,290.3 629.7,290.3 630.5,290.3 631.3,290.3 632,290.3 632.8,290.3 633.6,290.3 634.4,290.3 635.1,290.3 635.9,290.3 636.7,290.3 637.5,290.3 638.2,290.3 639,290.3" fill="none" stroke="#1f6ae0" stroke-width="1.2" stroke-linejoin="round" />
<polyline points="484.5,290.3 485.3,290.3 486,290.3 486.8,290.3 487.6,290.3 488.4,290.3 489.1,290.3 489.9,290.3 490.7,290.3 491.5,290.3 492.2,290.3 493,290.3 493.8,290.3 494.5,290.3 495.3,290.3 496.1,290.3 496.9,290.3 497.6,290.3 498.4,290.3 499.2,290.3 499.9,290.3 500.7,290.3 501.5,290.3 502.3,290.3 503,290.3 503.8,290.3 504.6,290.3 505.4,290.3 506.1,290.3 506.9,290.3 507.7,290.3 508.4,290.3 509.2,290.3 510,290.3 510.8,290.3 511.5,290.3 512.3,290.3 513.1,290.3 513.9,290.3 514.6,290.3 515.4,290.3 516.2,290.3 516.9,290.3 517.7,290.2 518.5,290.2 519.3,290.1 520,289.9 520.8,289.7 521.6,289.3 522.4,288.8 523.1,288 523.9,286.9 524.7,285.5 525.4,283.7 526.2,281.4 527,278.8 527.8,275.8 528.5,272.5 529.3,269.2 530.1,266 530.9,263.2 531.6,260.8 532.4,259.3 533.2,258.5 533.9,258.7 534.7,259.7 535.5,261.5 536.3,263.8 537,266.4 537.8,269 538.6,271.5 539.3,273.6 540.1,275.3 540.9,276.4 541.7,276.9 542.4,276.8 543.2,276.3 544,275.4 544.8,274.3 545.5,273 546.3,271.8 547.1,270.6 547.8,269.7 548.6,269 549.4,268.6 550.2,268.6 550.9,269 551.7,269.8 552.5,270.9 553.3,272.2 554,273.7 554.8,275.4 555.6,277.2 556.3,278.9 557.1,280.6 557.9,282.2 558.7,283.6 559.4,284.9 560.2,286 561,287 561.8,287.7 562.5,288.4 563.3,288.9 564.1,289.3 564.8,289.6 565.6,289.8 566.4,289.9 567.2,290.1 567.9,290.1 568.7,290.2 569.5,290.2 570.2,290.3 571,290.3 571.8,290.3 572.6,290.3 573.3,290.3 574.1,290.3 574.9,290.3 575.7,290.3 576.4,290.3 577.2,290.3 578,290.3 578.7,290.3 579.5,290.3 580.3,290.3 581.1,290.3 581.8,290.3 582.6,290.3 583.4,290.3 584.2,290.3 584.9,290.3 585.7,290.3 586.5,290.3 587.2,290.3 588,290.3 588.8,290.3 589.6,290.3 590.3,290.3 591.1,290.3 591.9,290.3 592.6,290.3 593.4,290.3 594.2,290.3 595,290.3 595.7,290.3 596.5,290.3 597.3,290.3 598.1,290.3 598.8,290.3 599.6,290.3 600.4,290.3 601.1,290.3 601.9,290.3 602.7,290.3 603.5,290.3 604.2,290.3 605,290.3 605.8,290.3 606.6,290.3 607.3,290.3 608.1,290.3 608.9,290.3 609.6,290.3 610.4,290.3 611.2,290.3 612,290.3 612.7,290.3 613.5,290.3 614.3,290.3 615.1,290.3 615.8,290.3 616.6,290.3 617.4,290.3 618.1,290.3 618.9,290.3 619.7,290.3 620.5,290.3 621.2,290.3 622,290.3 622.8,290.3 623.5,290.3 624.3,290.3 625.1,290.3 625.9,290.3 626.6,290.3 627.4,290.3 628.2,290.3 629,290.3 629.7,290.3 630.5,290.3 631.3,290.3 632,290.3 632.8,290.3 633.6,290.3 634.4,290.3 635.1,290.3 635.9,290.3 636.7,290.3 637.5,290.3 638.2,290.3 639,290.3" fill="none" stroke="#1f6ae0" stroke-width="1.2" stroke-linejoin="round" />
<polyline points="484.5,290.3 485.3,290.3 486,290.3 486.8,290.3 487.6,290.3 488.4,290.3 489.1,290.3 489.9,290.3 490.7,290.3 491.5,290.3 492.2,290.3 493,290.3 493.8,290.3 494.5,290.3 495.3,290.3 496.1,290.3 496.9,290.3 497.6,290.3 498.4,290.3 499.2,290.3 499.9,290.3 500.7,290.3 501.5,290.3 502.3,290.3 503,290.3 503.8,290.3 504.6,290.3 505.4,290.3 506.1,290.3 506.9,290.3 507.7,290.3 508.4,290.3 509.2,290.3 510,290.3 510.8,290.3 511.5,290.3 512.3,290.3 513.1,290.3 513.9,290.3 514.6,290.3 515.4,290.3 516.2,290.3 516.9,290.3 517.7,290.3 518.5,290.2 519.3,290.2 520,290.1 520.8,289.9 521.6,289.7 522.4,289.3 523.1,288.9 523.9,288.2 524.7,287.3 525.4,286.2 526.2,284.8 527,283.1 527.8,281.2 528.5,279.2 529.3,277.1 530.1,275.1 530.9,273.3 531.6,271.9 532.4,270.9 533.2,270.4 533.9,270.5 534.7,271.2 535.5,272.3 536.3,273.7 537,275.3 537.8,277 538.6,278.5 539.3,279.9 540.1,280.9 540.9,281.6 541.7,281.9 542.4,281.9 543.2,281.5 544,281 544.8,280.3 545.5,279.5 546.3,278.7 547.1,278 547.8,277.4 548.6,277 549.4,276.7 550.2,276.8 550.9,277 551.7,277.5 552.5,278.1 553.3,279 554,279.9 554.8,281 555.6,282.1 556.3,283.2 557.1,284.2 557.9,285.2 558.7,286.1 559.4,286.9 560.2,287.6 561,288.2 561.8,288.7 562.5,289.1 563.3,289.4 564.1,289.7 564.8,289.8 565.6,290 566.4,290.1 567.2,290.1 567.9,290.2 568.7,290.2 569.5,290.3 570.2,290.3 571,290.3 571.8,290.3 572.6,290.3 573.3,290.3 574.1,290.3 574.9,290.3 575.7,290.3 576.4,290.3 577.2,290.3 578,290.3 578.7,290.3 579.5,290.3 580.3,290.3 581.1,290.3 581.8,290.3 582.6,290.3 583.4,290.3 584.2,290.3 584.9,290.3 585.7,290.3 586.5,290.3 587.2,290.3 588,290.3 588.8,290.3 589.6,290.3 590.3,290.3 591.1,290.3 591.9,290.3 592.6,290.3 593.4,290.3 594.2,290.3 595,290.3 595.7,290.3 596.5,290.3 597.3,290.3 598.1,290.3 598.8,290.3 599.6,290.3 600.4,290.3 601.1,290.3 601.9,290.3 602.7,290.3 603.5,290.3 604.2,290.3 605,290.3 605.8,290.3 606.6,290.3 607.3,290.3 608.1,290.3 608.9,290.3 609.6,290.3 610.4,290.3 611.2,290.3 612,290.3 612.7,290.3 613.5,290.3 614.3,290.3 615.1,290.3 615.8,290.3 616.6,290.3 617.4,290.3 618.1,290.3 618.9,290.3 619.7,290.3 620.5,290.3 621.2,290.3 622,290.3 622.8,290.3 623.5,290.3 624.3,290.3 625.1,290.3 625.9,290.3 626.6,290.3 627.4,290.3 628.2,290.3 629,290.3 629.7,290.3 630.5,290.3 631.3,290.3 632,290.3 632.8,290.3 633.6,290.3 634.4,290.3 635.1,290.3 635.9,290.3 636.7,290.3 637.5,290.3 638.2,290.3 639,290.3" fill="none" stroke="#1f6ae0" stroke-width="1.2" stroke-linejoin="round" />
<polyline points="484.5,290.3 485.3,290.3 486,290.3 486.8,290.3 487.6,290.3 488.4,290.3 489.1,290.3 489.9,290.3 490.7,290.3 491.5,290.3 492.2,290.3 493,290.3 493.8,290.3 494.5,290.3 495.3,290.3 496.1,290.3 496.9,290.3 497.6,290.3 498.4,290.3 499.2,290.3 499.9,290.3 500.7,290.3 501.5,290.3 502.3,290.3 503,290.3 503.8,290.3 504.6,290.3 505.4,290.3 506.1,290.3 506.9,290.3 507.7,290.3 508.4,290.3 509.2,290.3 510,290.3 510.8,290.3 511.5,290.3 512.3,290.3 513.1,290.3 513.9,290.3 514.6,290.3 515.4,290.3 516.2,290.3 516.9,290.3 517.7,290.3 518.5,290.3 519.3,290.2 520,290.2 520.8,290.1 521.6,289.9 522.4,289.7 523.1,289.4 523.9,289 524.7,288.4 525.4,287.7 526.2,286.9 527,285.8 527.8,284.7 528.5,283.4 529.3,282.1 530.1,280.9 530.9,279.8 531.6,278.9 532.4,278.3 533.2,278 533.9,278.1 534.7,278.5 535.5,279.2 536.3,280 537,281 537.8,282.1 538.6,283 539.3,283.9 540.1,284.5 540.9,284.9 541.7,285.1 542.4,285.1 543.2,284.9 544,284.5 544.8,284.1 545.5,283.6 546.3,283.1 547.1,282.7 547.8,282.3 548.6,282.1 549.4,281.9 550.2,281.9 550.9,282.1 551.7,282.4 552.5,282.8 553.3,283.3 554,283.9 554.8,284.5 555.6,285.2 556.3,285.9 557.1,286.5 557.9,287.2 558.7,287.7 559.4,288.2 560.2,288.6 561,289 561.8,289.3 562.5,289.6 563.3,289.7 564.1,289.9 564.8,290 565.6,290.1 566.4,290.2 567.2,290.2 567.9,290.2 568.7,290.3 569.5,290.3 570.2,290.3 571,290.3 571.8,290.3 572.6,290.3 573.3,290.3 574.1,290.3 574.9,290.3 575.7,290.3 576.4,290.3 577.2,290.3 578,290.3 578.7,290.3 579.5,290.3 580.3,290.3 581.1,290.3 581.8,290.3 582.6,290.3 583.4,290.3 584.2,290.3 584.9,290.3 585.7,290.3 586.5,290.3 587.2,290.3 588,290.3 588.8,290.3 589.6,290.3 590.3,290.3 591.1,290.3 591.9,290.3 592.6,290.3 593.4,290.3 594.2,290.3 595,290.3 595.7,290.3 596.5,290.3 597.3,290.3 598.1,290.3 598.8,290.3 599.6,290.3 600.4,290.3 601.1,290.3 601.9,290.3 602.7,290.3 603.5,290.3 604.2,290.3 605,290.3 605.8,290.3 606.6,290.3 607.3,290.3 608.1,290.3 608.9,290.3 609.6,290.3 610.4,290.3 611.2,290.3 612,290.3 612.7,290.3 613.5,290.3 614.3,290.3 615.1,290.3 615.8,290.3 616.6,290.3 617.4,290.3 618.1,290.3 618.9,290.3 619.7,290.3 620.5,290.3 621.2,290.3 622,290.3 622.8,290.3 623.5,290.3 624.3,290.3 625.1,290.3 625.9,290.3 626.6,290.3 627.4,290.3 628.2,290.3 629,290.3 629.7,290.3 630.5,290.3 631.3,290.3 632,290.3 632.8,290.3 633.6,290.3 634.4,290.3 635.1,290.3 635.9,290.3 636.7,290.3 637.5,290.3 638.2,290.3 639,290.3" fill="none" stroke="#1f6ae0" stroke-width="1.2" stroke-linejoin="round" />
<polyline points="484.5,290.3 485.3,290.3 486,290.3 486.8,290.3 487.6,290.3 488.4,290.3 489.1,290.3 489.9,290.3 490.7,290.3 491.5,290.3 492.2,290.3 493,290.3 493.8,290.3 494.5,290.3 495.3,290.3 496.1,290.3 496.9,290.3 497.6,290.3 498.4,290.3 499.2,290.3 499.9,290.3 500.7,290.3 501.5,290.3 502.3,290.3 503,290.3 503.8,290.3 504.6,290.3 505.4,290.3 506.1,290.3 506.9,290.3 507.7,290.3 508.4,290.3 509.2,290.3 510,290.3 510.8,290.3 511.5,290.3 512.3,290.3 513.1,290.3 513.9,290.3 514.6,290.3 515.4,290.3 516.2,290.3 516.9,290.3 517.7,290.3 518.5,290.3 519.3,290.3 520,290.2 520.8,290.2 521.6,290.1 522.4,290 523.1,289.8 523.9,289.6 524.7,289.3 525.4,288.9 526.2,288.4 527,287.8 527.8,287.2 528.5,286.4 529.3,285.7 530.1,285 530.9,284.4 531.6,283.9 532.4,283.6 533.2,283.4 533.9,283.4 534.7,283.7 535.5,284 536.3,284.5 537,285.1 537.8,285.7 538.6,286.2 539.3,286.7 540.1,287 540.9,287.3 541.7,287.4 542.4,287.4 543.2,287.3 544,287.1 544.8,286.8 545.5,286.6 546.3,286.3 547.1,286 547.8,285.8 548.6,285.7 549.4,285.6 550.2,285.6 550.9,285.7 551.7,285.8 552.5,286.1 553.3,286.4 554,286.7 554.8,287.1 555.6,287.4 556.3,287.8 557.1,288.2 557.9,288.5 558.7,288.8 559.4,289.1 560.2,289.4 561,289.6 561.8,289.7 562.5,289.9 563.3,290 564.1,290.1 564.8,290.1 565.6,290.2 566.4,290.2 567.2,290.2 567.9,290.3 568.7,290.3 569.5,290.3 570.2,290.3 571,290.3 571.8,290.3 572.6,290.3 573.3,290.3 574.1,290.3 574.9,290.3 575.7,290.3 576.4,290.3 577.2,290.3 578,290.3 578.7,290.3 579.5,290.3 580.3,290.3 581.1,290.3 581.8,290.3 582.6,290.3 583.4,290.3 584.2,290.3 584.9,290.3 585.7,290.3 586.5,290.3 587.2,290.3 588,290.3 588.8,290.3 589.6,290.3 590.3,290.3 591.1,290.3 591.9,290.3 592.6,290.3 593.4,290.3 594.2,290.3 595,290.3 595.7,290.3 596.5,290.3 597.3,290.3 598.1,290.3 598.8,290.3 599.6,290.3 600.4,290.3 601.1,290.3 601.9,290.3 602.7,290.3 603.5,290.3 604.2,290.3 605,290.3 605.8,290.3 606.6,290.3 607.3,290.3 608.1,290.3 608.9,290.3 609.6,290.3 610.4,290.3 611.2,290.3 612,290.3 612.7,290.3 613.5,290.3 614.3,290.3 615.1,290.3 615.8,290.3 616.6,290.3 617.4,290.3 618.1,290.3 618.9,290.3 619.7,290.3 620.5,290.3 621.2,290.3 622,290.3 622.8,290.3 623.5,290.3 624.3,290.3 625.1,290.3 625.9,290.3 626.6,290.3 627.4,290.3 628.2,290.3 629,290.3 629.7,290.3 630.5,290.3 631.3,290.3 632,290.3 632.8,290.3 633.6,290.3 634.4,290.3 635.1,290.3 635.9,290.3 636.7,290.3 637.5,290.3 638.2,290.3 639,290.3" fill="none" stroke="#1f6ae0" stroke-width="1.2" stroke-linejoin="round" />
<polyline points="484.5,290.3 485.3,290.3 486,290.3 486.8,290.3 487.6,290.3 488.4,290.3 489.1,290.3 489.9,290.3 490.7,290.3 491.5,290.3 492.2,290.3 493,290.3 493.8,290.3 494.5,290.3 495.3,290.3 496.1,290.3 496.9,290.3 497.6,290.3 498.4,290.3 499.2,290.3 499.9,290.3 500.7,290.3 501.5,290.3 502.3,290.3 503,290.3 503.8,290.3 504.6,290.3 505.4,290.3 506.1,290.3 506.9,290.3 507.7,290.3 508.4,290.3 509.2,290.3 510,290.3 510.8,290.3 511.5,290.3 512.3,290.3 513.1,290.3 513.9,290.3 514.6,290.3 515.4,290.3 516.2,290.3 516.9,290.3 517.7,290.3 518.5,290.3 519.3,290.3 520,290.3 520.8,290.2 521.6,290.2 522.4,290.1 523.1,290 523.9,289.9 524.7,289.7 525.4,289.5 526.2,289.3 527,289 527.8,288.6 528.5,288.2 529.3,287.8 530.1,287.5 530.9,287.1 531.6,286.9 532.4,286.7 533.2,286.6 533.9,286.6 534.7,286.7 535.5,286.9 536.3,287.2 537,287.5 537.8,287.8 538.6,288.1 539.3,288.4 540.1,288.6 540.9,288.7 541.7,288.7 542.4,288.7 543.2,288.7 544,288.6 544.8,288.4 545.5,288.3 546.3,288.1 547.1,288 547.8,287.9 548.6,287.8 549.4,287.8 550.2,287.8 550.9,287.8 551.7,287.9 552.5,288 553.3,288.2 554,288.4 554.8,288.6 555.6,288.8 556.3,289 557.1,289.2 557.9,289.4 558.7,289.5 559.4,289.7 560.2,289.8 561,289.9 561.8,290 562.5,290.1 563.3,290.1 564.1,290.2 564.8,290.2 565.6,290.2 566.4,290.3 567.2,290.3 567.9,290.3 568.7,290.3 569.5,290.3 570.2,290.3 571,290.3 571.8,290.3 572.6,290.3 573.3,290.3 574.1,290.3 574.9,290.3 575.7,290.3 576.4,290.3 577.2,290.3 578,290.3 578.7,290.3 579.5,290.3 580.3,290.3 581.1,290.3 581.8,290.3 582.6,290.3 583.4,290.3 584.2,290.3 584.9,290.3 585.7,290.3 586.5,290.3 587.2,290.3 588,290.3 588.8,290.3 589.6,290.3 590.3,290.3 591.1,290.3 591.9,290.3 592.6,290.3 593.4,290.3 594.2,290.3 595,290.3 595.7,290.3 596.5,290.3 597.3,290.3 598.1,290.3 598.8,290.3 599.6,290.3 600.4,290.3 601.1,290.3 601.9,290.3 602.7,290.3 603.5,290.3 604.2,290.3 605,290.3 605.8,290.3 606.6,290.3 607.3,290.3 608.1,290.3 608.9,290.3 609.6,290.3 610.4,290.3 611.2,290.3 612,290.3 612.7,290.3 613.5,290.3 614.3,290.3 615.1,290.3 615.8,290.3 616.6,290.3 617.4,290.3 618.1,290.3 618.9,290.3 619.7,290.3 620.5,290.3 621.2,290.3 622,290.3 622.8,290.3 623.5,290.3 624.3,290.3 625.1,290.3 625.9,290.3 626.6,290.3 627.4,290.3 628.2,290.3 629,290.3 629.7,290.3 630.5,290.3 631.3,290.3 632,290.3 632.8,290.3 633.6,290.3 634.4,290.3 635.1,290.3 635.9,290.3 636.7,290.3 637.5,290.3 638.2,290.3 639,290.3" fill="none" stroke="#1f6ae0" stroke-width="1.2" stroke-linejoin="round" />
<line x1="484.5" y1="290.4" x2="639" y2="290.4" stroke="#1f6ae0" stroke-width="1.4" />
<line x1="507.5" y1="225" x2="507.5" y2="266.8" stroke="#1f6ae0" stroke-width="1.6" />
<path d="M503.7,225.6 L511.3,225.6 L507.5,218 Z" fill="#1f6ae0"/>
<text x="490.8" y="214.3" font-size="15.2" text-anchor="start" fill="#000" font-weight="normal" stroke="#000" stroke-width="0.12" >11 V</text>
<text x="494.6" y="282.3" font-size="15.2" text-anchor="start" fill="#000" font-weight="normal" stroke="#000" stroke-width="0.12" >5 V</text>
<rect x="576.6" y="178.2" width="62.4" height="49.5" fill="#fff" stroke="#000" stroke-width="1.2" />
<line x1="574.6" y1="184.7" x2="576.6" y2="184.7" stroke="#000" stroke-width="1.1" />
<line x1="574.6" y1="195.3" x2="576.6" y2="195.3" stroke="#000" stroke-width="1.1" />
<line x1="574.6" y1="206.5" x2="576.6" y2="206.5" stroke="#000" stroke-width="1.1" />
<line x1="574.6" y1="217.1" x2="576.6" y2="217.1" stroke="#000" stroke-width="1.1" />
<line x1="592.3" y1="227.7" x2="592.3" y2="230.1" stroke="#000" stroke-width="1.1" />
<line x1="607.5" y1="227.7" x2="607.5" y2="229.1" stroke="#000" stroke-width="1.1" />
<line x1="622.7" y1="227.7" x2="622.7" y2="230.1" stroke="#000" stroke-width="1.1" />
<line x1="637.9" y1="227.7" x2="637.9" y2="229.1" stroke="#000" stroke-width="1.1" />
<text x="592.4" y="240.8" font-size="11" text-anchor="middle" fill="#000" font-weight="normal" stroke="#000" stroke-width="0.12" >550</text>
<text x="622.8" y="240.8" font-size="11" text-anchor="middle" fill="#000" font-weight="normal" stroke="#000" stroke-width="0.12" >650</text>
<text x="611.1" y="192.3" font-size="10.5" text-anchor="middle" fill="#000" font-weight="normal" stroke="#000" stroke-width="0.12" >W/O STE</text>
<clipPath id="cpf"><rect x="577.3" y="178.8" width="61.1" height="48.3"/></clipPath>
<g clip-path="url(#cpf)">
<polyline points="577.3,166.8 577.8,174.8 578.3,180.6 578.8,186.2 579.3,188.1 579.8,192.4 580.3,196.4 580.8,199.9 581.3,200.8 581.8,201.6 582.3,203.6 582.8,204.6 583.3,205.4 583.8,208.6 584.3,207.3 584.8,208.5 585.3,211.1 585.8,210.6 586.3,210.2 586.8,209.6 587.3,210.8 587.8,212.2 588.3,211.4 588.8,212.2 589.3,211.2 589.8,211.8 590.3,211.2 590.8,211.9 591.3,212.8 591.8,210.2 592.3,211.6 592.8,212 593.3,211.2 593.8,211.5 594.3,212.6 594.8,213.8 595.3,212.5 595.8,212.3 596.3,210.5 596.8,213.9 597.3,212.1 597.8,212 598.3,211 598.8,212.1 599.3,211.1 599.8,212.2 600.3,212.6 600.8,212.3 601.3,212.5 601.8,211.4 602.3,213.7 602.8,211.7 603.3,210.6 603.8,212.2 604.3,211.6 604.8,211.4 605.3,212.1 605.8,212.7 606.3,211.3 606.8,212.3 607.3,213.9 607.8,213.2 608.3,212.4 608.8,212.7 609.3,212.5 609.8,212.5 610.3,213.3 610.8,212.5 611.3,210.3 611.8,212.7 612.3,211.8 612.8,213.3 613.3,212.1 613.8,212.9 614.3,214.9 614.8,211.8 615.3,211.7 615.8,211.5 616.3,210.6 616.8,211.1 617.3,213.2 617.8,212.3 618.3,211.1 618.8,211.5 619.3,213.6 619.8,212.2 620.3,212.7 620.8,213.3 621.3,214.4 621.8,214.9 622.3,214.1 622.8,213.2 623.3,213.3 623.8,214.9 624.3,214.5 624.8,212.9 625.3,213.7 625.8,213.5 626.3,213.3 626.8,212.8 627.3,212 627.8,212.8 628.3,211.8 628.8,214.5 629.3,213.9 629.8,212.2 630.3,214.8 630.8,214.3 631.3,211.6 631.8,215.2 632.3,214.3 632.8,215.5 633.3,212.4 633.8,214.1 634.3,214 634.8,213.8 635.3,213.8 635.8,214.6 636.3,212.2 636.8,212.5 637.3,212.4 637.8,213.2 638.3,213.2 638.8,214.1" fill="none" stroke="#1f6ae0" stroke-width="1.25" stroke-linejoin="round" />
<polyline points="577.3,180.7 577.8,186.5 578.3,190.7 578.8,194.9 579.3,199.5 579.8,202 580.3,203.4 580.8,204.8 581.3,208.1 581.8,207 582.3,209.2 582.8,210.5 583.3,209.7 583.8,211.3 584.3,209.8 584.8,212.3 585.3,211.7 585.8,210.1 586.3,212.6 586.8,211.2 587.3,213.5 587.8,211.6 588.3,212.3 588.8,212.8 589.3,212.2 589.8,212.9 590.3,212.1 590.8,213.4 591.3,212.8 591.8,213 592.3,210 592.8,214 593.3,212.9 593.8,211.1 594.3,213 594.8,213.4 595.3,214 595.8,211.9 596.3,214.6 596.8,212.8 597.3,215.5 597.8,212.9 598.3,213.7 598.8,212.7 599.3,211.9 599.8,214.2 600.3,214 600.8,214.7 601.3,214 601.8,212.6 602.3,211.5 602.8,212.5 603.3,212.5 603.8,212.4 604.3,213.8 604.8,213.6 605.3,213 605.8,213.4 606.3,213.1 606.8,213.5 607.3,214.1 607.8,214.3 608.3,212.6 608.8,211.8 609.3,214.8 609.8,213.5 610.3,214.5 610.8,211.7 611.3,213.1 611.8,213.5 612.3,212 612.8,213 613.3,214.2 613.8,214.6 614.3,215.2 614.8,212.7 615.3,212.1 615.8,214.1 616.3,214.5 616.8,213.8 617.3,212.3 617.8,214.4 618.3,214.5 618.8,214.2 619.3,213.2 619.8,214 620.3,214.5 620.8,213.2 621.3,211.9 621.8,214.1 622.3,214.3 622.8,213.8 623.3,214.7 623.8,213.2 624.3,213.7 624.8,213.5 625.3,214.4 625.8,215.5 626.3,213.6 626.8,216 627.3,215.5 627.8,214.7 628.3,214.5 628.8,215.8 629.3,213.8 629.8,213.9 630.3,212.9 630.8,214.5 631.3,215.4 631.8,214.6 632.3,214.5 632.8,213.9 633.3,214.3 633.8,212.7 634.3,215.2 634.8,213.7 635.3,213 635.8,213.4 636.3,213.3 636.8,215.1 637.3,215.3 637.8,212.8 638.3,215.2 638.8,215.2" fill="none" stroke="#1f6ae0" stroke-width="1.25" stroke-linejoin="round" />
<polyline points="577.3,198.9 577.8,200.5 578.3,203.4 578.8,205.2 579.3,207.7 579.8,208.1 580.3,207.2 580.8,210.4 581.3,209.1 581.8,212.3 582.3,210.4 582.8,211.4 583.3,211.5 583.8,212.1 584.3,214.2 584.8,213.9 585.3,213.8 585.8,213.6 586.3,211.7 586.8,212.9 587.3,212.9 587.8,212.5 588.3,214.1 588.8,212.8 589.3,212.9 589.8,212.6 590.3,211.5 590.8,214.4 591.3,215.2 591.8,214 592.3,212.8 592.8,210.9 593.3,214 593.8,215.2 594.3,214.2 594.8,214.9 595.3,215.5 595.8,215.1 596.3,213.4 596.8,215.1 597.3,214.8 597.8,212.3 598.3,213.5 598.8,212.4 599.3,213.9 599.8,214.6 600.3,212.9 600.8,211.8 601.3,215.4 601.8,214.4 602.3,215.6 602.8,212.6 603.3,215.2 603.8,216.3 604.3,216.3 604.8,213.9 605.3,214.4 605.8,213.9 606.3,215.2 606.8,215.3 607.3,214.2 607.8,212.7 608.3,215 608.8,213.7 609.3,214.9 609.8,214.5 610.3,216 610.8,215.4 611.3,213.7 611.8,214.6 612.3,216.2 612.8,213.7 613.3,214.7 613.8,215.6 614.3,215.6 614.8,214.9 615.3,212.9 615.8,213 616.3,214.6 616.8,214.8 617.3,217.1 617.8,213.4 618.3,215.6 618.8,215.2 619.3,212.6 619.8,213.5 620.3,214.6 620.8,213.9 621.3,214.3 621.8,214.9 622.3,213.6 622.8,215 623.3,213.8 623.8,213.9 624.3,215.1 624.8,213.9 625.3,214.8 625.8,216.2 626.3,214.6 626.8,214.4 627.3,215.3 627.8,214.2 628.3,215.7 628.8,213.2 629.3,215.3 629.8,214 630.3,213.7 630.8,216.5 631.3,213.7 631.8,216.5 632.3,215.4 632.8,216.2 633.3,213.6 633.8,216 634.3,216.3 634.8,214.6 635.3,214.6 635.8,217.4 636.3,214.9 636.8,214.3 637.3,214.1 637.8,215.2 638.3,215.1 638.8,215" fill="none" stroke="#1f6ae0" stroke-width="1.25" stroke-linejoin="round" />
<polyline points="577.3,208.3 577.8,207.5 578.3,209.6 578.8,211.6 579.3,209.8 579.8,212.6 580.3,214 580.8,211 581.3,211.7 581.8,212 582.3,211.4 582.8,214.1 583.3,211.8 583.8,214.5 584.3,215.6 584.8,212.4 585.3,213.9 585.8,212.2 586.3,215.2 586.8,213.6 587.3,214.1 587.8,214.5 588.3,215.1 588.8,214.1 589.3,214.5 589.8,214 590.3,214.7 590.8,213.3 591.3,214.7 591.8,212.5 592.3,214.1 592.8,216.7 593.3,214.7 593.8,213.3 594.3,214.9 594.8,213.6 595.3,212.9 595.8,213.9 596.3,215.5 596.8,215.1 597.3,214.6 597.8,213.7 598.3,213.6 598.8,216.2 599.3,215 599.8,213.7 600.3,212.5 600.8,213.3 601.3,217.4 601.8,213.5 602.3,214.7 602.8,215 603.3,214.6 603.8,214.5 604.3,213.3 604.8,213.7 605.3,216.7 605.8,214 606.3,215.8 606.8,213 607.3,214.6 607.8,215.1 608.3,216 608.8,213.7 609.3,215.5 609.8,215.3 610.3,214.1 610.8,215.4 611.3,213.9 611.8,214.1 612.3,214.9 612.8,212 613.3,214.8 613.8,213.9 614.3,213.4 614.8,214.5 615.3,215.8 615.8,214.6 616.3,216.4 616.8,213.7 617.3,213.6 617.8,216.7 618.3,215.5 618.8,216.1 619.3,214.1 619.8,215.9 620.3,215.3 620.8,215.8 621.3,215.1 621.8,216.4 622.3,214.4 622.8,214.1 623.3,213.5 623.8,216.4 624.3,214.3 624.8,214 625.3,214.1 625.8,214.7 626.3,213.8 626.8,214.8 627.3,214.5 627.8,214.6 628.3,214.1 628.8,215.2 629.3,214.7 629.8,215.3 630.3,215.5 630.8,215.6 631.3,212.9 631.8,214.6 632.3,214.4 632.8,216.1 633.3,213.5 633.8,214.5 634.3,214.9 634.8,214.9 635.3,216.4 635.8,214.8 636.3,216.3 636.8,213.7 637.3,213.4 637.8,216.6 638.3,215.8 638.8,215.9" fill="none" stroke="#1f6ae0" stroke-width="1.25" stroke-linejoin="round" />
<polyline points="577.3,210.3 577.8,211.6 578.3,210.5 578.8,213.5 579.3,212.4 579.8,214.4 580.3,213.8 580.8,211.8 581.3,212.8 581.8,215.6 582.3,214.4 582.8,214.2 583.3,215 583.8,214.4 584.3,214.4 584.8,215.1 585.3,215.2 585.8,216.7 586.3,215.2 586.8,217.2 587.3,217.1 587.8,217.1 588.3,216.4 588.8,215.4 589.3,215.4 589.8,215.1 590.3,214.5 590.8,215.2 591.3,214.6 591.8,217.1 592.3,215.9 592.8,214.8 593.3,213.3 593.8,215.3 594.3,214.9 594.8,214.2 595.3,214.1 595.8,212.9 596.3,216 596.8,215.3 597.3,218.2 597.8,215.3 598.3,215.2 598.8,216.9 599.3,215.5 599.8,215.6 600.3,215 600.8,214.8 601.3,217 601.8,216.5 602.3,217.3 602.8,215.1 603.3,215.5 603.8,214.5 604.3,216.5 604.8,213.9 605.3,216.1 605.8,216.6 606.3,217 606.8,214.5 607.3,216.6 607.8,214.7 608.3,214.7 608.8,214.1 609.3,216.7 609.8,217.3 610.3,214.9 610.8,214.7 611.3,215.1 611.8,218.2 612.3,216.6 612.8,214.9 613.3,213.6 613.8,214.8 614.3,216.8 614.8,217.6 615.3,215.3 615.8,214.8 616.3,215 616.8,213.5 617.3,216.6 617.8,214.4 618.3,216.7 618.8,213.7 619.3,214.2 619.8,215.9 620.3,214.8 620.8,216.5 621.3,215.6 621.8,214.3 622.3,216.3 622.8,216.5 623.3,213.6 623.8,217.6 624.3,216.2 624.8,216.5 625.3,213.6 625.8,214.9 626.3,215.3 626.8,216.8 627.3,214.1 627.8,214.7 628.3,213.5 628.8,215.4 629.3,216.1 629.8,213.9 630.3,215.1 630.8,216.3 631.3,217.4 631.8,216.4 632.3,215.4 632.8,214.5 633.3,214.7 633.8,215 634.3,215.9 634.8,215.7 635.3,217.6 635.8,216.1 636.3,214.6 636.8,217.4 637.3,216.8 637.8,215.9 638.3,215 638.8,213.8" fill="none" stroke="#1f6ae0" stroke-width="1.25" stroke-linejoin="round" />
<polyline points="577.3,210.9 577.8,213.7 578.3,212.5 578.8,212.4 579.3,214.4 579.8,214.8 580.3,215.5 580.8,215.7 581.3,216.7 581.8,214.4 582.3,216.5 582.8,214.5 583.3,216.4 583.8,215.9 584.3,216 584.8,216.8 585.3,215.8 585.8,217.1 586.3,216.8 586.8,216.1 587.3,215.3 587.8,215.1 588.3,215.4 588.8,215.7 589.3,215.9 589.8,219.2 590.3,216.7 590.8,216.8 591.3,215.1 591.8,215.2 592.3,215.6 592.8,216.2 593.3,214.9 593.8,217.7 594.3,215.4 594.8,217.2 595.3,213.5 595.8,216 596.3,216.3 596.8,216.2 597.3,216.6 597.8,216.3 598.3,216.2 598.8,214 599.3,215.2 599.8,213.5 600.3,216.7 600.8,216.3 601.3,215.8 601.8,215.1 602.3,215.4 602.8,218 603.3,217.9 603.8,215.9 604.3,217.4 604.8,214.3 605.3,213.9 605.8,215.5 606.3,215.1 606.8,215.4 607.3,216.2 607.8,219.3 608.3,215.3 608.8,216.1 609.3,216.3 609.8,216 610.3,217 610.8,217.9 611.3,214.7 611.8,216.2 612.3,215.7 612.8,216.4 613.3,214.3 613.8,214.1 614.3,213.5 614.8,216.6 615.3,216.2 615.8,216.1 616.3,213.4 616.8,215.6 617.3,215.2 617.8,214.5 618.3,215 618.8,216.8 619.3,216.6 619.8,216 620.3,216.6 620.8,215.3 621.3,216.1 621.8,216 622.3,216.6 622.8,215.9 623.3,215.8 623.8,215.9 624.3,215.3 624.8,218.4 625.3,216.6 625.8,216.5 626.3,218.5 626.8,217.5 627.3,214.3 627.8,216.8 628.3,216.9 628.8,218 629.3,217.4 629.8,216.8 630.3,214.7 630.8,215.1 631.3,216.3 631.8,216.5 632.3,214.9 632.8,215.6 633.3,215.6 633.8,216.1 634.3,216.4 634.8,215.7 635.3,214.7 635.8,217.3 636.3,217.7 636.8,215.9 637.3,217.1 637.8,216.5 638.3,216.7 638.8,216.5" fill="none" stroke="#1f6ae0" stroke-width="1.25" stroke-linejoin="round" />
<polyline points="577.3,212.8 577.8,214.8 578.3,215.7 578.8,214 579.3,217.4 579.8,217.8 580.3,217.7 580.8,218 581.3,216.8 581.8,215.7 582.3,215.5 582.8,215.4 583.3,216.5 583.8,216.3 584.3,217.1 584.8,214.3 585.3,219 585.8,219 586.3,216.5 586.8,217.3 587.3,217.1 587.8,216.9 588.3,216.3 588.8,216.4 589.3,215.7 589.8,216.8 590.3,216.6 590.8,216.9 591.3,215.7 591.8,216.6 592.3,216.6 592.8,217.2 593.3,215.4 593.8,217 594.3,217.7 594.8,217.2 595.3,216.2 595.8,216.1 596.3,216.3 596.8,217.4 597.3,218.3 597.8,216.4 598.3,215.9 598.8,217 599.3,216.8 599.8,215.6 600.3,215.8 600.8,216.5 601.3,217.3 601.8,215.3 602.3,215.5 602.8,217.1 603.3,215.3 603.8,216.7 604.3,217 604.8,216.5 605.3,215.5 605.8,216.5 606.3,216.2 606.8,217 607.3,215.7 607.8,217.8 608.3,214.8 608.8,216.4 609.3,216.6 609.8,217.6 610.3,215.9 610.8,217.2 611.3,216 611.8,217.4 612.3,218.5 612.8,216.2 613.3,217.1 613.8,215.6 614.3,217.7 614.8,217.9 615.3,216.6 615.8,215.4 616.3,217 616.8,217.8 617.3,217.8 617.8,217.5 618.3,214.6 618.8,215.9 619.3,218.1 619.8,215.3 620.3,217.8 620.8,218.6 621.3,217.4 621.8,217.8 622.3,216.2 622.8,215.3 623.3,216.5 623.8,216.4 624.3,216.5 624.8,217.4 625.3,216.4 625.8,216.8 626.3,217.1 626.8,216.6 627.3,218.6 627.8,217.1 628.3,216.7 628.8,216.4 629.3,215.9 629.8,218.1 630.3,216.8 630.8,215.4 631.3,216 631.8,216.5 632.3,216.1 632.8,217.8 633.3,215.3 633.8,217.1 634.3,216.8 634.8,215.3 635.3,216.7 635.8,216.5 636.3,217.1 636.8,216.1 637.3,216.9 637.8,214.8 638.3,215.4 638.8,217.4" fill="none" stroke="#1f6ae0" stroke-width="1.25" stroke-linejoin="round" />
</g>
<rect x="46.3" y="347.6" width="155.9" height="124.5" fill="none" stroke="#000" stroke-width="1.5" />
<line x1="40.3" y1="472.1" x2="46.3" y2="472.1" stroke="#000" stroke-width="1.3" />
<text x="38.7" y="476.6" font-size="12.6" text-anchor="end" fill="#000" font-weight="normal" stroke="#000" stroke-width="0.12" >0.00</text>
<line x1="43.3" y1="455.7" x2="46.3" y2="455.7" stroke="#000" stroke-width="1.3" />
<line x1="40.3" y1="439.3" x2="46.3" y2="439.3" stroke="#000" stroke-width="1.3" />
<text x="38.7" y="443.8" font-size="12.6" text-anchor="end" fill="#000" font-weight="normal" stroke="#000" stroke-width="0.12" >0.05</text>
<line x1="43.3" y1="423" x2="46.3" y2="423" stroke="#000" stroke-width="1.3" />
<line x1="40.3" y1="406.6" x2="46.3" y2="406.6" stroke="#000" stroke-width="1.3" />
<text x="38.7" y="411.1" font-size="12.6" text-anchor="end" fill="#000" font-weight="normal" stroke="#000" stroke-width="0.12" >0.10</text>
<line x1="43.3" y1="390.2" x2="46.3" y2="390.2" stroke="#000" stroke-width="1.3" />
<line x1="40.3" y1="373.8" x2="46.3" y2="373.8" stroke="#000" stroke-width="1.3" />
<text x="38.7" y="378.3" font-size="12.6" text-anchor="end" fill="#000" font-weight="normal" stroke="#000" stroke-width="0.12" >0.15</text>
<line x1="43.3" y1="357.4" x2="46.3" y2="357.4" stroke="#000" stroke-width="1.3" />
<line x1="57.9" y1="472.1" x2="57.9" y2="477.3" stroke="#000" stroke-width="1.3" />
<text x="57.9" y="490.2" font-size="14" text-anchor="middle" fill="#000" font-weight="normal" stroke="#000" stroke-width="0.12" >0</text>
<line x1="81.9" y1="472.1" x2="81.9" y2="474.8" stroke="#000" stroke-width="1.3" />
<line x1="105.9" y1="472.1" x2="105.9" y2="477.3" stroke="#000" stroke-width="1.3" />
<text x="105.9" y="490.2" font-size="14" text-anchor="middle" fill="#000" font-weight="normal" stroke="#000" stroke-width="0.12" >400</text>
<line x1="129.9" y1="472.1" x2="129.9" y2="474.8" stroke="#000" stroke-width="1.3" />
<line x1="153.9" y1="472.1" x2="153.9" y2="477.3" stroke="#000" stroke-width="1.3" />
<text x="153.9" y="490.2" font-size="14" text-anchor="middle" fill="#000" font-weight="normal" stroke="#000" stroke-width="0.12" >800</text>
<line x1="177.9" y1="472.1" x2="177.9" y2="474.8" stroke="#000" stroke-width="1.3" />
<line x1="201.9" y1="472.1" x2="201.9" y2="477.3" stroke="#000" stroke-width="1.3" />
<text x="201.9" y="490.2" font-size="14" text-anchor="middle" fill="#000" font-weight="normal" stroke="#000" stroke-width="0.12" >1200</text>
<text x="124.5" y="501.6" font-size="14" text-anchor="middle" fill="#000" font-weight="normal" stroke="#000" stroke-width="0.12" >Luminance (cd m<tspan dy="-5" font-size="9">-2</tspan><tspan dy="5">)</tspan></text>
<text x="0" y="0" font-size="13.4" text-anchor="middle" fill="#000" font-weight="normal" stroke="#000" stroke-width="0.12" transform="translate(12.5,412) rotate(-90)" >CIE x/y</text>
<polyline points="60.3,376.6 66.9,376.6 74,376.6 83.2,376.6 92.8,376.6 101.1,376.6 110,376.6 119.1,376.6 127.4,376.6 135.4,376.6 143.6,376.6 154.5,376.6 170,376.6 186.9,376.6" fill="none" stroke="#ee3841" stroke-width="1.4" stroke-linejoin="round" />
<circle cx="60.3" cy="376.6" r="2.1" fill="#ee3841"/><circle cx="60.1" cy="376.2" r="0.67" fill="#fff" fill-opacity="0.7"/>
<circle cx="66.9" cy="376.6" r="2.1" fill="#ee3841"/><circle cx="66.7" cy="376.2" r="0.67" fill="#fff" fill-opacity="0.7"/>
<circle cx="74" cy="376.6" r="2.1" fill="#ee3841"/><circle cx="73.8" cy="376.2" r="0.67" fill="#fff" fill-opacity="0.7"/>
<circle cx="83.2" cy="376.6" r="2.1" fill="#ee3841"/><circle cx="83" cy="376.2" r="0.67" fill="#fff" fill-opacity="0.7"/>
<circle cx="92.8" cy="376.6" r="2.1" fill="#ee3841"/><circle cx="92.6" cy="376.2" r="0.67" fill="#fff" fill-opacity="0.7"/>
<circle cx="101.1" cy="376.6" r="2.1" fill="#ee3841"/><circle cx="100.9" cy="376.2" r="0.67" fill="#fff" fill-opacity="0.7"/>
<circle cx="110" cy="376.6" r="2.1" fill="#ee3841"/><circle cx="109.8" cy="376.2" r="0.67" fill="#fff" fill-opacity="0.7"/>
<circle cx="119.1" cy="376.6" r="2.1" fill="#ee3841"/><circle cx="118.9" cy="376.2" r="0.67" fill="#fff" fill-opacity="0.7"/>
<circle cx="127.4" cy="376.6" r="2.1" fill="#ee3841"/><circle cx="127.2" cy="376.2" r="0.67" fill="#fff" fill-opacity="0.7"/>
<circle cx="135.4" cy="376.6" r="2.1" fill="#ee3841"/><circle cx="135.2" cy="376.2" r="0.67" fill="#fff" fill-opacity="0.7"/>
<circle cx="143.6" cy="376.6" r="2.1" fill="#ee3841"/><circle cx="143.4" cy="376.2" r="0.67" fill="#fff" fill-opacity="0.7"/>
<circle cx="154.5" cy="376.6" r="2.1" fill="#ee3841"/><circle cx="154.3" cy="376.2" r="0.67" fill="#fff" fill-opacity="0.7"/>
<circle cx="170" cy="376.6" r="2.1" fill="#ee3841"/><circle cx="169.8" cy="376.2" r="0.67" fill="#fff" fill-opacity="0.7"/>
<circle cx="186.9" cy="376.6" r="2.1" fill="#ee3841"/><circle cx="186.7" cy="376.2" r="0.67" fill="#fff" fill-opacity="0.7"/>
<polyline points="60.3,435.1 66.9,435.1 74,435.1 83.2,435.1 92.8,435.1 101.1,435.1 110,435.1 119.1,435.1 127.4,435.1 135.4,435.1 143.6,435.1 154.5,435.1 170,435.1 186.9,435.1" fill="none" stroke="#1f6ae0" stroke-width="1.4" stroke-linejoin="round" />
<circle cx="60.3" cy="435.1" r="2.1" fill="#1f6ae0"/><circle cx="60.1" cy="434.7" r="0.67" fill="#fff" fill-opacity="0.7"/>
<circle cx="66.9" cy="435.1" r="2.1" fill="#1f6ae0"/><circle cx="66.7" cy="434.7" r="0.67" fill="#fff" fill-opacity="0.7"/>
<circle cx="74" cy="435.1" r="2.1" fill="#1f6ae0"/><circle cx="73.8" cy="434.7" r="0.67" fill="#fff" fill-opacity="0.7"/>
<circle cx="83.2" cy="435.1" r="2.1" fill="#1f6ae0"/><circle cx="83" cy="434.7" r="0.67" fill="#fff" fill-opacity="0.7"/>
<circle cx="92.8" cy="435.1" r="2.1" fill="#1f6ae0"/><circle cx="92.6" cy="434.7" r="0.67" fill="#fff" fill-opacity="0.7"/>
<circle cx="101.1" cy="435.1" r="2.1" fill="#1f6ae0"/><circle cx="100.9" cy="434.7" r="0.67" fill="#fff" fill-opacity="0.7"/>
<circle cx="110" cy="435.1" r="2.1" fill="#1f6ae0"/><circle cx="109.8" cy="434.7" r="0.67" fill="#fff" fill-opacity="0.7"/>
<circle cx="119.1" cy="435.1" r="2.1" fill="#1f6ae0"/><circle cx="118.9" cy="434.7" r="0.67" fill="#fff" fill-opacity="0.7"/>
<circle cx="127.4" cy="435.1" r="2.1" fill="#1f6ae0"/><circle cx="127.2" cy="434.7" r="0.67" fill="#fff" fill-opacity="0.7"/>
<circle cx="135.4" cy="435.1" r="2.1" fill="#1f6ae0"/><circle cx="135.2" cy="434.7" r="0.67" fill="#fff" fill-opacity="0.7"/>
<circle cx="143.6" cy="435.1" r="2.1" fill="#1f6ae0"/><circle cx="143.4" cy="434.7" r="0.67" fill="#fff" fill-opacity="0.7"/>
<circle cx="154.5" cy="435.1" r="2.1" fill="#1f6ae0"/><circle cx="154.3" cy="434.7" r="0.67" fill="#fff" fill-opacity="0.7"/>
<circle cx="170" cy="435.1" r="2.1" fill="#1f6ae0"/><circle cx="169.8" cy="434.7" r="0.67" fill="#fff" fill-opacity="0.7"/>
<circle cx="186.9" cy="435.1" r="2.1" fill="#1f6ae0"/><circle cx="186.7" cy="434.7" r="0.67" fill="#fff" fill-opacity="0.7"/>
<line x1="132.2" y1="396.4" x2="159.7" y2="396.4" stroke="#ee3841" stroke-width="1.3" />
<circle cx="146.4" cy="396.4" r="1.9" fill="#ee3841"/><circle cx="146.2" cy="396" r="0.61" fill="#fff" fill-opacity="0.7"/>
<line x1="132.2" y1="420.3" x2="159.7" y2="420.3" stroke="#1f6ae0" stroke-width="1.3" />
<circle cx="146.4" cy="420.3" r="1.9" fill="#1f6ae0"/><circle cx="146.2" cy="419.9" r="0.61" fill="#fff" fill-opacity="0.7"/>
<text x="162.9" y="401.5" font-size="13.4" text-anchor="start" fill="#ee3841" font-weight="normal" stroke="#ee3841" stroke-width="0.12" >CIE-<tspan font-style="italic">x</tspan></text>
<text x="162.9" y="425.4" font-size="13.4" text-anchor="start" fill="#1f6ae0" font-weight="normal" stroke="#1f6ae0" stroke-width="0.12" >CIE-<tspan font-style="italic">y</tspan></text>
<rect x="481.9" y="348" width="156.4" height="124.8" fill="none" stroke="#000" stroke-width="1.5" />
<line x1="475.9" y1="462.8" x2="481.9" y2="462.8" stroke="#000" stroke-width="1.3" />
<text x="473.6" y="467.8" font-size="14" text-anchor="end" fill="#000" font-weight="normal" stroke="#000" stroke-width="0.12" >0</text>
<line x1="478.9" y1="452.8" x2="481.9" y2="452.8" stroke="#000" stroke-width="1.3" />
<line x1="475.9" y1="442.8" x2="481.9" y2="442.8" stroke="#000" stroke-width="1.3" />
<text x="473.6" y="447.8" font-size="14" text-anchor="end" fill="#000" font-weight="normal" stroke="#000" stroke-width="0.12" >20</text>
<line x1="478.9" y1="432.9" x2="481.9" y2="432.9" stroke="#000" stroke-width="1.3" />
<line x1="475.9" y1="422.9" x2="481.9" y2="422.9" stroke="#000" stroke-width="1.3" />
<text x="473.6" y="427.9" font-size="14" text-anchor="end" fill="#000" font-weight="normal" stroke="#000" stroke-width="0.12" >40</text>
<line x1="478.9" y1="412.9" x2="481.9" y2="412.9" stroke="#000" stroke-width="1.3" />
<line x1="475.9" y1="402.9" x2="481.9" y2="402.9" stroke="#000" stroke-width="1.3" />
<text x="473.6" y="407.9" font-size="14" text-anchor="end" fill="#000" font-weight="normal" stroke="#000" stroke-width="0.12" >60</text>
<line x1="478.9" y1="392.9" x2="481.9" y2="392.9" stroke="#000" stroke-width="1.3" />
<line x1="475.9" y1="383" x2="481.9" y2="383" stroke="#000" stroke-width="1.3" />
<text x="473.6" y="388" font-size="14" text-anchor="end" fill="#000" font-weight="normal" stroke="#000" stroke-width="0.12" >80</text>
<line x1="478.9" y1="373" x2="481.9" y2="373" stroke="#000" stroke-width="1.3" />
<line x1="475.9" y1="363" x2="481.9" y2="363" stroke="#000" stroke-width="1.3" />
<text x="473.6" y="368" font-size="14" text-anchor="end" fill="#000" font-weight="normal" stroke="#000" stroke-width="0.12" >100</text>
<line x1="478.9" y1="353" x2="481.9" y2="353" stroke="#000" stroke-width="1.3" />
<line x1="481.9" y1="472.8" x2="481.9" y2="475.8" stroke="#000" stroke-width="1.3" />
<line x1="498.3" y1="472.8" x2="498.3" y2="478.3" stroke="#000" stroke-width="1.3" />
<text x="498.3" y="490.6" font-size="14" text-anchor="middle" fill="#000" font-weight="normal" stroke="#000" stroke-width="0.12" >0</text>
<line x1="514.7" y1="472.8" x2="514.7" y2="475.8" stroke="#000" stroke-width="1.3" />
<line x1="531" y1="472.8" x2="531" y2="478.3" stroke="#000" stroke-width="1.3" />
<text x="531" y="490.6" font-size="14" text-anchor="middle" fill="#000" font-weight="normal" stroke="#000" stroke-width="0.12" >40</text>
<line x1="547.4" y1="472.8" x2="547.4" y2="475.8" stroke="#000" stroke-width="1.3" />
<line x1="563.7" y1="472.8" x2="563.7" y2="478.3" stroke="#000" stroke-width="1.3" />
<text x="563.7" y="490.6" font-size="14" text-anchor="middle" fill="#000" font-weight="normal" stroke="#000" stroke-width="0.12" >80</text>
<line x1="580.1" y1="472.8" x2="580.1" y2="475.8" stroke="#000" stroke-width="1.3" />
<line x1="596.5" y1="472.8" x2="596.5" y2="478.3" stroke="#000" stroke-width="1.3" />
<text x="596.5" y="490.6" font-size="14" text-anchor="middle" fill="#000" font-weight="normal" stroke="#000" stroke-width="0.12" >120</text>
<line x1="612.8" y1="472.8" x2="612.8" y2="475.8" stroke="#000" stroke-width="1.3" />
<line x1="629.2" y1="472.8" x2="629.2" y2="478.3" stroke="#000" stroke-width="1.3" />
<text x="629.2" y="490.6" font-size="14" text-anchor="middle" fill="#000" font-weight="normal" stroke="#000" stroke-width="0.12" >160</text>
<text x="0" y="0" font-size="14" text-anchor="middle" fill="#000" font-weight="normal" stroke="#000" stroke-width="0.12" transform="translate(560.5,503.8) scale(1.04,1)" >Time (min)</text>
<text x="0" y="0" font-size="14" text-anchor="start" fill="#000" font-weight="normal" stroke="#000" stroke-width="0.12" transform="translate(451.6,476.8) rotate(-90)" >Luminance (cd m<tspan dy="-5" font-size="9">-2</tspan><tspan dy="5">)</tspan></text>
<path d="M481.9,412.9 H512.8 V472.8" fill="none" stroke="#ee3841" stroke-width="1.3" stroke-dasharray="5,3"/>
<path d="M512.8,412.9 H556.3 V472.8" fill="none" stroke="#1f6ae0" stroke-width="1.3" stroke-dasharray="5,3"/>
<polyline points="498.3,363 499.1,369.2 499.9,375.4 500.8,381.5 501.6,387.3 502.4,392.4 503.2,394.8 504,397.1 504.8,399.4 505.7,401.4 506.5,403.5 507.3,405.3 508.1,405.6 508.9,406.3 509.8,408.1 510.6,409.9 511.4,411.8 512.2,413.9 513,415.8 513.8,417.4 514.7,419.1 515.5,420.7 516.3,422.3 517.1,423.9 517.9,425 518.8,426 519.6,427.1 520.4,428.2 521.2,429.2 522,430.3 522.8,431.4 523.7,432.1 524.5,432.8 525.3,433.5 526.1,434.2 526.9,434.9 527.7,435.6 528.6,436.3 529.4,437 530.2,437.7 531,438.3 531.8,438.9 532.7,439.4 533.5,439.9 534.3,440.4 535.1,440.9 535.9,441.4 536.7,441.9 537.6,442.4 538.4,442.9 539.2,443.4 540,443.9 540.8,444.3 541.7,444.6 542.5,445 543.3,445.3 544.1,445.7 544.9,446 545.7,446.4 546.6,446.7 547.4,447.1 548.2,447.4 549,447.8 549.8,448.1 550.7,448.5 551.5,448.8 552.3,449.1 553.1,449.4 553.9,449.7 554.7,450 555.6,450.3 556.4,450.6 557.2,450.8 558,451.1 558.8,451.4 559.6,451.7 560.5,452 561.3,452.3 562.1,452.5 562.9,452.7 563.7,452.9 564.6,453.1 565.4,453.3 566.2,453.5 567,453.7 567.8,453.9 568.6,454.1 569.5,454.3 570.3,454.5 571.1,454.7 571.9,454.8 572.7,455 573.6,455.2 574.4,455.4 575.2,455.6 576,455.8 576.8,455.9 577.6,456.1 578.5,456.2 579.3,456.4 580.1,456.5 580.9,456.6 581.7,456.8 582.6,456.9 583.4,457 584.2,457.2 585,457.3 585.8,457.4 586.6,457.6 587.5,457.7 588.3,457.8 589.1,458 589.9,458.1 590.7,458.2 591.6,458.4 592.4,458.5 593.2,458.6 594,458.7 594.8,458.8 595.6,458.9 596.5,459 597.3,459.1 598.1,459.2 598.9,459.3 599.7,459.4 600.5,459.5 601.4,459.6 602.2,459.7 603,459.8 603.8,459.9 604.6,460 605.5,460.1 606.3,460.2 607.1,460.3 607.9,460.4 608.7,460.5 609.5,460.6 610.4,460.7 611.2,460.7 612,460.8 612.8,460.9 613.6,461 614.5,461.1 615.3,461.1 616.1,461.2 616.9,461.3 617.7,461.4 618.5,461.5 619.4,461.5 620.2,461.6 621,461.7 621.8,461.8 622.6,461.8 623.5,461.9 624.3,462" fill="none" stroke="#ee3841" stroke-width="1.4" stroke-linejoin="round" />
<circle cx="498.3" cy="363" r="1.2" fill="#ee3841"/><circle cx="500.3" cy="378.5" r="1.2" fill="#ee3841"/><circle cx="502.4" cy="392.4" r="1.2" fill="#ee3841"/><circle cx="504.4" cy="398.3" r="1.2" fill="#ee3841"/><circle cx="506.5" cy="403.5" r="1.2" fill="#ee3841"/><circle cx="508.5" cy="405.8" r="1.2" fill="#ee3841"/><circle cx="510.6" cy="409.9" r="1.2" fill="#ee3841"/><circle cx="512.6" cy="414.9" r="1.2" fill="#ee3841"/><circle cx="514.7" cy="419.1" r="1.2" fill="#ee3841"/><circle cx="516" cy="421.7" r="1.2" fill="#ee3841"/><circle cx="517.3" cy="424.1" r="1.2" fill="#ee3841"/><circle cx="518.6" cy="425.8" r="1.2" fill="#ee3841"/><circle cx="519.9" cy="427.5" r="1.2" fill="#ee3841"/><circle cx="521.2" cy="429.2" r="1.2" fill="#ee3841"/><circle cx="522.5" cy="430.9" r="1.2" fill="#ee3841"/><circle cx="523.8" cy="432.2" r="1.2" fill="#ee3841"/><circle cx="525.1" cy="433.3" r="1.2" fill="#ee3841"/><circle cx="526.4" cy="434.4" r="1.2" fill="#ee3841"/><circle cx="527.7" cy="435.6" r="1.2" fill="#ee3841"/><circle cx="529.1" cy="436.7" r="1.2" fill="#ee3841"/><circle cx="530.4" cy="437.8" r="1.2" fill="#ee3841"/><circle cx="531.7" cy="438.8" r="1.2" fill="#ee3841"/><circle cx="533" cy="439.6" r="1.2" fill="#ee3841"/><circle cx="534.3" cy="440.4" r="1.2" fill="#ee3841"/><circle cx="535.6" cy="441.2" r="1.2" fill="#ee3841"/><circle cx="536.9" cy="442" r="1.2" fill="#ee3841"/><circle cx="538.2" cy="442.8" r="1.2" fill="#ee3841"/><circle cx="539.5" cy="443.6" r="1.2" fill="#ee3841"/><circle cx="540.8" cy="444.3" r="1.2" fill="#ee3841"/><circle cx="542.1" cy="444.8" r="1.2" fill="#ee3841"/><circle cx="543.5" cy="445.4" r="1.2" fill="#ee3841"/><circle cx="544.8" cy="445.9" r="1.2" fill="#ee3841"/><circle cx="546.1" cy="446.5" r="1.2" fill="#ee3841"/><circle cx="547.4" cy="447.1" r="1.2" fill="#ee3841"/><circle cx="548.7" cy="447.6" r="1.2" fill="#ee3841"/><circle cx="550" cy="448.2" r="1.2" fill="#ee3841"/><circle cx="551.3" cy="448.8" r="1.2" fill="#ee3841"/><circle cx="552.6" cy="449.2" r="1.2" fill="#ee3841"/><circle cx="553.9" cy="449.7" r="1.2" fill="#ee3841"/><circle cx="555.2" cy="450.2" r="1.2" fill="#ee3841"/><circle cx="556.5" cy="450.6" r="1.2" fill="#ee3841"/><circle cx="557.9" cy="451.1" r="1.2" fill="#ee3841"/><circle cx="559.2" cy="451.5" r="1.2" fill="#ee3841"/><circle cx="560.5" cy="452" r="1.2" fill="#ee3841"/><circle cx="561.8" cy="452.4" r="1.2" fill="#ee3841"/><circle cx="563.1" cy="452.8" r="1.2" fill="#ee3841"/><circle cx="564.4" cy="453.1" r="1.2" fill="#ee3841"/><circle cx="565.7" cy="453.4" r="1.2" fill="#ee3841"/><circle cx="567" cy="453.7" r="1.2" fill="#ee3841"/><circle cx="568.3" cy="454" r="1.2" fill="#ee3841"/><circle cx="569.6" cy="454.3" r="1.2" fill="#ee3841"/><circle cx="570.9" cy="454.6" r="1.2" fill="#ee3841"/><circle cx="572.2" cy="454.9" r="1.2" fill="#ee3841"/><circle cx="573.6" cy="455.2" r="1.2" fill="#ee3841"/><circle cx="574.9" cy="455.5" r="1.2" fill="#ee3841"/><circle cx="576.2" cy="455.8" r="1.2" fill="#ee3841"/><circle cx="577.5" cy="456.1" r="1.2" fill="#ee3841"/><circle cx="578.8" cy="456.3" r="1.2" fill="#ee3841"/><circle cx="580.1" cy="456.5" r="1.2" fill="#ee3841"/><circle cx="581.4" cy="456.7" r="1.2" fill="#ee3841"/><circle cx="582.7" cy="456.9" r="1.2" fill="#ee3841"/><circle cx="584" cy="457.1" r="1.2" fill="#ee3841"/><circle cx="585.3" cy="457.3" r="1.2" fill="#ee3841"/><circle cx="586.6" cy="457.6" r="1.2" fill="#ee3841"/><circle cx="588" cy="457.8" r="1.2" fill="#ee3841"/><circle cx="589.3" cy="458" r="1.2" fill="#ee3841"/><circle cx="590.6" cy="458.2" r="1.2" fill="#ee3841"/><circle cx="591.9" cy="458.4" r="1.2" fill="#ee3841"/><circle cx="593.2" cy="458.6" r="1.2" fill="#ee3841"/><circle cx="594.5" cy="458.8" r="1.2" fill="#ee3841"/><circle cx="595.8" cy="458.9" r="1.2" fill="#ee3841"/><circle cx="597.1" cy="459.1" r="1.2" fill="#ee3841"/><circle cx="598.4" cy="459.2" r="1.2" fill="#ee3841"/><circle cx="599.7" cy="459.4" r="1.2" fill="#ee3841"/><circle cx="601" cy="459.6" r="1.2" fill="#ee3841"/><circle cx="602.3" cy="459.7" r="1.2" fill="#ee3841"/><circle cx="603.7" cy="459.9" r="1.2" fill="#ee3841"/><circle cx="605" cy="460" r="1.2" fill="#ee3841"/><circle cx="606.3" cy="460.2" r="1.2" fill="#ee3841"/><circle cx="607.6" cy="460.4" r="1.2" fill="#ee3841"/><circle cx="608.9" cy="460.5" r="1.2" fill="#ee3841"/><circle cx="610.2" cy="460.6" r="1.2" fill="#ee3841"/><circle cx="611.5" cy="460.8" r="1.2" fill="#ee3841"/><circle cx="612.8" cy="460.9" r="1.2" fill="#ee3841"/><circle cx="614.1" cy="461" r="1.2" fill="#ee3841"/><circle cx="615.4" cy="461.2" r="1.2" fill="#ee3841"/><circle cx="616.7" cy="461.3" r="1.2" fill="#ee3841"/><circle cx="618.1" cy="461.4" r="1.2" fill="#ee3841"/><circle cx="619.4" cy="461.5" r="1.2" fill="#ee3841"/><circle cx="620.7" cy="461.7" r="1.2" fill="#ee3841"/><circle cx="622" cy="461.8" r="1.2" fill="#ee3841"/><circle cx="623.3" cy="461.9" r="1.2" fill="#ee3841"/>
<polyline points="498.3,363 499.5,369 500.3,369 500.6,372 501.4,372 501.7,371 502.7,371 503.5,371 503.8,373 504.6,373 504.8,375 505.7,375 505.9,377 506.7,377 507,380 508,380 509.1,380 510.2,380 511,380 511.2,381 512,381 512.3,382 513.1,382 513.4,383 514.2,383 514.4,384 515.5,384 516.3,384 516.5,386 517.6,386 518.4,386 518.7,387 519.5,387 519.7,388 520.5,388 520.8,389.9 521.6,389.9 521.9,388.9 522.7,388.9 522.9,389.9 523.7,389.9 524,390.9 524.8,390.9 525,392.9 525.9,392.9 526.1,393.9 527.2,393.9 528,393.9 528.2,395.9 529.1,395.9 529.3,396.9 530.1,396.9 530.4,398.9 531.4,398.9 532.5,398.9 533.3,398.9 533.6,399.9 534.6,399.9 535.4,399.9 535.7,398.9 536.5,398.9 536.7,399.9 537.8,399.9 538.6,399.9 538.9,400.9 539.9,400.9 540.8,400.9 541,401.9 541.8,401.9 542.1,402.9 542.9,402.9 543.1,404.9 544.2,404.9 545,404.9 545.3,405.9 546.3,405.9 547.1,405.9 547.4,407.9 548.4,407.9 549.5,407.9 550.3,407.9 550.6,409.9 551.4,409.9 551.6,410.9 552.7,410.9 553.5,410.9 553.8,411.9 554.6,411.9 554.8,410.9 555.6,410.9 555.9,412.9 557,412.9 558,412.9 558.8,412.9 559.1,413.9 559.9,413.9 560.1,412.9 561.2,412.9 562.3,412.9 563.1,412.9 563.3,413.9 564.4,413.9 565.2,413.9 565.5,412.9 566.3,412.9 566.5,413.9 567.3,413.9 567.6,414.9 568.6,414.9 569.7,414.9 570.5,414.9 570.8,415.9 571.6,415.9 571.8,416.9 572.9,416.9 573.7,416.9 574,417.9 575,417.9 576.1,417.9 577.2,417.9 578,417.9 578.2,418.9 579.3,418.9 580.1,418.9 580.3,419.9 581.4,419.9 582.2,419.9 582.5,420.9 583.5,420.9 584.6,420.9 585.4,420.9 585.7,421.9 586.5,421.9 586.7,422.9 587.8,422.9 588.6,422.9 588.9,423.9 589.9,423.9 590.7,423.9 591,424.9 592,424.9 592.9,424.9 593.1,425.9 594.2,425.9 595.2,425.9 596.1,425.9 596.3,427.9 597.4,427.9 598.2,427.9 598.4,428.9 599.2,428.9 599.5,429.9 600.5,429.9 601.4,429.9 601.6,430.9 602.7,430.9 603.5,430.9 603.7,431.9 604.6,431.9 604.8,432.9 605.6,432.9 605.9,431.9 606.7,431.9 606.9,432.9 607.7,432.9 608,433.9 609.1,433.9 610.1,433.9 610.9,433.9 611.2,434.9 612,434.9 612.2,436.9 613.1,436.9 613.3,437.9 614.1,437.9 614.4,436.9 615.2,436.9 615.4,437.9 616.3,437.9 616.5,439.8 617.6,439.8" fill="none" stroke="#1f6ae0" stroke-width="1.9" stroke-linejoin="round" />
<text x="495.2" y="454.2" font-size="13.6" text-anchor="start" fill="#ee3841" font-weight="normal" stroke="#ee3841" stroke-width="0.12" >18 min</text>
<text x="561.8" y="402.8" font-size="13.6" text-anchor="start" fill="#1f6ae0" font-weight="normal" stroke="#1f6ae0" stroke-width="0.12" >72 min</text>
<line x1="556.3" y1="356.8" x2="587.4" y2="356.8" stroke="#ee3841" stroke-width="1.3" />
<circle cx="571.8" cy="356.8" r="1.2" fill="#ee3841"/>
<line x1="556.3" y1="373.6" x2="587.4" y2="373.6" stroke="#1f6ae0" stroke-width="1.3" />
<circle cx="571.8" cy="373.6" r="1.2" fill="#1f6ae0"/>
<text x="591.4" y="361.3" font-size="14" text-anchor="start" fill="#000" font-weight="normal" stroke="#000" stroke-width="0.12" >control</text>
<text x="591.4" y="378.5" font-size="14" text-anchor="start" fill="#000" font-weight="normal" stroke="#000" stroke-width="0.12" >Cs-rich</text>
<line x1="301.7" y1="347.5" x2="301.7" y2="474.8" stroke="#cfcfcf" stroke-width="1.1" />
<line x1="331.6" y1="347.5" x2="331.6" y2="474.8" stroke="#cfcfcf" stroke-width="1.1" />
<line x1="361.5" y1="347.5" x2="361.5" y2="474.8" stroke="#cfcfcf" stroke-width="1.1" />
<line x1="391.4" y1="347.5" x2="391.4" y2="474.8" stroke="#cfcfcf" stroke-width="1.1" />
<line x1="421.3" y1="347.5" x2="421.3" y2="474.8" stroke="#cfcfcf" stroke-width="1.1" />
<line x1="271.8" y1="445.2" x2="431.8" y2="445.2" stroke="#cfcfcf" stroke-width="1.1" />
<line x1="271.8" y1="415.5" x2="431.8" y2="415.5" stroke="#cfcfcf" stroke-width="1.1" />
<line x1="271.8" y1="385.9" x2="431.8" y2="385.9" stroke="#cfcfcf" stroke-width="1.1" />
<line x1="271.8" y1="356.2" x2="431.8" y2="356.2" stroke="#cfcfcf" stroke-width="1.1" />
<clipPath id="cph"><rect x="271.8" y="347.5" width="160.0" height="127.30000000000001"/></clipPath>
<clipPath id="cpl"><polygon points="298.9,299.9 312.9,355.8 326.4,396.1 337.3,423.3 346,440.5 352.8,451.1 357.9,457.2 362.1,461.3 365.4,464.3 368.1,466.6 370.1,468.3 372.8,470.7 374.3,471.8 375,472 375.4,472 375.7,471.9 375.9,471.8 711.2,317.5 690.4,-58.9"/></clipPath>
<g clip-path="url(#cph)"><g clip-path="url(#cpl)"><rect x="271.8" y="346" width="160.0" height="2" fill="url(#r0)" shape-rendering="crispEdges"/><rect x="271.8" y="348" width="160.0" height="2" fill="url(#r1)" shape-rendering="crispEdges"/><rect x="271.8" y="350" width="160.0" height="2" fill="url(#r2)" shape-rendering="crispEdges"/><rect x="271.8" y="352" width="160.0" height="2" fill="url(#r3)" shape-rendering="crispEdges"/><rect x="271.8" y="354" width="160.0" height="2" fill="url(#r4)" shape-rendering="crispEdges"/><rect x="271.8" y="356" width="160.0" height="2" fill="url(#r5)" shape-rendering="crispEdges"/><rect x="271.8" y="358" width="160.0" height="2" fill="url(#r6)" shape-rendering="crispEdges"/><rect x="271.8" y="360" width="160.0" height="2" fill="url(#r7)" shape-rendering="crispEdges"/><rect x="271.8" y="362" width="160.0" height="2" fill="url(#r8)" shape-rendering="crispEdges"/><rect x="271.8" y="364" width="160.0" height="2" fill="url(#r9)" shape-rendering="crispEdges"/><rect x="271.8" y="366" width="160.0" height="2" fill="url(#r10)" shape-rendering="crispEdges"/><rect x="271.8" y="368" width="160.0" height="2" fill="url(#r11)" shape-rendering="crispEdges"/><rect x="271.8" y="370" width="160.0" height="2" fill="url(#r12)" shape-rendering="crispEdges"/><rect x="271.8" y="372" width="160.0" height="2" fill="url(#r13)" shape-rendering="crispEdges"/><rect x="271.8" y="374" width="160.0" height="2" fill="url(#r14)" shape-rendering="crispEdges"/><rect x="271.8" y="376" width="160.0" height="2" fill="url(#r15)" shape-rendering="crispEdges"/><rect x="271.8" y="378" width="160.0" height="2" fill="url(#r16)" shape-rendering="crispEdges"/><rect x="271.8" y="380" width="160.0" height="2" fill="url(#r17)" shape-rendering="crispEdges"/><rect x="271.8" y="382" width="160.0" height="2" fill="url(#r18)" shape-rendering="crispEdges"/><rect x="271.8" y="384" width="160.0" height="2" fill="url(#r19)" shape-rendering="crispEdges"/><rect x="271.8" y="386" width="160.0" height="2" fill="url(#r20)" shape-rendering="crispEdges"/><rect x="271.8" y="388" width="160.0" height="2" fill="url(#r21)" shape-rendering="crispEdges"/><rect x="271.8" y="390" width="160.0" height="2" fill="url(#r22)" shape-rendering="crispEdges"/><rect x="271.8" y="392" width="160.0" height="2" fill="url(#r23)" shape-rendering="crispEdges"/><rect x="271.8" y="394" width="160.0" height="2" fill="url(#r24)" shape-rendering="crispEdges"/><rect x="271.8" y="396" width="160.0" height="2" fill="url(#r25)" shape-rendering="crispEdges"/><rect x="271.8" y="398" width="160.0" height="2" fill="url(#r26)" shape-rendering="crispEdges"/><rect x="271.8" y="400" width="160.0" height="2" fill="url(#r27)" shape-rendering="crispEdges"/><rect x="271.8" y="402" width="160.0" height="2" fill="url(#r28)" shape-rendering="crispEdges"/><rect x="271.8" y="404" width="160.0" height="2" fill="url(#r29)" shape-rendering="crispEdges"/><rect x="271.8" y="406" width="160.0" height="2" fill="url(#r30)" shape-rendering="crispEdges"/><rect x="271.8" y="408" width="160.0" height="2" fill="url(#r31)" shape-rendering="crispEdges"/><rect x="271.8" y="410" width="160.0" height="2" fill="url(#r32)" shape-rendering="crispEdges"/><rect x="271.8" y="412" width="160.0" height="2" fill="url(#r33)" shape-rendering="crispEdges"/><rect x="271.8" y="414" width="160.0" height="2" fill="url(#r34)" shape-rendering="crispEdges"/><rect x="271.8" y="416" width="160.0" height="2" fill="url(#r35)" shape-rendering="crispEdges"/><rect x="271.8" y="418" width="160.0" height="2" fill="url(#r36)" shape-rendering="crispEdges"/><rect x="271.8" y="420" width="160.0" height="2" fill="url(#r37)" shape-rendering="crispEdges"/><rect x="271.8" y="422" width="160.0" height="2" fill="url(#r38)" shape-rendering="crispEdges"/><rect x="271.8" y="424" width="160.0" height="2" fill="url(#r39)" shape-rendering="crispEdges"/><rect x="271.8" y="426" width="160.0" height="2" fill="url(#r40)" shape-rendering="crispEdges"/><rect x="271.8" y="428" width="160.0" height="2" fill="url(#r41)" shape-rendering="crispEdges"/><rect x="271.8" y="430" width="160.0" height="2" fill="url(#r42)" shape-rendering="crispEdges"/><rect x="271.8" y="432" width="160.0" height="2" fill="url(#r43)" shape-rendering="crispEdges"/><rect x="271.8" y="434" width="160.0" height="2" fill="url(#r44)" shape-rendering="crispEdges"/><rect x="271.8" y="436" width="160.0" height="2" fill="url(#r45)" shape-rendering="crispEdges"/><rect x="271.8" y="438" width="160.0" height="2" fill="url(#r46)" shape-rendering="crispEdges"/><rect x="271.8" y="440" width="160.0" height="2" fill="url(#r47)" shape-rendering="crispEdges"/><rect x="271.8" y="442" width="160.0" height="2" fill="url(#r48)" shape-rendering="crispEdges"/><rect x="271.8" y="444" width="160.0" height="2" fill="url(#r49)" shape-rendering="crispEdges"/><rect x="271.8" y="446" width="160.0" height="2" fill="url(#r50)" shape-rendering="crispEdges"/><rect x="271.8" y="448" width="160.0" height="2" fill="url(#r51)" shape-rendering="crispEdges"/><rect x="271.8" y="450" width="160.0" height="2" fill="url(#r52)" shape-rendering="crispEdges"/><rect x="271.8" y="452" width="160.0" height="2" fill="url(#r53)" shape-rendering="crispEdges"/><rect x="271.8" y="454" width="160.0" height="2" fill="url(#r54)" shape-rendering="crispEdges"/><rect x="271.8" y="456" width="160.0" height="2" fill="url(#r55)" shape-rendering="crispEdges"/><rect x="271.8" y="458" width="160.0" height="2" fill="url(#r56)" shape-rendering="crispEdges"/><rect x="271.8" y="460" width="160.0" height="2" fill="url(#r57)" shape-rendering="crispEdges"/><rect x="271.8" y="462" width="160.0" height="2" fill="url(#r58)" shape-rendering="crispEdges"/><rect x="271.8" y="464" width="160.0" height="2" fill="url(#r59)" shape-rendering="crispEdges"/><rect x="271.8" y="466" width="160.0" height="2" fill="url(#r60)" shape-rendering="crispEdges"/><rect x="271.8" y="468" width="160.0" height="2" fill="url(#r61)" shape-rendering="crispEdges"/><rect x="271.8" y="470" width="160.0" height="2" fill="url(#r62)" shape-rendering="crispEdges"/><rect x="271.8" y="472" width="160.0" height="2" fill="url(#r63)" shape-rendering="crispEdges"/><rect x="271.8" y="474" width="160.0" height="2" fill="url(#r64)" shape-rendering="crispEdges"/></g>
<polyline points="298.9,299.9 312.9,355.8 326.4,396.1 337.3,423.3 346,440.5 352.8,451.1 357.9,457.2 362.1,461.3 365.4,464.3 368.1,466.6 370.1,468.3 372.8,470.7 374.3,471.8 375,472 375.4,472 375.7,471.9 375.9,471.8 711.2,317.5" fill="none" stroke="#000" stroke-width="1.5" stroke-linejoin="round"/>
</g>
<line x1="375.9" y1="471.8" x2="378.3" y2="479" stroke="#000" stroke-width="1.4" />
<line x1="375.7" y1="471.9" x2="377.5" y2="479.2" stroke="#000" stroke-width="1.4" />
<line x1="375.4" y1="472" x2="376.1" y2="479.4" stroke="#000" stroke-width="1.4" />
<line x1="375" y1="472" x2="373.9" y2="479.4" stroke="#000" stroke-width="1.4" />
<line x1="374.3" y1="471.8" x2="370.6" y2="478.3" stroke="#000" stroke-width="1.4" />
<line x1="372.8" y1="470.7" x2="368" y2="476.5" stroke="#000" stroke-width="1.4" />
<line x1="370.1" y1="468.3" x2="365.2" y2="474" stroke="#000" stroke-width="1.4" />
<line x1="368.1" y1="466.6" x2="365.2" y2="470" stroke="#000" stroke-width="1.4" />
<line x1="365.4" y1="464.3" x2="360.5" y2="470" stroke="#000" stroke-width="1.4" />
<line x1="362.1" y1="461.3" x2="359" y2="464.6" stroke="#000" stroke-width="1.4" />
<line x1="357.9" y1="457.2" x2="352.4" y2="462.2" stroke="#000" stroke-width="1.4" />
<line x1="352.8" y1="451.1" x2="349.2" y2="453.8" stroke="#000" stroke-width="1.4" />
<line x1="346" y1="440.5" x2="339.5" y2="444.2" stroke="#000" stroke-width="1.4" />
<line x1="337.3" y1="423.3" x2="333.2" y2="425.1" stroke="#000" stroke-width="1.4" />
<line x1="326.4" y1="396.1" x2="319.3" y2="398.7" stroke="#000" stroke-width="1.4" />
<line x1="312.9" y1="355.8" x2="308.6" y2="357" stroke="#000" stroke-width="1.4" />
<rect x="271.8" y="347.5" width="160" height="127.3" fill="none" stroke="#000" stroke-width="1.5" />
<line x1="268" y1="474.8" x2="271.8" y2="474.8" stroke="#000" stroke-width="1.3" />
<text x="267.4" y="479.8" font-size="14" text-anchor="end" fill="#000" font-weight="normal" stroke="#000" stroke-width="0.12" >0.0</text>
<line x1="268" y1="415.5" x2="271.8" y2="415.5" stroke="#000" stroke-width="1.3" />
<text x="267.4" y="420.5" font-size="14" text-anchor="end" fill="#000" font-weight="normal" stroke="#000" stroke-width="0.12" >0.1</text>
<line x1="268" y1="356.2" x2="271.8" y2="356.2" stroke="#000" stroke-width="1.3" />
<text x="267.4" y="362.7" font-size="14" text-anchor="end" fill="#000" font-weight="normal" stroke="#000" stroke-width="0.12" >0.2</text>
<line x1="271.8" y1="474.8" x2="271.8" y2="478.4" stroke="#000" stroke-width="1.3" />
<text x="271.8" y="496.6" font-size="14" text-anchor="middle" fill="#000" font-weight="normal" stroke="#000" stroke-width="0.12" >0</text>
<line x1="331.6" y1="474.8" x2="331.6" y2="478.4" stroke="#000" stroke-width="1.3" />
<text x="331.6" y="496.6" font-size="14" text-anchor="middle" fill="#000" font-weight="normal" stroke="#000" stroke-width="0.12" >0.1</text>
<line x1="391.4" y1="474.8" x2="391.4" y2="478.4" stroke="#000" stroke-width="1.3" />
<text x="391.4" y="496.6" font-size="14" text-anchor="middle" fill="#000" font-weight="normal" stroke="#000" stroke-width="0.12" >0.2</text>
<text x="287.4" y="406.4" font-size="16.2" text-anchor="start" fill="#1f6dff" font-weight="normal" stroke="#1f6dff" stroke-width="0.12" >480</text>
<text x="308.4" y="447.6" font-size="16.2" text-anchor="start" fill="#1f6dff" font-weight="normal" stroke="#1f6dff" stroke-width="0.12" >470</text>
<text x="315.7" y="470.6" font-size="16.2" text-anchor="start" fill="#1f6dff" font-weight="normal" stroke="#1f6dff" stroke-width="0.12" >460</text>
<text x="390.8" y="482.6" font-size="16.2" text-anchor="start" fill="#1f6dff" font-weight="normal" stroke="#1f6dff" stroke-width="0.12" >380</text>
<circle cx="333.9" cy="395.7" r="3.6" fill="#000"/>
<circle cx="361.5" cy="386.3" r="3.6" fill="#000"/>
<circle cx="362.4" cy="436.2" r="4.6" fill="#2a6cf8"/>
<circle cx="351" cy="450.3" r="3.9" fill="#f2401c"/>
<polygon points="359.2,436.1 360.5,439.5 364.1,439.7 361.3,442 362.3,445.5 359.2,443.5 356.1,445.5 357.1,442 354.3,439.7 357.9,439.5" fill="#f2401c"/>
<text x="357.2" y="380.3" font-size="11.8" text-anchor="end" fill="#000" font-weight="normal" stroke="#000" stroke-width="0.12" >OLED</text>
<text x="373" y="380.6" font-size="12" text-anchor="start" fill="#000" font-weight="normal" stroke="#000" stroke-width="0.12" >CsPbCl<tspan dy="2.5" font-size="8.5">3</tspan><tspan dy="-2.5">:</tspan></text>
<text x="372.6" y="395.6" font-size="11.8" text-anchor="start" fill="#000" font-weight="normal" stroke="#000" stroke-width="0.12" >Eu<tspan dy="-5" font-size="8.5">3+</tspan><tspan dy="5">(0.8%)</tspan></text>
<text x="282.4" y="417.6" font-size="11.6" text-anchor="start" fill="#000" font-weight="normal" stroke="#000" stroke-width="0.12" >PEA<tspan dy="2.5" font-size="8.2">2</tspan><tspan dy="-2.5">(Cs</tspan><tspan dy="2.5" font-size="8.2">1-x</tspan><tspan dy="-2.5">EA</tspan><tspan dy="2.5" font-size="8.2">x</tspan><tspan dy="-2.5">PbBr</tspan><tspan dy="2.5" font-size="8.2">3</tspan><tspan dy="-2.5">)</tspan><tspan dy="2.5" font-size="8.2">2</tspan><tspan dy="-2.5">PbBr</tspan><tspan dy="2.5" font-size="8.2">4</tspan></text>
<text x="368.6" y="447.4" font-size="11.9" text-anchor="start" fill="#000" font-weight="normal" stroke="#000" stroke-width="0.12" >This work</text>
<text x="280.8" y="458.4" font-size="11.7" text-anchor="start" fill="#000" font-weight="normal" stroke="#000" stroke-width="0.12" >REC 2020</text>
</svg>
</body></html>
